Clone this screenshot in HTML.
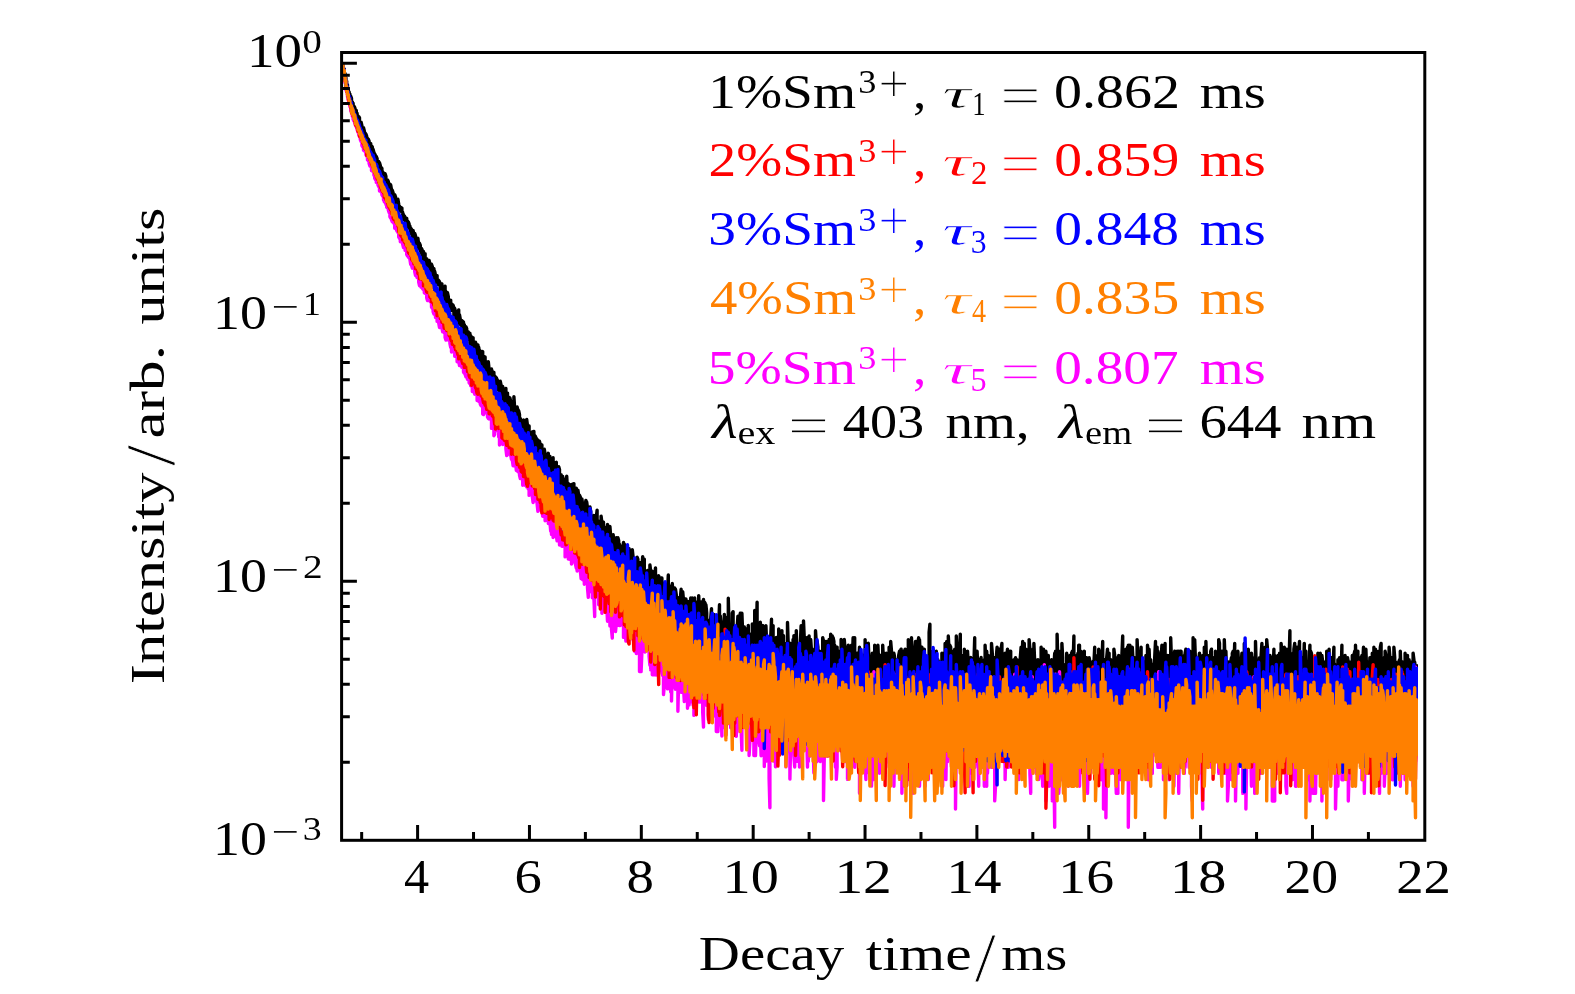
<!DOCTYPE html>
<html><head><meta charset="utf-8"><title>Decay curves</title>
<style>html,body{margin:0;padding:0;background:#fff}svg{display:block}text{font-family:"Liberation Serif",serif}</style>
</head><body>
<svg width="1575" height="994" viewBox="0 0 1575 994">
<rect width="1575" height="994" fill="#fff"/>
<g id="curves">
<polyline points="343.1,63.7 343.1,67.5 344.3,69.0 344.3,73.4 345.1,73.7 345.1,76.9 345.9,77.7 345.9,81.6 346.7,81.2 346.7,85.2 347.5,85.0 347.5,88.7 348.3,88.4 348.3,92.2 349.1,91.9 349.1,94.5 349.9,93.9 349.9,97.3 350.7,98.2 350.7,96.1 351.5,98.3 351.5,102.3 352.3,101.7 352.3,103.6 353.1,103.2 353.1,107.2 353.9,106.1 353.9,109.3 354.7,110.5 354.7,107.3 355.5,110.5 355.5,112.0 356.3,110.5 356.3,113.7 357.1,113.3 357.1,116.4 357.9,115.9 357.9,119.5 358.7,121.1 358.7,116.6 359.5,117.7 359.5,123.2 360.3,122.7 360.3,126.0 361.1,126.0 361.1,122.1 361.9,125.6 361.9,127.5 362.7,128.5 362.7,131.8 363.5,132.5 363.5,127.7 364.3,130.8 364.3,132.8 365.1,133.0 365.1,136.0 365.9,136.7 365.9,134.0 366.7,136.3 366.7,139.0 367.5,138.3 367.5,142.3 368.3,141.4 368.3,139.2 369.1,141.1 369.1,143.3 369.9,143.3 369.9,145.8 370.7,143.5 370.7,148.2 371.5,149.0 371.5,146.0 372.3,146.9 372.3,152.6 373.1,154.0 373.1,149.3 373.9,152.4 373.9,156.2 374.7,156.6 374.7,153.8 375.5,155.7 375.5,158.8 376.3,160.4 376.3,156.5 377.1,158.7 377.1,163.2 377.9,164.7 377.9,161.5 378.7,161.5 378.7,165.7 379.5,167.6 379.5,162.7 380.3,165.4 380.3,169.2 381.1,170.5 381.1,167.4 381.9,168.3 381.9,172.9 382.7,171.9 382.7,178.8 383.5,176.5 383.5,173.0 384.3,174.3 384.3,178.8 385.1,177.2 385.1,173.8 385.9,176.2 385.9,180.8 386.7,180.4 386.7,183.0 387.5,185.2 387.5,180.0 388.3,181.3 388.3,186.8 389.1,186.2 389.1,185.0 389.9,184.0 389.9,189.2 390.7,190.7 390.7,185.0 391.5,189.8 391.5,193.4 392.3,193.0 392.3,190.3 393.1,192.8 393.1,196.1 393.9,194.8 393.9,198.3 394.7,200.9 394.7,194.7 395.5,196.8 395.5,203.1 396.3,205.1 396.3,200.0 397.1,200.5 397.1,205.6 397.9,206.9 397.9,199.3 398.7,204.0 398.7,209.8 399.5,209.9 399.5,206.2 400.3,207.6 400.3,210.7 401.1,211.3 401.1,207.7 401.9,208.0 401.9,212.3 402.7,212.3 402.7,216.9 403.5,214.6 403.5,219.4 404.3,219.7 404.3,215.9 405.1,217.4 405.1,220.4 405.9,222.2 405.9,218.1 406.7,218.3 406.7,222.7 407.5,221.0 407.5,224.7 408.3,227.2 408.3,221.9 409.1,223.9 409.1,227.8 409.9,226.1 409.9,229.6 410.7,228.1 410.7,233.8 411.5,232.6 411.5,229.1 412.3,230.9 412.3,237.7 413.1,236.5 413.1,230.5 413.9,234.4 413.9,239.5 414.7,241.6 414.7,233.4 415.5,235.8 415.5,242.6 416.3,245.5 416.3,238.2 417.1,239.2 417.1,248.2 417.9,246.0 417.9,238.1 418.7,244.9 418.7,248.6 419.5,248.9 419.5,243.3 420.3,245.3 420.3,250.5 421.1,252.8 421.1,248.1 421.9,249.2 421.9,255.7 422.7,254.0 422.7,250.9 423.5,251.5 423.5,259.2 424.3,260.8 424.3,255.0 425.1,253.7 425.1,262.7 425.9,262.2 425.9,258.5 426.7,258.8 426.7,265.3 427.5,265.5 427.5,260.1 428.3,260.8 428.3,264.5 429.1,266.7 429.1,260.4 429.9,264.1 429.9,269.3 430.7,265.8 430.7,272.9 431.5,273.1 431.5,264.3 432.3,266.6 432.3,273.7 433.1,276.1 433.1,269.8 433.9,268.6 433.9,277.7 434.7,277.4 434.7,271.3 435.5,275.3 435.5,281.1 436.3,282.6 436.3,275.4 437.1,275.6 437.1,282.5 437.9,284.4 437.9,279.9 438.7,280.6 438.7,284.2 439.5,284.4 439.5,281.6 440.3,287.4 440.3,293.7 441.1,291.6 441.1,284.2 441.9,284.0 441.9,293.5 442.7,293.4 442.7,290.1 443.5,290.4 443.5,296.2 444.3,298.1 444.3,292.0 445.1,286.2 445.1,298.4 445.9,301.4 445.9,291.5 446.7,295.9 446.7,301.4 447.5,299.8 447.5,292.8 448.3,296.7 448.3,301.6 449.1,299.6 449.1,305.9 449.9,307.2 449.9,301.8 450.7,300.2 450.7,310.7 451.5,309.4 451.5,305.0 452.3,304.6 452.3,309.2 453.1,311.1 453.1,305.2 453.9,307.6 453.9,316.3 454.7,315.3 454.7,308.5 455.5,311.6 455.5,317.3 456.3,318.6 456.3,315.1 457.1,312.7 457.1,320.0 457.9,321.5 457.9,312.9 458.7,310.0 458.7,322.6 459.5,323.6 459.5,314.9 460.3,319.4 460.3,324.8 461.1,322.9 461.1,321.0 461.9,320.8 461.9,328.9 462.7,330.4 462.7,321.3 463.5,322.2 463.5,332.6 464.3,331.5 464.3,324.7 465.1,328.5 465.1,333.6 465.9,337.5 465.9,326.7 466.7,328.6 466.7,336.1 467.5,338.4 467.5,333.1 468.3,331.9 468.3,338.7 469.1,339.4 469.1,334.9 469.9,333.2 469.9,343.0 470.7,347.3 470.7,335.6 471.5,337.5 471.5,344.5 472.3,345.0 472.3,338.6 473.1,337.7 473.1,347.8 473.9,349.7 473.9,342.8 474.7,345.7 474.7,351.1 475.5,352.0 475.5,342.2 476.3,344.9 476.3,352.6 477.1,355.7 477.1,345.5 477.9,345.0 477.9,355.7 478.7,362.3 478.7,347.3 479.5,352.7 479.5,361.1 480.3,362.1 480.3,355.2 481.1,351.3 481.1,362.1 481.9,369.4 481.9,352.9 482.7,351.6 482.7,370.1 483.5,364.7 483.5,356.2 484.3,357.4 484.3,366.1 485.1,357.0 485.1,377.2 485.9,368.7 485.9,361.8 486.7,363.2 486.7,368.5 487.5,366.4 487.5,376.9 488.3,373.2 488.3,361.6 489.1,369.5 489.1,375.5 489.9,379.3 489.9,370.7 490.7,370.5 490.7,376.6 491.5,375.3 491.5,369.0 492.3,372.6 492.3,383.4 493.1,388.2 493.1,375.8 493.9,372.5 493.9,383.2 494.7,387.1 494.7,376.0 495.5,377.0 495.5,390.9 496.3,386.6 496.3,377.8 497.1,379.6 497.1,386.7 497.9,389.8 497.9,380.8 498.7,382.5 498.7,389.5 499.5,386.6 499.5,393.3 500.3,399.0 500.3,381.3 501.1,385.4 501.1,398.6 501.9,397.2 501.9,386.5 502.7,386.4 502.7,400.2 503.5,400.4 503.5,391.3 504.3,391.3 504.3,404.6 505.1,404.0 505.1,394.2 505.9,388.5 505.9,406.9 506.7,405.3 506.7,396.6 507.5,393.1 507.5,407.5 508.3,411.4 508.3,401.0 509.1,397.5 509.1,413.7 509.9,410.1 509.9,397.9 510.7,401.7 510.7,408.2 511.5,405.6 511.5,411.6 512.3,415.2 512.3,405.9 513.1,405.7 513.1,414.9 513.9,414.3 513.9,396.7 514.7,408.9 514.7,416.7 515.5,418.7 515.5,411.3 516.3,413.4 516.3,418.2 517.1,421.6 517.1,406.9 517.9,410.1 517.9,426.8 518.7,426.8 518.7,410.8 519.5,414.7 519.5,426.4 520.3,425.8 520.3,418.5 521.1,422.6 521.1,435.0 521.9,426.4 521.9,420.4 522.7,423.4 522.7,431.5 523.5,436.8 523.5,420.0 524.3,421.1 524.3,435.3 525.1,437.2 525.1,424.4 525.9,424.2 525.9,435.3 526.7,435.1 526.7,419.5 527.5,425.8 527.5,438.0 528.3,438.9 528.3,430.7 529.1,426.0 529.1,441.4 529.9,440.5 529.9,433.9 530.7,433.8 530.7,447.2 531.5,450.3 531.5,436.6 532.3,432.0 532.3,445.2 533.1,445.4 533.1,435.2 533.9,431.4 533.9,445.6 534.7,450.9 534.7,435.5 535.5,436.5 535.5,456.5 536.3,456.6 536.3,438.3 537.1,440.7 537.1,458.7 537.9,459.1 537.9,439.9 538.7,442.0 538.7,454.8 539.5,453.6 539.5,441.3 540.3,444.9 540.3,465.2 541.1,461.8 541.1,449.3 541.9,444.9 541.9,459.3 542.7,458.5 542.7,449.2 543.5,453.8 543.5,459.9 544.3,459.8 544.3,449.2 545.1,454.3 545.1,466.2 545.9,463.2 545.9,456.0 546.7,459.9 546.7,470.0 547.5,475.2 547.5,457.0 548.3,453.3 548.3,463.6 549.1,467.2 549.1,459.2 549.9,456.4 549.9,471.0 550.7,472.6 550.7,463.9 551.5,463.7 551.5,475.9 552.3,480.8 552.3,466.6 553.1,457.8 553.1,484.3 553.9,476.7 553.9,463.4 554.7,470.0 554.7,478.8 555.5,482.2 555.5,462.9 556.3,462.3 556.3,475.2 557.1,478.5 557.1,467.0 557.9,467.1 557.9,483.1 558.7,485.7 558.7,466.6 559.5,469.5 559.5,488.9 560.3,489.9 560.3,476.1 561.1,474.7 561.1,495.9 561.9,484.5 561.9,476.4 562.7,476.5 562.7,489.8 563.5,490.9 563.5,478.6 564.3,481.1 564.3,503.9 565.1,496.7 565.1,483.7 565.9,489.0 565.9,505.7 566.7,502.7 566.7,476.2 567.5,490.6 567.5,500.0 568.3,499.6 568.3,483.4 569.1,490.8 569.1,503.2 569.9,507.9 569.9,486.1 570.7,484.9 570.7,502.5 571.5,505.6 571.5,485.1 572.3,484.3 572.3,501.7 573.1,508.5 573.1,489.5 573.9,483.6 573.9,513.4 574.7,521.5 574.7,493.9 575.5,493.1 575.5,505.2 576.3,518.9 576.3,488.2 577.1,499.0 577.1,518.4 577.9,521.0 577.9,490.1 578.7,495.7 578.7,518.8 579.5,514.3 579.5,495.3 580.3,496.9 580.3,510.1 581.1,504.9 581.1,521.5 581.9,510.8 581.9,499.0 582.7,505.1 582.7,520.5 583.5,524.3 583.5,503.7 584.3,504.2 584.3,524.4 585.1,519.7 585.1,505.9 585.9,500.4 585.9,523.4 586.7,523.5 586.7,502.0 587.5,508.2 587.5,529.9 588.3,525.6 588.3,507.8 589.1,511.7 589.1,541.7 589.9,529.5 589.9,506.9 590.7,511.3 590.7,535.6 591.5,529.8 591.5,518.7 592.3,517.7 592.3,536.5 593.1,529.4 593.1,517.7 593.9,515.5 593.9,534.0 594.7,536.2 594.7,515.6 595.5,518.0 595.5,547.8 596.3,546.4 596.3,517.4 597.1,510.2 597.1,539.2 597.9,549.7 597.9,520.6 598.7,521.8 598.7,543.1 599.5,532.7 599.5,526.2 600.3,527.5 600.3,541.0 601.1,554.1 601.1,516.1 601.9,522.7 601.9,543.4 602.7,553.5 602.7,527.8 603.5,522.3 603.5,544.3 604.3,540.8 604.3,531.2 605.1,527.4 605.1,548.2 605.9,546.1 605.9,532.7 606.7,537.5 606.7,544.7 607.5,564.3 607.5,524.4 608.3,532.2 608.3,551.8 609.1,536.3 609.1,569.0 609.9,551.2 609.9,526.5 610.7,536.4 610.7,566.4 611.5,553.7 611.5,540.7 612.3,539.4 612.3,561.3 613.1,562.3 613.1,534.6 613.9,540.2 613.9,559.8 614.7,552.4 614.7,538.1 615.5,545.5 615.5,568.9 616.3,560.0 616.3,537.6 617.1,541.9 617.1,567.2 617.9,561.9 617.9,537.7 618.7,540.6 618.7,563.8 619.5,568.4 619.5,544.3 620.3,547.4 620.3,562.1 621.1,564.8 621.1,550.6 621.9,551.4 621.9,595.8 622.7,574.4 622.7,549.1 623.5,542.4 623.5,573.5 624.3,569.7 624.3,543.9 625.1,553.2 625.1,584.9 625.9,579.7 625.9,559.2 626.7,550.1 626.7,580.9 627.5,588.4 627.5,557.6 628.3,556.8 628.3,572.0 629.1,579.1 629.1,548.8 629.9,554.4 629.9,575.1 630.7,579.1 630.7,556.1 631.5,552.9 631.5,577.2 632.3,578.3 632.3,549.7 633.1,557.1 633.1,583.6 633.9,583.6 633.9,560.5 634.7,568.7 634.7,584.8 635.5,590.4 635.5,563.3 636.3,563.4 636.3,576.6 637.1,581.8 637.1,557.3 637.9,559.1 637.9,581.8 638.7,580.8 638.7,564.4 639.5,566.2 639.5,596.6 640.3,579.9 640.3,562.7 641.1,569.1 641.1,595.5 641.9,590.9 641.9,567.3 642.7,556.7 642.7,591.0 643.5,596.9 643.5,566.5 644.3,559.3 644.3,597.0 645.1,592.3 645.1,576.2 645.9,575.2 645.9,608.6 646.7,600.9 646.7,578.2 647.5,570.4 647.5,591.4 648.3,599.7 648.3,577.3 649.1,582.6 649.1,604.9 649.9,607.6 649.9,564.9 650.7,571.5 650.7,593.9 651.5,598.7 651.5,570.6 652.3,587.1 652.3,605.2 653.1,601.4 653.1,571.6 653.9,579.7 653.9,604.0 654.7,614.9 654.7,575.6 655.5,567.9 655.5,599.0 656.3,613.6 656.3,582.9 657.1,579.8 657.1,612.3 657.9,615.1 657.9,578.8 658.7,575.8 658.7,612.4 659.5,612.4 659.5,585.3 660.3,583.1 660.3,612.5 661.1,604.4 661.1,577.9 661.9,577.9 661.9,615.4 662.7,609.8 662.7,593.3 663.5,594.6 663.5,611.3 664.3,607.2 664.3,583.2 665.1,591.1 665.1,612.8 665.9,621.6 665.9,584.4 666.7,592.3 666.7,608.7 667.5,610.1 667.5,592.4 668.3,575.0 668.3,610.1 669.1,623.3 669.1,585.6 669.9,586.7 669.9,611.6 670.7,623.4 670.7,592.5 671.5,585.7 671.5,618.9 672.3,638.4 672.3,583.5 673.1,597.4 673.1,613.2 673.9,626.7 673.9,588.0 674.7,588.0 674.7,622.1 675.5,617.6 675.5,589.2 676.3,595.1 676.3,620.6 677.1,623.7 677.1,600.0 677.9,597.5 677.9,619.2 678.7,623.8 678.7,605.2 679.5,601.4 679.5,633.6 680.3,633.7 680.3,598.8 681.1,589.3 681.1,617.9 681.9,597.7 681.9,654.3 682.7,628.8 682.7,591.7 683.5,600.2 683.5,621.0 684.3,627.3 684.3,606.7 685.1,599.0 685.1,622.6 685.9,624.2 685.9,599.0 686.7,609.5 686.7,629.0 687.5,630.7 687.5,602.9 688.3,601.6 688.3,632.4 689.1,625.8 689.1,601.6 689.9,611.0 689.9,618.2 690.7,632.5 690.7,597.9 691.5,606.9 691.5,656.9 692.3,624.4 692.3,597.9 693.1,619.8 693.1,634.3 693.9,630.9 693.9,612.5 694.7,598.0 694.7,632.6 695.5,632.7 695.5,601.8 696.3,608.4 696.3,643.4 697.1,639.7 697.1,609.8 697.9,619.9 697.9,636.2 698.7,632.8 698.7,595.6 699.5,614.1 699.5,641.6 700.3,638.1 700.3,608.5 701.1,601.9 701.1,645.4 701.9,666.3 701.9,621.6 702.7,629.6 702.7,609.9 703.5,599.4 703.5,631.2 704.3,640.0 704.3,601.9 705.1,603.2 705.1,649.5 705.9,634.7 705.9,604.6 706.7,612.8 706.7,636.5 707.5,638.3 707.5,621.7 708.3,620.2 708.3,657.7 709.1,647.6 709.1,626.5 709.9,621.8 709.9,655.7 710.7,647.7 710.7,618.7 711.5,608.7 711.5,649.7 712.3,651.7 712.3,623.4 713.1,621.8 713.1,640.2 713.9,655.9 713.9,614.4 714.7,628.2 714.7,674.0 715.5,664.6 715.5,628.2 716.3,618.8 716.3,653.9 717.1,656.0 717.1,615.9 717.9,617.4 717.9,658.1 718.7,656.0 718.7,625.1 719.5,604.7 719.5,649.9 720.3,636.8 720.3,615.9 721.1,623.5 721.1,642.3 721.9,623.5 721.9,669.5 722.7,658.2 722.7,622.0 723.5,622.0 723.5,652.0 724.3,656.2 724.3,614.5 725.1,620.5 725.1,656.2 725.9,644.3 725.9,617.5 726.7,635.2 726.7,662.7 727.5,656.3 727.5,626.8 728.3,640.6 728.3,598.3 729.1,631.8 729.1,656.3 729.9,665.1 729.9,625.2 730.7,640.6 730.7,652.2 731.5,631.8 731.5,674.6 732.3,648.3 732.3,613.1 733.1,611.7 733.1,656.4 733.9,672.2 733.9,628.5 734.7,630.2 734.7,672.3 735.5,663.0 735.5,635.3 736.3,631.9 736.3,660.8 737.1,679.9 737.1,628.6 737.9,616.1 737.9,654.4 738.7,637.1 738.7,690.9 739.5,663.1 739.5,619.1 740.3,613.2 740.3,648.4 741.1,658.7 741.1,635.4 741.9,648.4 741.9,613.2 742.7,633.7 742.7,650.4 743.5,637.2 743.5,696.9 744.3,682.7 744.3,627.0 745.1,632.0 745.1,650.5 745.9,661.0 745.9,635.5 746.7,628.7 746.7,661.0 747.5,677.6 747.5,640.9 748.3,625.4 748.3,663.2 749.1,658.8 749.1,646.6 749.9,639.1 749.9,672.6 750.7,667.9 750.7,635.5 751.5,633.8 751.5,661.1 752.3,663.3 752.3,623.9 753.1,635.5 753.1,670.3 753.9,688.4 753.9,644.7 754.7,652.6 754.7,610.5 755.5,630.4 755.5,672.7 756.3,670.3 756.3,637.4 757.1,602.3 757.1,672.8 757.9,661.2 757.9,637.4 758.7,635.6 758.7,659.0 759.5,670.4 759.5,635.6 760.3,622.3 760.3,683.1 761.1,680.5 761.1,632.2 761.9,632.2 761.9,663.5 762.7,675.4 762.7,625.5 763.5,639.2 763.5,685.9 764.3,680.5 764.3,637.4 765.1,639.2 765.1,670.5 765.9,672.9 765.9,625.6 766.7,644.8 766.7,665.8 767.5,659.1 767.5,637.4 768.3,637.5 768.3,661.3 769.1,665.8 769.1,639.3 769.9,643.0 769.9,691.7 770.7,691.7 770.7,637.5 771.5,619.3 771.5,688.8 772.3,673.0 772.3,635.7 773.1,625.6 773.1,670.6 773.9,673.0 773.9,639.3 774.7,648.8 774.7,694.7 775.5,691.7 775.5,646.8 776.3,637.5 776.3,686.1 777.1,686.1 777.1,652.9 777.9,644.9 777.9,678.1 778.7,680.7 778.7,628.9 779.5,639.3 779.5,661.4 780.3,646.9 780.3,678.2 781.1,661.4 781.1,650.9 781.9,630.6 781.9,689.0 782.7,670.7 782.7,648.9 783.5,635.8 783.5,666.0 784.3,643.1 784.3,697.9 785.1,680.8 785.1,646.9 785.9,648.9 785.9,689.0 786.7,675.7 786.7,648.9 787.5,661.5 787.5,622.5 788.3,646.9 788.3,707.6 789.1,673.2 789.1,657.1 789.9,643.1 789.9,686.3 790.7,698.0 790.7,657.2 791.5,666.1 791.5,646.9 792.3,653.0 792.3,668.4 793.1,639.4 793.1,704.3 793.9,704.3 793.9,635.8 794.7,635.8 794.7,692.0 795.5,675.8 795.5,650.9 796.3,663.8 796.3,630.6 797.1,659.4 797.1,675.8 797.9,647.0 797.9,714.6 798.7,704.4 798.7,657.2 799.5,647.0 799.5,686.4 800.3,686.4 800.3,645.1 801.1,625.7 801.1,681.0 801.9,683.7 801.9,659.4 802.7,647.0 802.7,695.1 803.5,675.8 803.5,620.9 804.3,639.4 804.3,686.4 805.1,657.2 805.1,643.2 805.9,655.1 805.9,689.3 806.7,704.5 806.7,637.6 807.5,641.3 807.5,675.9 808.3,683.7 808.3,649.0 809.1,635.9 809.1,670.9 809.9,649.0 809.9,695.1 810.7,681.1 810.7,639.5 811.5,651.0 811.5,686.5 812.3,681.1 812.3,653.1 813.1,657.3 813.1,681.1 813.9,695.2 813.9,651.0 814.7,649.0 814.7,695.2 815.5,686.5 815.5,630.7 816.3,643.2 816.3,686.5 817.1,686.5 817.1,641.3 817.9,647.1 817.9,675.9 818.7,692.3 818.7,655.2 819.5,651.1 819.5,681.1 820.3,683.8 820.3,655.2 821.1,661.7 821.1,678.5 821.9,655.2 821.9,714.9 822.7,689.4 822.7,637.7 823.5,641.3 823.5,683.8 824.3,698.3 824.3,655.2 825.1,641.4 825.1,673.5 825.9,661.7 825.9,701.5 826.7,666.3 826.7,641.4 827.5,657.3 827.5,686.6 828.3,673.5 828.3,661.7 829.1,639.5 829.1,704.7 829.9,698.4 829.9,659.5 830.7,634.1 830.7,692.3 831.5,711.5 831.5,643.2 832.3,635.9 832.3,678.6 833.1,692.4 833.1,637.7 833.9,641.4 833.9,708.1 834.7,676.0 834.7,645.2 835.5,659.5 835.5,683.9 836.3,681.2 836.3,651.1 837.1,647.1 837.1,689.5 837.9,692.4 837.9,664.0 838.7,657.4 838.7,689.5 839.5,711.6 839.5,651.1 840.3,653.2 840.3,711.6 841.1,671.1 841.1,639.5 841.9,666.3 841.9,715.1 842.7,686.7 842.7,664.0 843.5,647.1 843.5,686.7 844.3,689.5 844.3,639.5 845.1,651.1 845.1,678.6 845.9,689.5 845.9,657.4 846.7,653.2 846.7,689.5 847.5,692.4 847.5,655.3 848.3,645.2 848.3,676.1 849.1,659.6 849.1,708.2 849.9,692.5 849.9,659.6 850.7,657.4 850.7,678.7 851.5,645.2 851.5,715.2 852.3,678.7 852.3,661.8 853.1,637.7 853.1,704.9 853.9,686.7 853.9,649.1 854.7,637.7 854.7,692.5 855.5,698.5 855.5,666.4 856.3,659.6 856.3,704.9 857.1,689.6 857.1,653.2 857.9,657.4 857.9,684.0 858.7,689.6 858.7,664.1 859.5,647.2 859.5,681.3 860.3,689.6 860.3,661.8 861.1,657.4 861.1,686.8 861.9,708.3 861.9,657.4 862.7,655.3 862.7,684.0 863.5,692.5 863.5,661.8 864.3,661.8 864.3,708.3 865.1,692.5 865.1,639.6 865.9,676.1 865.9,692.5 866.7,681.3 866.7,659.6 867.5,668.8 867.5,689.6 868.3,684.0 868.3,643.3 869.1,664.1 869.1,708.3 869.9,698.6 869.9,657.5 870.7,673.6 870.7,705.0 871.5,686.8 871.5,666.4 872.3,653.2 872.3,692.5 873.1,695.5 873.1,661.8 873.9,666.4 873.9,711.8 874.7,701.7 874.7,645.2 875.5,653.2 875.5,701.8 876.3,715.3 876.3,668.8 877.1,661.9 877.1,695.5 877.9,692.6 877.9,645.2 878.7,664.1 878.7,708.3 879.5,705.0 879.5,659.6 880.3,655.3 880.3,684.1 881.1,686.8 881.1,678.7 881.9,673.7 881.9,726.7 882.7,692.6 882.7,645.2 883.5,661.9 883.5,695.6 884.3,719.0 884.3,653.2 885.1,668.8 885.1,698.6 885.9,684.1 885.9,657.5 886.7,653.3 886.7,686.9 887.5,701.8 887.5,655.3 888.3,673.7 888.3,686.9 889.1,686.9 889.1,647.2 889.9,653.3 889.9,698.6 890.7,705.0 890.7,641.4 891.5,651.2 891.5,689.7 892.3,701.8 892.3,659.7 893.1,661.9 893.1,692.6 893.9,692.6 893.9,653.3 894.7,657.5 894.7,705.1 895.5,689.7 895.5,673.7 896.3,659.7 896.3,705.1 897.1,701.8 897.1,666.5 897.9,661.9 897.9,695.6 898.7,698.7 898.7,655.4 899.5,651.2 899.5,684.1 900.3,701.8 900.3,651.2 901.1,649.2 901.1,695.6 901.9,701.8 901.9,666.5 902.7,651.2 902.7,686.9 903.5,676.2 903.5,701.8 904.3,708.4 904.3,673.7 905.1,692.6 905.1,649.2 905.9,651.2 905.9,695.6 906.7,678.8 906.7,661.9 907.5,649.2 907.5,698.7 908.3,698.7 908.3,639.6 909.1,657.5 909.1,726.8 909.9,708.4 909.9,664.2 910.7,647.2 910.7,692.6 911.5,708.4 911.5,637.8 912.3,671.2 912.3,698.7 913.1,686.9 913.1,657.5 913.9,653.3 913.9,708.4 914.7,695.6 914.7,651.2 915.5,641.5 915.5,692.7 916.3,705.1 916.3,657.5 917.1,651.2 917.1,715.5 917.9,673.7 917.9,641.5 918.7,637.8 918.7,684.2 919.5,681.5 919.5,639.6 920.3,657.5 920.3,689.8 921.1,695.7 921.1,653.3 921.9,647.2 921.9,686.9 922.7,708.5 922.7,653.3 923.5,657.5 923.5,698.7 924.3,695.7 924.3,649.2 925.1,664.2 925.1,689.8 925.9,692.7 925.9,661.9 926.7,664.2 926.7,698.7 927.5,705.1 927.5,657.5 928.3,666.5 928.3,698.7 929.1,689.8 929.1,632.5 929.9,624.2 929.9,698.7 930.7,692.7 930.7,651.2 931.5,661.9 931.5,708.5 932.3,708.5 932.3,655.4 933.1,671.3 933.1,692.7 933.9,715.5 933.9,661.9 934.7,657.5 934.7,726.9 935.5,684.2 935.5,661.9 936.3,651.2 936.3,695.7 937.1,695.7 937.1,673.7 937.9,659.7 937.9,708.5 938.7,698.8 938.7,664.2 939.5,676.3 939.5,708.5 940.3,701.9 940.3,661.9 941.1,661.9 941.1,698.8 941.9,701.9 941.9,653.3 942.7,655.4 942.7,686.9 943.5,705.2 943.5,653.3 944.3,655.4 944.3,678.8 945.1,692.7 945.1,643.4 945.9,653.3 945.9,701.9 946.7,698.8 946.7,641.5 947.5,657.5 947.5,705.2 948.3,695.7 948.3,636.0 949.1,651.2 949.1,698.8 949.9,726.9 949.9,645.3 950.7,647.2 950.7,695.7 951.5,705.2 951.5,684.2 952.3,681.5 952.3,708.5 953.1,712.0 953.1,651.2 953.9,666.5 953.9,715.5 954.7,687.0 954.7,649.2 955.5,671.3 955.5,705.2 956.3,723.0 956.3,636.0 957.1,661.9 957.1,695.7 957.9,698.8 957.9,668.9 958.7,655.4 958.7,719.2 959.5,708.5 959.5,651.2 960.3,634.2 960.3,705.2 961.1,701.9 961.1,657.5 961.9,661.9 961.9,698.8 962.7,698.8 962.7,655.4 963.5,671.3 963.5,723.0 964.3,695.7 964.3,649.2 965.1,657.5 965.1,695.7 965.9,689.8 965.9,666.5 966.7,676.3 966.7,712.0 967.5,695.7 967.5,651.2 968.3,664.2 968.3,692.7 969.1,701.9 969.1,666.5 969.9,661.9 969.9,698.8 970.7,723.0 970.7,657.5 971.5,666.5 971.5,731.0 972.3,698.8 972.3,664.2 973.1,678.9 973.1,692.7 973.9,695.7 973.9,664.2 974.7,637.8 974.7,698.8 975.5,719.2 975.5,653.3 976.3,659.7 976.3,698.8 977.1,727.0 977.1,651.2 977.9,671.3 977.9,695.7 978.7,708.5 978.7,664.2 979.5,659.7 979.5,692.7 980.3,705.2 980.3,666.5 981.1,657.5 981.1,698.8 981.9,705.2 981.9,666.5 982.7,664.2 982.7,695.7 983.5,689.8 983.5,676.3 984.3,659.7 984.3,695.7 985.1,692.7 985.1,645.3 985.9,668.9 985.9,698.8 986.7,715.6 986.7,651.3 987.5,664.2 987.5,708.6 988.3,698.8 988.3,655.4 989.1,668.9 989.1,708.6 989.9,692.7 989.9,668.9 990.7,673.8 990.7,702.0 991.5,687.0 991.5,643.4 992.3,653.3 992.3,692.7 993.1,708.6 993.1,664.2 993.9,666.5 993.9,702.0 994.7,705.2 994.7,657.6 995.5,678.9 995.5,705.2 996.3,689.8 996.3,657.6 997.1,647.2 997.1,705.2 997.9,708.6 997.9,657.6 998.7,676.3 998.7,708.6 999.5,698.8 999.5,649.2 1000.3,657.6 1000.3,702.0 1001.1,681.5 1001.1,649.2 1001.9,643.4 1001.9,698.8 1002.7,719.3 1002.7,657.6 1003.5,655.4 1003.5,689.8 1004.3,695.7 1004.3,678.9 1005.1,695.7 1005.1,653.3 1005.9,666.5 1005.9,702.0 1006.7,715.6 1006.7,659.7 1007.5,649.2 1007.5,702.0 1008.3,719.3 1008.3,671.3 1009.1,651.3 1009.1,702.0 1009.9,689.8 1009.9,664.2 1010.7,651.3 1010.7,705.2 1011.5,705.2 1011.5,673.8 1012.3,664.2 1012.3,702.0 1013.1,708.6 1013.1,666.5 1013.9,659.7 1013.9,687.0 1014.7,708.6 1014.7,664.2 1015.5,657.6 1015.5,692.8 1016.3,659.7 1016.3,727.0 1017.1,705.2 1017.1,659.7 1017.9,676.3 1017.9,708.6 1018.7,708.6 1018.7,662.0 1019.5,662.0 1019.5,708.6 1020.3,712.0 1020.3,657.6 1021.1,647.2 1021.1,715.6 1021.9,735.3 1021.9,662.0 1022.7,641.5 1022.7,754.0 1023.5,727.0 1023.5,662.0 1024.3,643.4 1024.3,705.2 1025.1,735.3 1025.1,673.8 1025.9,692.8 1025.9,649.2 1026.7,655.4 1026.7,715.6 1027.5,692.8 1027.5,651.3 1028.3,659.7 1028.3,689.8 1029.1,698.8 1029.1,639.6 1029.9,649.2 1029.9,723.1 1030.7,692.8 1030.7,666.5 1031.5,662.0 1031.5,705.2 1032.3,689.8 1032.3,653.3 1033.1,649.2 1033.1,708.6 1033.9,692.8 1033.9,643.4 1034.7,662.0 1034.7,692.8 1035.5,723.1 1035.5,659.7 1036.3,671.3 1036.3,695.8 1037.1,702.0 1037.1,666.5 1037.9,659.7 1037.9,684.2 1038.7,673.8 1038.7,715.6 1039.5,708.6 1039.5,662.0 1040.3,662.0 1040.3,715.6 1041.1,698.8 1041.1,647.3 1041.9,653.3 1041.9,695.8 1042.7,692.8 1042.7,662.0 1043.5,649.2 1043.5,705.2 1044.3,698.8 1044.3,666.5 1045.1,651.3 1045.1,689.9 1045.9,695.8 1045.9,651.3 1046.7,662.0 1046.7,715.6 1047.5,712.0 1047.5,678.9 1048.3,655.4 1048.3,723.1 1049.1,692.8 1049.1,664.2 1049.9,662.0 1049.9,698.8 1050.7,715.6 1050.7,666.5 1051.5,659.7 1051.5,719.3 1052.3,695.8 1052.3,664.2 1053.1,664.2 1053.1,723.1 1053.9,708.6 1053.9,666.5 1054.7,653.3 1054.7,695.8 1055.5,692.8 1055.5,651.3 1056.3,664.2 1056.3,712.0 1057.1,715.6 1057.1,634.2 1057.9,662.0 1057.9,698.8 1058.7,684.2 1058.7,662.0 1059.5,659.7 1059.5,687.0 1060.3,705.2 1060.3,651.3 1061.1,673.8 1061.1,698.8 1061.9,687.0 1061.9,643.4 1062.7,657.6 1062.7,715.6 1063.5,702.0 1063.5,671.3 1064.3,668.9 1064.3,702.0 1065.1,723.1 1065.1,676.3 1065.9,664.2 1065.9,715.6 1066.7,719.3 1066.7,653.3 1067.5,671.3 1067.5,705.3 1068.3,698.8 1068.3,666.6 1069.1,662.0 1069.1,695.8 1069.9,678.9 1069.9,655.4 1070.7,666.6 1070.7,689.9 1071.5,702.0 1071.5,653.3 1072.3,651.3 1072.3,715.6 1073.1,702.0 1073.1,664.2 1073.9,636.0 1073.9,712.1 1074.7,687.0 1074.7,655.4 1075.5,657.6 1075.5,678.9 1076.3,666.6 1076.3,712.1 1077.1,698.8 1077.1,659.7 1077.9,653.3 1077.9,702.0 1078.7,702.0 1078.7,645.3 1079.5,645.3 1079.5,715.6 1080.3,684.2 1080.3,655.4 1081.1,651.3 1081.1,702.0 1081.9,719.3 1081.9,673.8 1082.7,671.3 1082.7,698.8 1083.5,698.8 1083.5,653.3 1084.3,651.3 1084.3,681.5 1085.1,657.6 1085.1,719.3 1085.9,727.0 1085.9,657.6 1086.7,657.6 1086.7,692.8 1087.5,719.3 1087.5,664.2 1088.3,668.9 1088.3,695.8 1089.1,708.6 1089.1,657.6 1089.9,662.0 1089.9,723.1 1090.7,744.3 1090.7,684.2 1091.5,678.9 1091.5,731.1 1092.3,715.6 1092.3,662.0 1093.1,664.2 1093.1,715.6 1093.9,705.3 1093.9,664.2 1094.7,647.3 1094.7,705.3 1095.5,712.1 1095.5,655.4 1096.3,662.0 1096.3,723.1 1097.1,723.1 1097.1,666.6 1097.9,662.0 1097.9,698.8 1098.7,715.6 1098.7,649.2 1099.5,662.0 1099.5,692.8 1100.3,727.0 1100.3,651.3 1101.1,664.2 1101.1,695.8 1101.9,695.8 1101.9,662.0 1102.7,641.5 1102.7,708.6 1103.5,708.6 1103.5,662.0 1104.3,659.7 1104.3,705.3 1105.1,708.6 1105.1,678.9 1105.9,666.6 1105.9,705.3 1106.7,735.3 1106.7,657.6 1107.5,649.2 1107.5,705.3 1108.3,712.1 1108.3,664.2 1109.1,653.3 1109.1,702.0 1109.9,712.1 1109.9,664.2 1110.7,659.7 1110.7,681.5 1111.5,681.5 1111.5,695.8 1112.3,723.1 1112.3,666.6 1113.1,668.9 1113.1,715.6 1113.9,723.1 1113.9,649.2 1114.7,655.4 1114.7,702.0 1115.5,702.0 1115.5,657.6 1116.3,657.6 1116.3,723.1 1117.1,719.3 1117.1,666.6 1117.9,673.8 1117.9,708.6 1118.7,702.0 1118.7,655.4 1119.5,673.8 1119.5,708.6 1120.3,712.1 1120.3,668.9 1121.1,678.9 1121.1,695.8 1121.9,678.9 1121.9,655.4 1122.7,636.0 1122.7,695.8 1123.5,723.1 1123.5,662.0 1124.3,664.2 1124.3,712.1 1125.1,695.8 1125.1,673.8 1125.9,649.2 1125.9,705.3 1126.7,698.8 1126.7,664.2 1127.5,647.3 1127.5,708.6 1128.3,705.3 1128.3,645.3 1129.1,668.9 1129.1,698.8 1129.9,702.0 1129.9,645.3 1130.7,664.2 1130.7,681.5 1131.5,659.7 1131.5,708.6 1132.3,705.3 1132.3,647.3 1133.1,662.0 1133.1,702.0 1133.9,695.8 1133.9,664.2 1134.7,657.6 1134.7,727.0 1135.5,719.3 1135.5,676.3 1136.3,668.9 1136.3,708.6 1137.1,723.1 1137.1,639.6 1137.9,657.6 1137.9,705.3 1138.7,695.8 1138.7,662.0 1139.5,662.0 1139.5,727.0 1140.3,698.9 1140.3,671.3 1141.1,647.3 1141.1,702.0 1141.9,684.3 1141.9,659.7 1142.7,678.9 1142.7,712.1 1143.5,698.9 1143.5,662.0 1144.3,673.8 1144.3,692.8 1145.1,662.0 1145.1,731.1 1145.9,698.9 1145.9,655.4 1146.7,662.0 1146.7,708.6 1147.5,708.6 1147.5,645.3 1148.3,653.3 1148.3,695.8 1149.1,671.3 1149.1,649.2 1149.9,671.3 1149.9,702.0 1150.7,719.3 1150.7,659.7 1151.5,668.9 1151.5,702.0 1152.3,712.1 1152.3,664.2 1153.1,666.6 1153.1,692.8 1153.9,676.3 1153.9,712.1 1154.7,715.6 1154.7,657.6 1155.5,641.5 1155.5,708.6 1156.3,689.9 1156.3,655.4 1157.1,647.3 1157.1,689.9 1157.9,692.8 1157.9,651.3 1158.7,657.6 1158.7,695.8 1159.5,712.1 1159.5,678.9 1160.3,662.0 1160.3,702.0 1161.1,695.8 1161.1,659.7 1161.9,645.3 1161.9,727.0 1162.7,712.1 1162.7,659.7 1163.5,678.9 1163.5,695.8 1164.3,708.6 1164.3,659.8 1165.1,643.4 1165.1,712.1 1165.9,692.8 1165.9,666.6 1166.7,668.9 1166.7,719.3 1167.5,727.0 1167.5,655.4 1168.3,676.3 1168.3,705.3 1169.1,705.3 1169.1,655.4 1169.9,662.0 1169.9,708.6 1170.7,692.8 1170.7,637.8 1171.5,662.0 1171.5,705.3 1172.3,687.0 1172.3,659.8 1173.1,662.0 1173.1,702.0 1173.9,705.3 1173.9,657.6 1174.7,651.3 1174.7,708.6 1175.5,715.6 1175.5,653.3 1176.3,662.0 1176.3,731.1 1177.1,708.6 1177.1,651.3 1177.9,666.6 1177.9,698.9 1178.7,702.0 1178.7,651.3 1179.5,668.9 1179.5,687.0 1180.3,715.6 1180.3,651.3 1181.1,651.3 1181.1,731.1 1181.9,695.8 1181.9,662.0 1182.7,676.3 1182.7,712.1 1183.5,695.8 1183.5,671.3 1184.3,655.4 1184.3,715.6 1185.1,705.3 1185.1,653.3 1185.9,649.2 1185.9,712.1 1186.7,692.8 1186.7,651.3 1187.5,655.4 1187.5,678.9 1188.3,671.3 1188.3,731.1 1189.1,684.3 1189.1,651.3 1189.9,651.3 1189.9,692.8 1190.7,705.3 1190.7,668.9 1191.5,684.3 1191.5,719.3 1192.3,723.1 1192.3,666.6 1193.1,678.9 1193.1,637.8 1193.9,664.2 1193.9,684.3 1194.7,684.3 1194.7,639.6 1195.5,662.0 1195.5,687.0 1196.3,671.3 1196.3,708.6 1197.1,705.3 1197.1,666.6 1197.9,662.0 1197.9,695.8 1198.7,695.8 1198.7,659.8 1199.5,653.3 1199.5,687.0 1200.3,692.8 1200.3,659.8 1201.1,673.8 1201.1,719.3 1201.9,705.3 1201.9,671.3 1202.7,655.4 1202.7,695.8 1203.5,695.8 1203.5,668.9 1204.3,689.9 1204.3,647.3 1205.1,676.3 1205.1,712.1 1205.9,692.8 1205.9,641.5 1206.7,671.3 1206.7,705.3 1207.5,705.3 1207.5,668.9 1208.3,666.6 1208.3,708.6 1209.1,687.0 1209.1,655.4 1209.9,668.9 1209.9,715.6 1210.7,698.9 1210.7,651.3 1211.5,649.2 1211.5,715.6 1212.3,715.6 1212.3,664.2 1213.1,657.6 1213.1,695.8 1213.9,695.8 1213.9,664.2 1214.7,664.2 1214.7,695.8 1215.5,687.0 1215.5,651.3 1216.3,666.6 1216.3,715.6 1217.1,689.9 1217.1,657.6 1217.9,664.2 1217.9,708.6 1218.7,705.3 1218.7,639.6 1219.5,643.4 1219.5,689.9 1220.3,681.6 1220.3,719.3 1221.1,702.0 1221.1,664.2 1221.9,651.3 1221.9,689.9 1222.7,698.9 1222.7,671.3 1223.5,659.8 1223.5,715.6 1224.3,708.6 1224.3,639.6 1225.1,662.0 1225.1,702.0 1225.9,708.6 1225.9,651.3 1226.7,678.9 1226.7,708.6 1227.5,715.6 1227.5,671.3 1228.3,662.0 1228.3,698.9 1229.1,708.6 1229.1,676.3 1229.9,666.6 1229.9,708.6 1230.7,712.1 1230.7,662.0 1231.5,657.6 1231.5,715.6 1232.3,705.3 1232.3,653.3 1233.1,651.3 1233.1,698.9 1233.9,698.9 1233.9,666.6 1234.7,643.4 1234.7,708.6 1235.5,698.9 1235.5,657.6 1236.3,664.2 1236.3,719.3 1237.1,705.3 1237.1,678.9 1237.9,695.8 1237.9,651.3 1238.7,666.6 1238.7,705.3 1239.5,702.0 1239.5,673.8 1240.3,664.2 1240.3,708.6 1241.1,695.8 1241.1,664.2 1241.9,653.3 1241.9,698.9 1242.7,705.3 1242.7,657.6 1243.5,676.3 1243.5,712.1 1244.3,684.3 1244.3,643.4 1245.1,668.9 1245.1,702.0 1245.9,676.3 1245.9,664.2 1246.7,659.8 1246.7,689.9 1247.5,681.6 1247.5,731.1 1248.3,705.3 1248.3,649.2 1249.1,671.3 1249.1,695.8 1249.9,702.0 1249.9,671.3 1250.7,668.9 1250.7,687.0 1251.5,695.8 1251.5,653.3 1252.3,664.2 1252.3,671.3 1253.1,662.0 1253.1,708.6 1253.9,687.0 1253.9,664.2 1254.7,657.6 1254.7,723.1 1255.5,705.3 1255.5,641.5 1256.3,668.9 1256.3,692.8 1257.1,712.1 1257.1,668.9 1257.9,662.0 1257.9,715.6 1258.7,689.9 1258.7,671.3 1259.5,657.6 1259.5,731.1 1260.3,687.0 1260.3,676.3 1261.1,687.0 1261.1,655.4 1261.9,643.4 1261.9,689.9 1262.7,666.6 1262.7,727.1 1263.5,702.0 1263.5,666.6 1264.3,655.4 1264.3,692.8 1265.1,708.6 1265.1,647.3 1265.9,647.3 1265.9,698.9 1266.7,708.6 1266.7,639.6 1267.5,649.2 1267.5,702.0 1268.3,727.1 1268.3,668.9 1269.1,659.8 1269.1,702.0 1269.9,719.3 1269.9,655.4 1270.7,657.6 1270.7,695.8 1271.5,727.1 1271.5,662.0 1272.3,666.6 1272.3,715.6 1273.1,708.6 1273.1,673.8 1273.9,649.2 1273.9,705.3 1274.7,687.0 1274.7,655.4 1275.5,671.3 1275.5,692.8 1276.3,708.6 1276.3,664.2 1277.1,662.0 1277.1,708.6 1277.9,708.6 1277.9,655.4 1278.7,671.3 1278.7,708.6 1279.5,723.1 1279.5,653.3 1280.3,655.4 1280.3,689.9 1281.1,715.6 1281.1,643.4 1281.9,653.3 1281.9,702.0 1282.7,698.9 1282.7,666.6 1283.5,666.6 1283.5,705.3 1284.3,705.3 1284.3,647.3 1285.1,659.8 1285.1,723.1 1285.9,723.1 1285.9,657.6 1286.7,649.2 1286.7,689.9 1287.5,708.6 1287.5,664.2 1288.3,653.3 1288.3,708.6 1289.1,708.6 1289.1,659.8 1289.9,630.8 1289.9,695.8 1290.7,705.3 1290.7,681.6 1291.5,662.0 1291.5,702.0 1292.3,705.3 1292.3,657.6 1293.1,653.3 1293.1,723.1 1293.9,698.9 1293.9,649.2 1294.7,643.4 1294.7,727.1 1295.5,705.3 1295.5,664.2 1296.3,649.2 1296.3,712.1 1297.1,712.1 1297.1,647.3 1297.9,673.8 1297.9,708.6 1298.7,698.9 1298.7,655.4 1299.5,641.5 1299.5,698.9 1300.3,689.9 1300.3,662.0 1301.1,659.8 1301.1,712.1 1301.9,715.6 1301.9,657.6 1302.7,664.2 1302.7,723.1 1303.5,687.0 1303.5,668.9 1304.3,643.4 1304.3,698.9 1305.1,695.8 1305.1,659.8 1305.9,651.3 1305.9,681.6 1306.7,676.3 1306.7,715.6 1307.5,684.3 1307.5,666.6 1308.3,668.9 1308.3,687.0 1309.1,705.3 1309.1,666.6 1309.9,645.3 1309.9,702.0 1310.7,712.1 1310.7,651.3 1311.5,653.3 1311.5,705.3 1312.3,695.8 1312.3,668.9 1313.1,664.2 1313.1,702.0 1313.9,708.6 1313.9,681.6 1314.7,678.9 1314.7,712.1 1315.5,695.8 1315.5,664.2 1316.3,659.8 1316.3,712.1 1317.1,731.1 1317.1,678.9 1317.9,653.3 1317.9,705.3 1318.7,712.1 1318.7,657.6 1319.5,662.0 1319.5,723.1 1320.3,689.9 1320.3,653.3 1321.1,666.6 1321.1,702.0 1321.9,695.8 1321.9,655.4 1322.7,662.0 1322.7,708.6 1323.5,702.0 1323.5,666.6 1324.3,664.2 1324.3,727.1 1325.1,695.8 1325.1,662.0 1325.9,666.6 1325.9,715.6 1326.7,702.0 1326.7,651.3 1327.5,659.8 1327.5,712.1 1328.3,698.9 1328.3,673.8 1329.1,649.2 1329.1,708.6 1329.9,731.1 1329.9,664.2 1330.7,671.3 1330.7,698.9 1331.5,684.3 1331.5,657.6 1332.3,659.8 1332.3,687.0 1333.1,695.8 1333.1,664.2 1333.9,647.3 1333.9,708.6 1334.7,708.6 1334.7,664.2 1335.5,668.9 1335.5,708.6 1336.3,684.3 1336.3,678.9 1337.1,684.3 1337.1,705.3 1337.9,692.8 1337.9,659.8 1338.7,673.8 1338.7,702.0 1339.5,705.3 1339.5,657.6 1340.3,657.6 1340.3,705.3 1341.1,692.8 1341.1,673.8 1341.9,645.3 1341.9,715.6 1342.7,698.9 1342.7,668.9 1343.5,657.6 1343.5,681.6 1344.3,689.9 1344.3,668.9 1345.1,655.4 1345.1,702.0 1345.9,692.8 1345.9,657.6 1346.7,659.8 1346.7,698.9 1347.5,731.1 1347.5,657.6 1348.3,662.0 1348.3,759.3 1349.1,695.8 1349.1,668.9 1349.9,678.9 1349.9,727.1 1350.7,715.6 1350.7,662.0 1351.5,664.2 1351.5,727.1 1352.3,692.8 1352.3,655.4 1353.1,671.3 1353.1,708.6 1353.9,712.1 1353.9,655.4 1354.7,651.3 1354.7,698.9 1355.5,695.8 1355.5,645.3 1356.3,676.3 1356.3,705.3 1357.1,695.8 1357.1,666.6 1357.9,651.3 1357.9,705.3 1358.7,695.8 1358.7,673.8 1359.5,689.9 1359.5,657.6 1360.3,666.6 1360.3,698.9 1361.1,702.0 1361.1,662.0 1361.9,655.4 1361.9,705.3 1362.7,739.8 1362.7,664.2 1363.5,647.3 1363.5,702.0 1364.3,715.6 1364.3,671.3 1365.1,666.6 1365.1,687.0 1365.9,689.9 1365.9,649.2 1366.7,673.8 1366.7,689.9 1367.5,676.3 1367.5,712.1 1368.3,695.8 1368.3,662.0 1369.1,668.9 1369.1,676.3 1369.9,657.6 1369.9,702.0 1370.7,739.8 1370.7,659.8 1371.5,676.3 1371.5,712.1 1372.3,702.0 1372.3,653.3 1373.1,653.3 1373.1,712.1 1373.9,712.1 1373.9,647.3 1374.7,657.6 1374.7,708.6 1375.5,666.6 1375.5,649.2 1376.3,664.2 1376.3,689.9 1377.1,689.9 1377.1,657.6 1377.9,662.0 1377.9,698.9 1378.7,695.8 1378.7,651.3 1379.5,671.3 1379.5,698.9 1380.3,708.6 1380.3,647.3 1381.1,643.4 1381.1,715.6 1381.9,702.0 1381.9,668.9 1382.7,662.0 1382.7,698.9 1383.5,695.8 1383.5,659.8 1384.3,657.6 1384.3,698.9 1385.1,695.8 1385.1,651.3 1385.9,655.4 1385.9,723.1 1386.7,712.1 1386.7,659.8 1387.5,664.2 1387.5,692.8 1388.3,705.3 1388.3,676.3 1389.1,692.8 1389.1,647.3 1389.9,657.6 1389.9,705.3 1390.7,695.8 1390.7,659.8 1391.5,657.6 1391.5,715.6 1392.3,715.6 1392.3,664.2 1393.1,676.3 1393.1,727.1 1393.9,695.8 1393.9,647.3 1394.7,657.6 1394.7,702.0 1395.5,735.4 1395.5,662.0 1396.3,664.2 1396.3,727.1 1397.1,698.9 1397.1,671.3 1397.9,671.3 1397.9,727.1 1398.7,687.0 1398.7,662.0 1399.5,659.8 1399.5,689.9 1400.3,715.6 1400.3,651.3 1401.1,671.3 1401.1,705.3 1401.9,692.8 1401.9,664.2 1402.7,662.0 1402.7,681.6 1403.5,689.9 1403.5,662.0 1404.3,664.2 1404.3,695.8 1405.1,727.1 1405.1,653.3 1405.9,671.3 1405.9,705.3 1406.7,705.3 1406.7,671.3 1407.5,655.4 1407.5,698.9 1408.3,692.8 1408.3,673.8 1409.1,659.8 1409.1,689.9 1409.9,708.6 1409.9,664.2 1410.7,662.0 1410.7,705.3 1411.5,731.1 1411.5,666.6 1412.3,664.2 1412.3,687.0 1413.1,692.8 1413.1,653.3 1413.9,659.8 1413.9,712.1 1414.7,702.0 1414.7,662.0 1415.5,673.8 1415.5,705.3 1416.3,705.3 1416.3,664.2" fill="none" stroke="#000000" stroke-width="3.4" stroke-linejoin="round"/>
<polyline points="343.1,63.2 343.1,68.6 344.3,71.0 344.3,77.1 345.1,78.2 345.1,82.9 345.9,83.2 345.9,90.2 346.7,88.7 346.7,92.0 347.5,92.7 347.5,97.1 348.3,95.1 348.3,100.4 349.1,99.9 349.1,102.6 349.9,104.2 349.9,106.8 350.7,105.4 350.7,110.8 351.5,110.8 351.5,113.2 352.3,110.6 352.3,116.2 353.1,115.4 353.1,119.3 353.9,120.9 353.9,116.8 354.7,118.8 354.7,123.4 355.5,121.8 355.5,125.5 356.3,124.0 356.3,127.3 357.1,127.1 357.1,130.1 357.9,128.9 357.9,132.2 358.7,130.2 358.7,135.1 359.5,133.9 359.5,137.0 360.3,135.7 360.3,139.6 361.1,141.6 361.1,135.6 361.9,139.3 361.9,145.6 362.7,146.9 362.7,140.4 363.5,145.6 363.5,150.3 364.3,149.8 364.3,146.3 365.1,147.5 365.1,151.7 365.9,150.5 365.9,154.6 366.7,156.1 366.7,152.8 367.5,155.2 367.5,159.9 368.3,160.7 368.3,156.8 369.1,159.8 369.1,163.4 369.9,165.9 369.9,157.7 370.7,163.9 370.7,166.0 371.5,165.7 371.5,170.7 372.3,170.9 372.3,167.4 373.1,167.8 373.1,171.8 373.9,172.5 373.9,175.3 374.7,173.6 374.7,178.2 375.5,179.7 375.5,173.7 376.3,177.1 376.3,182.4 377.1,182.6 377.1,178.6 377.9,179.5 377.9,184.8 378.7,186.7 378.7,181.4 379.5,184.7 379.5,191.0 380.3,190.9 380.3,188.1 381.1,189.7 381.1,192.0 381.9,191.0 381.9,194.8 382.7,196.0 382.7,193.5 383.5,195.8 383.5,200.1 384.3,198.5 384.3,201.8 385.1,202.5 385.1,199.5 385.9,201.0 385.9,204.6 386.7,202.9 386.7,207.2 387.5,207.7 387.5,204.9 388.3,206.9 388.3,209.9 389.1,212.6 389.1,206.8 389.9,212.0 389.9,216.7 390.7,218.2 390.7,212.2 391.5,214.6 391.5,219.9 392.3,221.7 392.3,216.6 393.1,216.7 393.1,222.0 393.9,223.2 393.9,219.9 394.7,217.6 394.7,228.3 395.5,226.7 395.5,220.4 396.3,223.4 396.3,229.4 397.1,231.3 397.1,224.8 397.9,228.3 397.9,232.6 398.7,231.6 398.7,236.9 399.5,238.3 399.5,232.9 400.3,236.0 400.3,241.7 401.1,241.0 401.1,234.1 401.9,236.4 401.9,242.1 402.7,239.9 402.7,244.4 403.5,247.5 403.5,238.1 404.3,242.6 404.3,246.0 405.1,244.8 405.1,250.4 405.9,250.6 405.9,246.6 406.7,247.4 406.7,254.5 407.5,256.0 407.5,249.6 408.3,251.9 408.3,256.9 409.1,257.9 409.1,253.7 409.9,255.3 409.9,259.3 410.7,264.4 410.7,254.0 411.5,258.3 411.5,265.1 412.3,268.2 412.3,261.1 413.1,260.0 413.1,266.8 413.9,267.9 413.9,262.3 414.7,265.3 414.7,271.7 415.5,275.4 415.5,267.6 416.3,267.7 416.3,274.5 417.1,277.6 417.1,270.0 417.9,274.3 417.9,276.1 418.7,272.8 418.7,282.1 419.5,285.7 419.5,274.9 420.3,276.2 420.3,282.5 421.1,278.7 421.1,287.2 421.9,286.2 421.9,281.1 422.7,286.4 422.7,289.1 423.5,289.6 423.5,286.0 424.3,285.6 424.3,292.7 425.1,293.2 425.1,290.2 425.9,289.4 425.9,293.6 426.7,293.4 426.7,297.8 427.5,300.5 427.5,291.4 428.3,295.2 428.3,300.1 429.1,299.9 429.1,293.9 429.9,293.2 429.9,301.3 430.7,302.0 430.7,298.8 431.5,304.0 431.5,307.0 432.3,308.2 432.3,302.3 433.1,305.8 433.1,311.7 433.9,313.9 433.9,304.9 434.7,306.4 434.7,313.0 435.5,311.6 435.5,317.5 436.3,314.6 436.3,311.5 437.1,311.7 437.1,321.4 437.9,318.0 437.9,312.5 438.7,312.6 438.7,322.9 439.5,327.5 439.5,317.3 440.3,316.3 440.3,326.8 441.1,326.5 441.1,319.8 441.9,323.2 441.9,327.9 442.7,331.8 442.7,324.1 443.5,323.1 443.5,330.9 444.3,332.9 444.3,322.9 445.1,324.6 445.1,337.6 445.9,340.1 445.9,331.7 446.7,324.5 446.7,339.4 447.5,339.8 447.5,329.9 448.3,335.8 448.3,339.5 449.1,340.6 449.1,332.8 449.9,339.3 449.9,343.5 450.7,347.3 450.7,337.3 451.5,341.0 451.5,352.0 452.3,350.1 452.3,338.8 453.1,344.4 453.1,349.7 453.9,352.0 453.9,344.3 454.7,347.2 454.7,356.3 455.5,355.4 455.5,349.9 456.3,348.9 456.3,355.3 457.1,354.8 457.1,361.7 457.9,359.6 457.9,349.5 458.7,353.8 458.7,361.0 459.5,365.6 459.5,355.6 460.3,352.6 460.3,364.8 461.1,363.5 461.1,354.9 461.9,358.7 461.9,367.4 462.7,366.6 462.7,361.4 463.5,360.2 463.5,372.1 464.3,373.1 464.3,364.2 465.1,363.8 465.1,374.2 465.9,376.8 465.9,368.1 466.7,367.9 466.7,376.1 467.5,379.3 467.5,370.5 468.3,371.6 468.3,377.2 469.1,373.1 469.1,382.7 469.9,383.7 469.9,366.9 470.7,379.9 470.7,385.8 471.5,384.3 471.5,376.4 472.3,380.1 472.3,391.6 473.1,389.3 473.1,378.2 473.9,380.1 473.9,390.1 474.7,394.2 474.7,384.4 475.5,382.9 475.5,391.1 476.3,393.7 476.3,382.4 477.1,383.6 477.1,400.6 477.9,400.4 477.9,385.2 478.7,393.9 478.7,401.2 479.5,402.0 479.5,392.1 480.3,390.4 480.3,404.1 481.1,405.6 481.1,393.6 481.9,393.3 481.9,402.6 482.7,397.6 482.7,414.0 483.5,414.5 483.5,398.1 484.3,399.8 484.3,410.4 485.1,412.8 485.1,404.1 485.9,405.5 485.9,412.4 486.7,413.3 486.7,402.3 487.5,405.2 487.5,417.0 488.3,418.4 488.3,407.0 489.1,406.8 489.1,419.0 489.9,415.2 489.9,410.2 490.7,412.1 490.7,417.8 491.5,409.7 491.5,428.4 492.3,420.0 492.3,413.7 493.1,414.0 493.1,422.8 493.9,419.8 493.9,435.7 494.7,434.3 494.7,418.9 495.5,420.7 495.5,430.2 496.3,428.4 496.3,416.3 497.1,420.3 497.1,429.6 497.9,431.1 497.9,422.2 498.7,427.9 498.7,436.9 499.5,431.2 499.5,445.0 500.3,438.4 500.3,420.1 501.1,429.5 501.1,440.5 501.9,443.7 501.9,435.0 502.7,434.2 502.7,444.6 503.5,442.7 503.5,425.8 504.3,434.9 504.3,441.1 505.1,442.7 505.1,433.2 505.9,432.8 505.9,448.9 506.7,455.6 506.7,437.7 507.5,436.8 507.5,453.2 508.3,451.6 508.3,440.9 509.1,440.0 509.1,451.7 509.9,454.9 509.9,438.1 510.7,449.1 510.7,454.6 511.5,459.4 511.5,445.5 512.3,447.5 512.3,459.9 513.1,465.9 513.1,447.0 513.9,455.7 513.9,464.0 514.7,461.7 514.7,441.1 515.5,454.6 515.5,461.3 516.3,470.3 516.3,448.3 517.1,456.3 517.1,465.4 517.9,460.7 517.9,471.8 518.7,463.9 518.7,456.2 519.5,463.5 519.5,475.1 520.3,478.5 520.3,459.1 521.1,463.0 521.1,471.3 521.9,475.7 521.9,462.4 522.7,461.9 522.7,485.2 523.5,479.9 523.5,457.0 524.3,461.5 524.3,478.9 525.1,485.2 525.1,463.3 525.9,472.2 525.9,480.4 526.7,486.9 526.7,472.7 527.5,469.1 527.5,486.2 528.3,489.0 528.3,473.0 529.1,472.7 529.1,495.4 529.9,493.3 529.9,471.8 530.7,473.8 530.7,494.0 531.5,491.8 531.5,479.9 532.3,481.6 532.3,496.6 533.1,502.6 533.1,481.3 533.9,475.4 533.9,498.9 534.7,492.8 534.7,475.5 535.5,484.6 535.5,501.0 536.3,501.3 536.3,486.8 537.1,487.9 537.1,503.9 537.9,511.3 537.9,487.1 538.7,489.5 538.7,510.4 539.5,499.8 539.5,488.7 540.3,486.2 540.3,508.1 541.1,505.1 541.1,499.6 541.9,498.8 541.9,510.0 542.7,516.2 542.7,491.8 543.5,491.0 543.5,510.3 544.3,513.7 544.3,494.8 545.1,493.1 545.1,520.7 545.9,516.8 545.9,486.9 546.7,505.0 546.7,518.7 547.5,520.6 547.5,497.6 548.3,500.2 548.3,523.6 549.1,516.2 549.1,500.8 549.9,502.8 549.9,521.6 550.7,531.0 550.7,507.6 551.5,506.6 551.5,534.5 552.3,529.4 552.3,509.4 553.1,515.6 553.1,537.5 553.9,532.3 553.9,512.9 554.7,505.0 554.7,536.4 555.5,525.5 555.5,517.1 556.3,508.3 556.3,535.3 557.1,540.9 557.1,515.6 557.9,521.4 557.9,533.5 558.7,535.0 558.7,524.0 559.5,518.1 559.5,545.0 560.3,531.9 560.3,523.6 561.1,520.1 561.1,531.3 561.9,527.6 561.9,546.2 562.7,546.2 562.7,520.9 563.5,525.9 563.5,540.5 564.3,540.6 564.3,526.6 565.1,527.9 565.1,556.9 565.9,554.6 565.9,537.3 566.7,534.0 566.7,544.6 567.5,546.2 567.5,535.5 568.3,524.5 568.3,559.1 569.1,551.1 569.1,530.3 569.9,530.4 569.9,559.4 570.7,556.1 570.7,537.9 571.5,540.1 571.5,564.0 572.3,562.3 572.3,540.9 573.1,536.7 573.1,548.5 573.9,543.3 573.9,559.1 574.7,554.2 574.7,533.4 575.5,546.4 575.5,564.5 576.3,568.2 576.3,532.9 577.1,538.5 577.1,571.1 577.9,568.5 577.9,540.7 578.7,546.7 578.7,567.7 579.5,562.3 579.5,545.3 580.3,551.6 580.3,570.6 581.1,578.6 581.1,546.2 581.9,560.0 581.9,578.7 582.7,579.8 582.7,546.3 583.5,553.4 583.5,572.0 584.3,562.9 584.3,584.2 585.1,583.3 585.1,551.1 585.9,561.3 585.9,575.2 586.7,580.3 586.7,545.8 587.5,568.6 587.5,587.9 588.3,597.3 588.3,553.0 589.1,576.5 589.1,588.1 589.9,579.7 589.9,565.1 590.7,566.1 590.7,591.7 591.5,580.8 591.5,567.1 592.3,570.9 592.3,597.8 593.1,592.0 593.1,573.9 593.9,563.6 593.9,598.0 594.7,616.6 594.7,570.2 595.5,563.7 595.5,588.8 596.3,593.5 596.3,558.5 597.1,570.3 597.1,593.5 597.9,597.2 597.9,573.3 598.7,576.3 598.7,604.8 599.5,588.1 599.5,564.0 600.3,567.7 600.3,605.0 601.1,605.1 601.1,577.5 601.9,574.5 601.9,613.3 602.7,606.5 602.7,577.6 603.5,582.9 603.5,606.6 604.3,601.5 604.3,587.3 605.1,567.0 605.1,609.5 605.9,604.3 605.9,586.3 606.7,593.2 606.7,605.6 607.5,621.2 607.5,577.8 608.3,575.9 608.3,603.2 609.1,612.7 609.1,582.2 609.9,587.6 609.9,626.1 610.7,614.2 610.7,597.1 611.5,583.4 611.5,629.5 612.3,638.0 612.3,571.1 613.1,574.1 613.1,607.5 613.9,594.8 613.9,629.8 614.7,613.1 614.7,583.5 615.5,590.2 615.5,631.6 616.3,623.6 616.3,590.3 617.1,607.8 617.1,620.6 617.9,625.3 617.9,582.5 618.7,592.7 618.7,623.8 619.5,625.4 619.5,591.6 620.3,598.8 620.3,625.5 621.1,620.9 621.1,583.7 621.9,594.0 621.9,617.9 622.7,619.4 622.7,595.3 623.5,595.3 623.5,637.4 624.3,632.3 624.3,604.2 625.1,605.5 625.1,630.7 625.9,641.1 625.9,606.9 626.7,602.9 626.7,627.5 627.5,630.8 627.5,608.3 628.3,613.9 628.3,634.3 629.1,629.3 629.1,607.0 629.9,596.7 629.9,631.0 630.7,637.9 630.7,609.8 631.5,603.1 631.5,634.5 632.3,629.5 632.3,603.1 633.1,615.6 633.1,639.9 633.9,638.1 633.9,611.3 634.7,617.1 634.7,651.4 635.5,641.8 635.5,623.2 636.3,618.6 636.3,653.6 637.1,643.8 637.1,617.2 637.9,623.3 637.9,651.6 638.7,649.7 638.7,620.2 639.5,612.9 639.5,671.5 640.3,671.5 640.3,615.8 641.1,604.7 641.1,671.6 641.9,651.9 641.9,600.8 642.7,617.4 642.7,638.6 643.5,633.3 643.5,618.9 644.3,622.0 644.3,650.0 645.1,652.0 645.1,623.6 645.9,622.0 645.9,650.1 646.7,650.1 646.7,613.1 647.5,625.2 647.5,650.1 648.3,637.0 648.3,626.8 649.1,613.1 649.1,656.4 649.9,665.2 649.9,626.9 650.7,625.3 650.7,669.9 651.5,644.5 651.5,635.3 652.3,637.1 652.3,674.8 653.1,640.8 653.1,619.1 653.9,639.0 653.9,674.9 654.7,674.9 654.7,616.2 655.5,622.2 655.5,654.5 656.3,675.1 656.3,630.3 657.1,640.9 657.1,663.3 657.9,658.9 657.9,627.1 658.7,616.2 658.7,661.1 659.5,650.6 659.5,632.1 660.3,639.2 660.3,670.3 661.1,665.7 661.1,632.1 661.9,630.4 661.9,672.8 662.7,675.4 662.7,650.7 663.5,644.8 663.5,694.5 664.3,685.9 664.3,637.4 665.1,646.8 665.1,673.0 665.9,673.0 665.9,641.1 666.7,641.1 666.7,680.7 667.5,688.9 667.5,641.1 668.3,639.3 668.3,675.6 669.1,675.6 669.1,627.2 669.9,645.0 669.9,675.6 670.7,691.9 670.7,641.2 671.5,635.8 671.5,701.0 672.3,668.4 672.3,645.0 673.1,645.0 673.1,686.3 673.9,678.3 673.9,634.1 674.7,637.6 674.7,686.4 675.5,689.2 675.5,634.1 676.3,645.1 676.3,675.8 677.1,670.9 677.1,653.0 677.9,639.5 677.9,711.3 678.7,678.5 678.7,641.3 679.5,647.1 679.5,686.5 680.3,689.4 680.3,639.5 681.1,666.3 681.1,692.3 681.9,676.0 681.9,659.5 682.7,678.6 682.7,634.1 683.5,649.1 683.5,686.7 684.3,701.6 684.3,664.0 685.1,655.3 685.1,683.9 685.9,678.6 685.9,664.0 686.7,651.1 686.7,684.0 687.5,664.1 687.5,708.2 688.3,692.5 688.3,676.1 689.1,657.4 689.1,705.0 689.9,689.7 689.9,653.2 690.7,657.5 690.7,701.8 691.5,692.6 691.5,668.8 692.3,649.2 692.3,692.6 693.1,705.1 693.1,661.9 693.9,686.9 693.9,715.4 694.7,692.7 694.7,651.2 695.5,668.9 695.5,695.7 696.3,698.8 696.3,661.9 697.1,661.9 697.1,698.8 697.9,702.0 697.9,657.5 698.7,666.5 698.7,695.8 699.5,702.0 699.5,681.5 700.3,702.0 700.3,657.6 701.1,659.8 701.1,698.9 701.9,689.9 701.9,657.6 702.7,673.8 702.7,712.1 703.5,727.1 703.5,666.6 704.3,657.6 704.3,705.4 705.1,702.1 705.1,651.3 705.9,651.3 705.9,684.3 706.7,666.6 706.7,705.4 707.5,705.4 707.5,662.0 708.3,657.6 708.3,719.5 709.1,715.9 709.1,657.6 709.9,664.3 709.9,712.3 710.7,715.9 710.7,662.1 711.5,666.7 711.5,719.6 712.3,705.5 712.3,669.0 713.1,662.1 713.1,715.9 713.9,705.6 713.9,671.5 714.7,669.1 714.7,716.0 715.5,699.1 715.5,671.5 716.3,669.1 716.3,731.6 717.1,719.7 717.1,676.5 717.9,671.5 717.9,731.6 718.7,716.1 718.7,671.5 719.5,662.1 719.5,719.8 720.3,712.5 720.3,664.4 721.1,657.7 721.1,709.0 721.9,736.0 721.9,681.8 722.7,674.0 722.7,705.7 723.5,727.6 723.5,679.2 724.3,679.2 724.3,705.7 725.1,727.7 725.1,671.6 725.9,662.2 725.9,705.7 726.7,705.7 726.7,671.6 727.5,684.6 727.5,719.9 728.3,712.6 728.3,684.6 729.1,676.6 729.1,723.8 729.9,723.8 729.9,684.6 730.7,669.2 730.7,727.8 731.5,727.8 731.5,671.6 732.3,684.6 732.3,705.8 733.1,716.3 733.1,666.8 733.9,669.2 733.9,720.0 734.7,693.2 734.7,657.8 735.5,684.6 735.5,723.9 736.3,736.3 736.3,666.8 737.1,671.6 737.1,732.0 737.9,716.3 737.9,702.6 738.7,720.1 738.7,664.5 739.5,690.3 739.5,723.9 740.3,727.9 740.3,684.7 741.1,681.9 741.1,727.9 741.9,750.3 741.9,693.3 742.7,674.1 742.7,728.0 743.5,696.3 743.5,679.3 744.3,664.5 744.3,724.0 745.1,702.6 745.1,674.1 745.9,682.0 745.9,716.4 746.7,720.2 746.7,690.4 747.5,674.1 747.5,736.4 748.3,728.0 748.3,693.3 749.1,690.4 749.1,755.5 749.9,740.9 749.9,676.7 750.7,671.7 750.7,732.2 751.5,732.2 751.5,671.7 752.3,699.5 752.3,724.1 753.1,720.2 753.1,682.0 753.9,684.7 753.9,755.6 754.7,709.4 754.7,687.5 755.5,664.5 755.5,755.6 756.3,728.1 756.3,693.4 757.1,690.4 757.1,736.6 757.9,728.1 757.9,687.5 758.7,699.5 758.7,736.6 759.5,745.7 759.5,674.2 760.3,702.7 760.3,732.3 761.1,755.7 761.1,682.0 761.9,690.4 761.9,736.6 762.7,720.3 762.7,687.6 763.5,690.4 763.5,728.2 764.3,696.4 764.3,766.6 765.1,709.4 765.1,679.4 765.9,666.9 765.9,728.2 766.7,761.1 766.7,687.6 767.5,699.6 767.5,724.2 768.3,741.1 768.3,699.6 769.1,674.2 769.1,778.8 769.9,807.8 769.9,702.8 770.7,696.4 770.7,720.3 771.5,736.7 771.5,690.5 772.3,690.5 772.3,750.7 773.1,755.8 773.1,696.5 773.9,706.1 773.9,761.2 774.7,720.4 774.7,682.0 775.5,687.6 775.5,766.8 776.3,750.8 776.3,702.8 777.1,693.4 777.1,755.9 777.9,741.2 777.9,682.1 778.7,699.6 778.7,736.7 779.5,750.8 779.5,706.1 780.3,687.6 780.3,745.9 781.1,745.9 781.1,702.8 781.9,716.7 781.9,687.6 782.7,679.4 782.7,732.4 783.5,736.8 783.5,693.5 784.3,682.1 784.3,724.3 785.1,732.4 785.1,666.9 785.9,696.5 785.9,766.9 786.7,745.9 786.7,696.5 787.5,684.8 787.5,741.3 788.3,750.8 788.3,693.5 789.1,693.5 789.1,724.3 789.9,693.5 789.9,779.1 790.7,741.3 790.7,706.1 791.5,724.3 791.5,687.6 792.3,674.2 792.3,732.5 793.1,750.9 793.1,676.8 793.9,687.6 793.9,756.0 794.7,767.0 794.7,687.6 795.5,679.4 795.5,750.9 796.3,761.4 796.3,699.6 797.1,684.8 797.1,761.4 797.9,736.8 797.9,687.6 798.7,702.9 798.7,732.5 799.5,706.2 799.5,767.0 800.3,741.3 800.3,709.6 801.1,687.6 801.1,756.0 801.9,741.4 801.9,690.5 802.7,693.5 802.7,741.4 803.5,746.0 803.5,699.7 804.3,696.5 804.3,746.0 805.1,732.5 805.1,706.2 805.9,732.5 805.9,679.4 806.7,676.8 806.7,736.9 807.5,767.1 807.5,693.5 808.3,699.7 808.3,761.4 809.1,724.4 809.1,666.9 809.9,684.8 809.9,756.1 810.7,728.4 810.7,687.7 811.5,684.8 811.5,746.1 812.3,736.9 812.3,699.7 813.1,693.5 813.1,746.1 813.9,773.0 813.9,702.9 814.7,687.7 814.7,736.9 815.5,761.5 815.5,699.7 816.3,690.5 816.3,720.5 817.1,690.5 817.1,761.5 817.9,741.4 817.9,696.6 818.7,702.9 818.7,756.1 819.5,724.4 819.5,702.9 820.3,716.8 820.3,761.5 821.1,732.6 821.1,690.6 821.9,690.6 821.9,746.1 822.7,720.5 822.7,687.7 823.5,687.7 823.5,800.5 824.3,756.1 824.3,709.6 825.1,687.7 825.1,751.0 825.9,751.0 825.9,702.9 826.7,690.6 826.7,751.0 827.5,756.2 827.5,693.5 828.3,706.2 828.3,751.0 829.1,751.0 829.1,702.9 829.9,706.2 829.9,746.1 830.7,751.0 830.7,690.6 831.5,716.8 831.5,751.0 832.3,724.4 832.3,696.6 833.1,699.7 833.1,741.5 833.9,751.1 833.9,693.5 834.7,713.2 834.7,737.0 835.5,767.2 835.5,702.9 836.3,706.2 836.3,779.4 837.1,767.2 837.1,684.9 837.9,690.6 837.9,737.0 838.7,737.0 838.7,702.9 839.5,699.7 839.5,732.6 840.3,741.5 840.3,696.6 841.1,699.7 841.1,751.1 841.9,728.5 841.9,696.6 842.7,709.6 842.7,728.5 843.5,741.5 843.5,696.6 844.3,713.2 844.3,761.6 845.1,761.6 845.1,716.8 845.9,706.2 845.9,761.6 846.7,751.1 846.7,690.6 847.5,679.4 847.5,779.4 848.3,751.1 848.3,690.6 849.1,690.6 849.1,767.2 849.9,737.0 849.9,696.6 850.7,693.5 850.7,746.2 851.5,761.6 851.5,713.2 852.3,709.7 852.3,751.1 853.1,732.7 853.1,699.7 853.9,699.7 853.9,761.6 854.7,767.2 854.7,713.2 855.5,737.0 855.5,679.4 856.3,684.9 856.3,751.1 857.1,746.2 857.1,696.6 857.9,706.3 857.9,741.5 858.7,761.6 858.7,702.9 859.5,716.8 859.5,793.2 860.3,741.5 860.3,690.6 861.1,713.2 861.1,761.6 861.9,756.3 861.9,690.6 862.7,716.8 862.7,746.2 863.5,732.7 863.5,679.4 864.3,716.8 864.3,732.7 865.1,713.2 865.1,761.6 865.9,779.5 865.9,706.3 866.7,699.7 866.7,741.5 867.5,761.6 867.5,716.8 868.3,706.3 868.3,767.3 869.1,773.2 869.1,709.7 869.9,706.3 869.9,741.5 870.7,746.2 870.7,716.8 871.5,696.6 871.5,786.1 872.3,756.3 872.3,713.2 873.1,706.3 873.1,779.5 873.9,779.5 873.9,671.8 874.7,709.7 874.7,756.3 875.5,741.5 875.5,702.9 876.3,702.9 876.3,741.5 877.1,756.3 877.1,709.7 877.9,690.6 877.9,756.3 878.7,746.2 878.7,699.7 879.5,699.7 879.5,773.2 880.3,761.7 880.3,696.6 881.1,687.7 881.1,751.2 881.9,746.2 881.9,709.7 882.7,703.0 882.7,756.3 883.5,741.5 883.5,706.3 884.3,690.6 884.3,767.3 885.1,751.2 885.1,696.6 885.9,690.6 885.9,767.3 886.7,737.0 886.7,693.6 887.5,699.7 887.5,751.2 888.3,761.7 888.3,720.6 889.1,703.0 889.1,751.2 889.9,741.6 889.9,696.6 890.7,682.1 890.7,746.3 891.5,751.2 891.5,713.2 892.3,699.7 892.3,773.3 893.1,751.2 893.1,696.6 893.9,703.0 893.9,786.2 894.7,751.2 894.7,699.7 895.5,687.7 895.5,724.5 896.3,756.3 896.3,687.7 897.1,706.3 897.1,741.6 897.9,720.6 897.9,703.0 898.7,690.6 898.7,737.0 899.5,746.3 899.5,706.3 900.3,699.7 900.3,756.3 901.1,773.3 901.1,728.5 901.9,703.0 901.9,793.3 902.7,751.2 902.7,696.6 903.5,716.9 903.5,767.3 904.3,741.6 904.3,693.6 905.1,703.0 905.1,786.2 905.9,751.2 905.9,699.7 906.7,703.0 906.7,732.7 907.5,699.7 907.5,773.3 908.3,779.6 908.3,716.9 909.1,699.7 909.1,741.6 909.9,751.2 909.9,682.1 910.7,679.5 910.7,756.3 911.5,779.6 911.5,732.7 912.3,751.2 912.3,693.6 913.1,709.7 913.1,793.3 913.9,741.6 913.9,706.3 914.7,690.6 914.7,756.3 915.5,773.3 915.5,687.7 916.3,713.2 916.3,761.7 917.1,761.7 917.1,703.0 917.9,709.7 917.9,761.7 918.7,751.2 918.7,713.2 919.5,724.5 919.5,786.2 920.3,741.6 920.3,706.3 921.1,687.7 921.1,761.7 921.9,751.2 921.9,687.7 922.7,720.6 922.7,746.3 923.5,767.4 923.5,720.6 924.3,699.7 924.3,756.3 925.1,786.2 925.1,696.6 925.9,728.5 925.9,751.2 926.7,737.1 926.7,699.7 927.5,696.6 927.5,741.6 928.3,779.6 928.3,696.6 929.1,699.7 929.1,751.2 929.9,737.1 929.9,709.7 930.7,709.7 930.7,761.7 931.5,728.5 931.5,690.6 932.3,687.7 932.3,728.5 933.1,737.1 933.1,716.9 933.9,709.7 933.9,756.3 934.7,746.3 934.7,716.9 935.5,703.0 935.5,756.3 936.3,737.1 936.3,706.3 937.1,728.6 937.1,779.6 937.9,751.2 937.9,690.6 938.7,669.3 938.7,773.3 939.5,751.2 939.5,720.6 940.3,720.6 940.3,756.3 941.1,737.1 941.1,703.0 941.9,696.6 941.9,751.2 942.7,786.3 942.7,703.0 943.5,703.0 943.5,756.3 944.3,767.4 944.3,690.6 945.1,706.3 945.1,741.6 945.9,716.9 945.9,779.6 946.7,737.1 946.7,699.7 947.5,682.1 947.5,761.7 948.3,741.6 948.3,706.3 949.1,713.2 949.1,756.3 949.9,751.2 949.9,699.7 950.7,703.0 950.7,756.3 951.5,751.2 951.5,709.7 952.3,720.6 952.3,767.4 953.1,773.3 953.1,684.9 953.9,690.6 953.9,773.3 954.7,751.2 954.7,699.7 955.5,706.3 955.5,809.0 956.3,746.3 956.3,687.7 957.1,703.0 957.1,737.1 957.9,741.6 957.9,703.0 958.7,706.3 958.7,761.7 959.5,746.3 959.5,703.0 960.3,709.7 960.3,741.6 961.1,761.7 961.1,687.7 961.9,706.3 961.9,756.4 962.7,767.4 962.7,696.6 963.5,716.9 963.5,756.4 964.3,773.3 964.3,693.6 965.1,709.7 965.1,761.7 965.9,756.4 965.9,709.7 966.7,709.7 966.7,786.3 967.5,773.3 967.5,684.9 968.3,716.9 968.3,779.6 969.1,786.3 969.1,709.7 969.9,696.6 969.9,737.1 970.7,737.1 970.7,709.7 971.5,724.5 971.5,773.3 972.3,773.3 972.3,720.6 973.1,699.8 973.1,767.4 973.9,756.4 973.9,713.2 974.7,703.0 974.7,767.4 975.5,746.3 975.5,720.6 976.3,716.9 976.3,737.1 977.1,761.7 977.1,706.3 977.9,703.0 977.9,751.2 978.7,786.3 978.7,699.8 979.5,687.7 979.5,767.4 980.3,741.6 980.3,687.7 981.1,706.3 981.1,756.4 981.9,767.4 981.9,699.8 982.7,713.2 982.7,746.3 983.5,751.2 983.5,720.6 984.3,687.7 984.3,786.3 985.1,741.6 985.1,696.6 985.9,720.6 985.9,751.2 986.7,786.3 986.7,682.1 987.5,693.6 987.5,773.3 988.3,751.2 988.3,696.6 989.1,690.6 989.1,746.3 989.9,756.4 989.9,709.7 990.7,690.6 990.7,761.7 991.5,767.4 991.5,720.6 992.3,706.3 992.3,741.6 993.1,737.1 993.1,687.7 993.9,709.7 993.9,737.1 994.7,713.2 994.7,800.9 995.5,786.3 995.5,699.8 996.3,703.0 996.3,746.3 997.1,751.2 997.1,716.9 997.9,709.7 997.9,751.2 998.7,761.7 998.7,706.3 999.5,693.6 999.5,751.2 1000.3,746.3 1000.3,696.6 1001.1,696.6 1001.1,741.6 1001.9,732.7 1001.9,696.6 1002.7,706.3 1002.7,737.1 1003.5,761.7 1003.5,696.6 1004.3,687.7 1004.3,732.7 1005.1,706.3 1005.1,779.6 1005.9,751.2 1005.9,713.2 1006.7,703.0 1006.7,756.4 1007.5,746.3 1007.5,696.6 1008.3,709.7 1008.3,767.4 1009.1,720.6 1009.1,699.8 1009.9,696.6 1009.9,756.4 1010.7,751.2 1010.7,724.5 1011.5,706.3 1011.5,761.8 1012.3,756.4 1012.3,720.6 1013.1,737.1 1013.1,699.8 1013.9,720.6 1013.9,728.6 1014.7,761.8 1014.7,674.3 1015.5,684.9 1015.5,761.8 1016.3,773.4 1016.3,728.6 1017.1,737.1 1017.1,699.8 1017.9,690.6 1017.9,746.3 1018.7,716.9 1018.7,779.6 1019.5,728.6 1019.5,687.7 1020.3,709.7 1020.3,751.2 1021.1,773.4 1021.1,720.6 1021.9,709.7 1021.9,761.8 1022.7,746.3 1022.7,713.2 1023.5,696.6 1023.5,751.2 1024.3,761.8 1024.3,724.5 1025.1,693.6 1025.1,761.8 1025.9,746.3 1025.9,706.3 1026.7,720.6 1026.7,756.4 1027.5,746.3 1027.5,703.0 1028.3,716.9 1028.3,741.6 1029.1,741.6 1029.1,706.3 1029.9,709.7 1029.9,773.4 1030.7,793.4 1030.7,724.5 1031.5,696.6 1031.5,756.4 1032.3,716.9 1032.3,676.8 1033.1,713.2 1033.1,767.4 1033.9,767.4 1033.9,709.7 1034.7,690.6 1034.7,767.4 1035.5,724.5 1035.5,682.1 1036.3,706.3 1036.3,773.4 1037.1,751.2 1037.1,713.2 1037.9,716.9 1037.9,728.6 1038.7,682.1 1038.7,779.6 1039.5,773.4 1039.5,693.6 1040.3,728.6 1040.3,767.4 1041.1,741.6 1041.1,706.3 1041.9,709.7 1041.9,756.4 1042.7,786.3 1042.7,716.9 1043.5,690.6 1043.5,767.4 1044.3,761.8 1044.3,664.6 1045.1,706.3 1045.1,746.3 1045.9,716.9 1045.9,800.9 1046.7,767.4 1046.7,696.6 1047.5,699.8 1047.5,756.4 1048.3,773.4 1048.3,716.9 1049.1,703.0 1049.1,786.3 1049.9,761.8 1049.9,709.7 1050.7,709.7 1050.7,767.4 1051.5,746.3 1051.5,703.0 1052.3,709.7 1052.3,800.9 1053.1,773.4 1053.1,720.6 1053.9,693.6 1053.9,773.4 1054.7,827.2 1054.7,706.3 1055.5,674.3 1055.5,761.8 1056.3,756.4 1056.3,696.6 1057.1,696.6 1057.1,773.4 1057.9,751.2 1057.9,716.9 1058.7,728.6 1058.7,793.4 1059.5,779.7 1059.5,671.8 1060.3,713.2 1060.3,773.4 1061.1,779.7 1061.1,716.9 1061.9,713.2 1061.9,761.8 1062.7,746.3 1062.7,699.8 1063.5,703.0 1063.5,746.3 1064.3,756.4 1064.3,690.6 1065.1,724.5 1065.1,741.6 1065.9,761.8 1065.9,696.6 1066.7,724.5 1066.7,761.8 1067.5,746.3 1067.5,706.3 1068.3,703.0 1068.3,786.3 1069.1,746.3 1069.1,690.6 1069.9,706.3 1069.9,746.3 1070.7,773.4 1070.7,687.7 1071.5,687.7 1071.5,751.2 1072.3,761.8 1072.3,696.6 1073.1,696.6 1073.1,773.4 1073.9,746.3 1073.9,693.6 1074.7,709.7 1074.7,761.8 1075.5,761.8 1075.5,684.9 1076.3,716.9 1076.3,756.4 1077.1,773.4 1077.1,706.3 1077.9,703.0 1077.9,767.4 1078.7,761.8 1078.7,720.6 1079.5,706.3 1079.5,786.3 1080.3,751.2 1080.3,706.3 1081.1,703.0 1081.1,751.2 1081.9,746.3 1081.9,713.2 1082.7,713.2 1082.7,741.6 1083.5,773.4 1083.5,703.0 1084.3,713.2 1084.3,751.2 1085.1,773.4 1085.1,716.9 1085.9,699.8 1085.9,741.6 1086.7,751.2 1086.7,703.0 1087.5,706.3 1087.5,793.4 1088.3,761.8 1088.3,706.3 1089.1,706.3 1089.1,761.8 1089.9,737.1 1089.9,716.9 1090.7,703.0 1090.7,741.6 1091.5,767.4 1091.5,690.6 1092.3,699.8 1092.3,756.4 1093.1,767.4 1093.1,724.5 1093.9,703.0 1093.9,746.3 1094.7,761.8 1094.7,679.5 1095.5,699.8 1095.5,751.2 1096.3,728.6 1096.3,687.7 1097.1,690.6 1097.1,751.2 1097.9,751.2 1097.9,684.9 1098.7,696.6 1098.7,761.8 1099.5,737.1 1099.5,716.9 1100.3,696.6 1100.3,761.8 1101.1,779.7 1101.1,682.1 1101.9,699.8 1101.9,746.3 1102.7,746.3 1102.7,699.8 1103.5,693.6 1103.5,809.0 1104.3,761.8 1104.3,696.6 1105.1,706.3 1105.1,756.4 1105.9,696.6 1105.9,817.8 1106.7,746.3 1106.7,687.7 1107.5,696.6 1107.5,741.6 1108.3,746.3 1108.3,709.7 1109.1,693.6 1109.1,741.6 1109.9,761.8 1109.9,690.6 1110.7,706.3 1110.7,773.4 1111.5,756.4 1111.5,716.9 1112.3,716.9 1112.3,746.3 1113.1,767.4 1113.1,706.3 1113.9,706.3 1113.9,773.4 1114.7,756.4 1114.7,690.6 1115.5,699.8 1115.5,767.4 1116.3,793.4 1116.3,728.6 1117.1,696.6 1117.1,773.4 1117.9,793.4 1117.9,676.8 1118.7,706.3 1118.7,751.2 1119.5,756.4 1119.5,716.9 1120.3,724.5 1120.3,773.4 1121.1,779.7 1121.1,693.6 1121.9,713.2 1121.9,761.8 1122.7,741.6 1122.7,713.2 1123.5,703.0 1123.5,767.4 1124.3,779.7 1124.3,706.3 1125.1,690.6 1125.1,767.4 1125.9,756.4 1125.9,696.6 1126.7,684.9 1126.7,767.4 1127.5,741.6 1127.5,706.3 1128.3,699.8 1128.3,827.2 1129.1,761.8 1129.1,706.3 1129.9,720.6 1129.9,756.4 1130.7,751.2 1130.7,716.9 1131.5,693.6 1131.5,767.4 1132.3,761.8 1132.3,724.5 1133.1,687.7 1133.1,786.3 1133.9,773.4 1133.9,737.1 1134.7,737.1 1134.7,684.9 1135.5,699.8 1135.5,732.8 1136.3,713.2 1136.3,761.8 1137.1,751.2 1137.1,699.8 1137.9,699.8 1137.9,737.1 1138.7,756.4 1138.7,671.8 1139.5,690.6 1139.5,756.4 1140.3,761.8 1140.3,699.8 1141.1,706.3 1141.1,741.6 1141.9,732.8 1141.9,706.3 1142.7,699.8 1142.7,767.4 1143.5,756.4 1143.5,690.6 1144.3,693.6 1144.3,761.8 1145.1,756.4 1145.1,684.9 1145.9,741.6 1145.9,756.4 1146.7,767.4 1146.7,713.2 1147.5,703.0 1147.5,728.6 1148.3,706.3 1148.3,779.7 1149.1,761.8 1149.1,693.6 1149.9,679.5 1149.9,779.7 1150.7,737.1 1150.7,690.6 1151.5,720.7 1151.5,767.4 1152.3,773.4 1152.3,706.3 1153.1,693.6 1153.1,732.8 1153.9,720.7 1153.9,746.3 1154.7,746.3 1154.7,709.7 1155.5,699.8 1155.5,732.8 1156.3,756.4 1156.3,706.3 1157.1,690.6 1157.1,751.2 1157.9,767.4 1157.9,724.5 1158.7,761.8 1158.7,671.8 1159.5,706.3 1159.5,741.6 1160.3,767.4 1160.3,696.6 1161.1,706.3 1161.1,751.2 1161.9,751.2 1161.9,699.8 1162.7,693.6 1162.7,741.6 1163.5,709.7 1163.5,779.7 1164.3,751.2 1164.3,709.7 1165.1,699.8 1165.1,751.2 1165.9,756.4 1165.9,709.7 1166.7,690.6 1166.7,761.8 1167.5,751.2 1167.5,716.9 1168.3,728.6 1168.3,696.6 1169.1,713.2 1169.1,779.7 1169.9,751.2 1169.9,709.7 1170.7,687.7 1170.7,732.8 1171.5,751.2 1171.5,706.3 1172.3,703.0 1172.3,737.1 1173.1,767.4 1173.1,690.6 1173.9,682.1 1173.9,786.3 1174.7,746.3 1174.7,682.1 1175.5,709.7 1175.5,751.2 1176.3,773.4 1176.3,713.2 1177.1,716.9 1177.1,767.4 1177.9,751.2 1177.9,706.3 1178.7,706.3 1178.7,793.4 1179.5,741.6 1179.5,709.7 1180.3,696.6 1180.3,751.2 1181.1,751.2 1181.1,684.9 1181.9,716.9 1181.9,751.2 1182.7,751.2 1182.7,693.6 1183.5,706.3 1183.5,751.2 1184.3,773.4 1184.3,724.5 1185.1,703.0 1185.1,767.4 1185.9,741.6 1185.9,699.8 1186.7,709.7 1186.7,720.7 1187.5,737.1 1187.5,674.3 1188.3,693.6 1188.3,732.8 1189.1,767.4 1189.1,682.1 1189.9,696.6 1189.9,751.2 1190.7,767.4 1190.7,703.0 1191.5,713.2 1191.5,786.3 1192.3,800.9 1192.3,716.9 1193.1,716.9 1193.1,767.4 1193.9,751.2 1193.9,724.5 1194.7,706.3 1194.7,756.4 1195.5,751.2 1195.5,684.9 1196.3,709.7 1196.3,746.3 1197.1,767.4 1197.1,716.9 1197.9,716.9 1197.9,724.5 1198.7,693.6 1198.7,756.4 1199.5,737.1 1199.5,699.8 1200.3,699.8 1200.3,751.2 1201.1,773.4 1201.1,693.6 1201.9,682.1 1201.9,773.4 1202.7,809.0 1202.7,728.6 1203.5,741.6 1203.5,690.6 1204.3,720.7 1204.3,741.6 1205.1,751.2 1205.1,687.7 1205.9,682.1 1205.9,756.4 1206.7,756.4 1206.7,684.9 1207.5,724.5 1207.5,767.4 1208.3,761.8 1208.3,728.6 1209.1,737.1 1209.1,669.3 1209.9,693.6 1209.9,728.6 1210.7,761.8 1210.7,693.6 1211.5,703.0 1211.5,767.4 1212.3,751.2 1212.3,703.0 1213.1,713.2 1213.1,756.4 1213.9,724.5 1213.9,696.6 1214.7,716.9 1214.7,741.6 1215.5,761.8 1215.5,709.7 1216.3,690.6 1216.3,756.4 1217.1,741.6 1217.1,709.7 1217.9,709.7 1217.9,728.6 1218.7,716.9 1218.7,773.4 1219.5,756.4 1219.5,703.0 1220.3,693.6 1220.3,746.3 1221.1,737.1 1221.1,679.5 1221.9,716.9 1221.9,741.6 1222.7,773.4 1222.7,696.6 1223.5,720.7 1223.5,767.4 1224.3,756.4 1224.3,699.8 1225.1,724.5 1225.1,773.4 1225.9,767.4 1225.9,693.6 1226.7,709.7 1226.7,751.2 1227.5,716.9 1227.5,801.0 1228.3,786.3 1228.3,713.2 1229.1,713.2 1229.1,751.2 1229.9,741.6 1229.9,696.6 1230.7,684.9 1230.7,756.4 1231.5,779.7 1231.5,706.3 1232.3,706.3 1232.3,761.8 1233.1,756.4 1233.1,690.6 1233.9,706.3 1233.9,786.3 1234.7,756.4 1234.7,703.0 1235.5,682.1 1235.5,801.0 1236.3,761.8 1236.3,713.2 1237.1,696.6 1237.1,773.4 1237.9,773.4 1237.9,716.9 1238.7,713.2 1238.7,756.4 1239.5,741.6 1239.5,706.3 1240.3,687.7 1240.3,761.8 1241.1,746.3 1241.1,690.6 1241.9,716.9 1241.9,741.6 1242.7,724.5 1242.7,793.4 1243.5,756.4 1243.5,703.0 1244.3,713.2 1244.3,751.2 1245.1,737.1 1245.1,709.7 1245.9,713.2 1245.9,809.0 1246.7,756.4 1246.7,703.0 1247.5,699.8 1247.5,756.4 1248.3,756.4 1248.3,713.2 1249.1,706.3 1249.1,751.2 1249.9,756.4 1249.9,703.0 1250.7,706.3 1250.7,751.2 1251.5,786.3 1251.5,690.6 1252.3,690.6 1252.3,761.8 1253.1,767.4 1253.1,713.2 1253.9,741.6 1253.9,676.8 1254.7,713.2 1254.7,793.4 1255.5,732.8 1255.5,716.9 1256.3,699.8 1256.3,751.2 1257.1,767.4 1257.1,706.3 1257.9,703.0 1257.9,728.6 1258.7,751.2 1258.7,703.0 1259.5,693.6 1259.5,751.2 1260.3,751.2 1260.3,716.9 1261.1,713.2 1261.1,773.4 1261.9,761.8 1261.9,696.6 1262.7,706.3 1262.7,756.4 1263.5,761.8 1263.5,709.7 1264.3,703.0 1264.3,741.6 1265.1,737.1 1265.1,690.6 1265.9,696.6 1265.9,751.2 1266.7,756.4 1266.7,679.5 1267.5,690.6 1267.5,767.4 1268.3,751.2 1268.3,696.6 1269.1,709.7 1269.1,761.8 1269.9,751.2 1269.9,706.3 1270.7,724.5 1270.7,767.4 1271.5,756.4 1271.5,709.7 1272.3,716.9 1272.3,801.0 1273.1,741.6 1273.1,716.9 1273.9,724.5 1273.9,761.8 1274.7,801.0 1274.7,684.9 1275.5,684.9 1275.5,756.4 1276.3,767.4 1276.3,693.6 1277.1,690.6 1277.1,767.4 1277.9,773.4 1277.9,728.6 1278.7,693.6 1278.7,767.4 1279.5,741.6 1279.5,720.7 1280.3,696.6 1280.3,767.4 1281.1,767.4 1281.1,696.6 1281.9,699.8 1281.9,756.4 1282.7,767.4 1282.7,724.5 1283.5,746.3 1283.5,693.6 1284.3,713.2 1284.3,761.8 1285.1,767.4 1285.1,684.9 1285.9,684.9 1285.9,786.3 1286.7,793.4 1286.7,720.7 1287.5,720.7 1287.5,767.4 1288.3,737.1 1288.3,687.7 1289.1,713.2 1289.1,761.8 1289.9,767.4 1289.9,716.9 1290.7,716.9 1290.7,761.8 1291.5,746.3 1291.5,703.0 1292.3,713.2 1292.3,779.7 1293.1,741.6 1293.1,703.0 1293.9,720.7 1293.9,767.4 1294.7,724.5 1294.7,706.3 1295.5,709.7 1295.5,786.3 1296.3,786.3 1296.3,690.6 1297.1,709.7 1297.1,751.2 1297.9,773.4 1297.9,716.9 1298.7,703.0 1298.7,756.4 1299.5,779.7 1299.5,703.0 1300.3,703.0 1300.3,756.4 1301.1,732.8 1301.1,706.3 1301.9,720.7 1301.9,756.4 1302.7,732.8 1302.7,679.5 1303.5,696.6 1303.5,751.2 1304.3,756.4 1304.3,693.6 1305.1,720.7 1305.1,761.8 1305.9,761.8 1305.9,728.6 1306.7,737.1 1306.7,703.0 1307.5,716.9 1307.5,737.1 1308.3,720.7 1308.3,779.7 1309.1,767.4 1309.1,713.2 1309.9,720.7 1309.9,801.0 1310.7,751.2 1310.7,703.0 1311.5,709.7 1311.5,773.4 1312.3,761.8 1312.3,684.9 1313.1,690.6 1313.1,793.4 1313.9,756.4 1313.9,713.2 1314.7,713.2 1314.7,751.2 1315.5,713.2 1315.5,793.4 1316.3,756.4 1316.3,674.3 1317.1,682.1 1317.1,751.2 1317.9,751.2 1317.9,720.7 1318.7,699.8 1318.7,756.4 1319.5,773.4 1319.5,687.7 1320.3,706.3 1320.3,746.3 1321.1,767.4 1321.1,706.3 1321.9,690.6 1321.9,801.0 1322.7,746.3 1322.7,693.6 1323.5,693.6 1323.5,761.8 1324.3,761.8 1324.3,687.7 1325.1,709.7 1325.1,751.2 1325.9,779.7 1325.9,713.2 1326.7,713.2 1326.7,756.4 1327.5,737.1 1327.5,713.2 1328.3,709.7 1328.3,746.3 1329.1,737.1 1329.1,706.3 1329.9,720.7 1329.9,779.7 1330.7,779.7 1330.7,696.6 1331.5,699.8 1331.5,741.6 1332.3,741.6 1332.3,713.2 1333.1,679.5 1333.1,761.8 1333.9,761.8 1333.9,709.7 1334.7,713.2 1334.7,741.6 1335.5,687.7 1335.5,809.0 1336.3,779.7 1336.3,693.6 1337.1,696.6 1337.1,737.1 1337.9,713.2 1337.9,786.3 1338.7,746.3 1338.7,699.8 1339.5,693.6 1339.5,751.2 1340.3,756.4 1340.3,696.6 1341.1,693.6 1341.1,737.1 1341.9,706.3 1341.9,779.7 1342.7,746.3 1342.7,696.6 1343.5,724.5 1343.5,779.7 1344.3,761.8 1344.3,706.3 1345.1,713.2 1345.1,741.6 1345.9,751.2 1345.9,679.5 1346.7,713.2 1346.7,767.4 1347.5,767.4 1347.5,699.8 1348.3,709.7 1348.3,801.0 1349.1,773.4 1349.1,706.3 1349.9,732.8 1349.9,761.8 1350.7,746.3 1350.7,696.6 1351.5,696.6 1351.5,741.6 1352.3,709.7 1352.3,779.7 1353.1,767.4 1353.1,679.5 1353.9,703.0 1353.9,746.3 1354.7,746.3 1354.7,728.6 1355.5,737.1 1355.5,713.2 1356.3,713.2 1356.3,746.3 1357.1,756.4 1357.1,687.7 1357.9,706.3 1357.9,756.4 1358.7,746.3 1358.7,699.8 1359.5,703.0 1359.5,761.8 1360.3,761.8 1360.3,682.1 1361.1,706.3 1361.1,728.6 1361.9,709.7 1361.9,779.7 1362.7,773.4 1362.7,728.6 1363.5,751.2 1363.5,696.6 1364.3,699.8 1364.3,793.4 1365.1,756.4 1365.1,716.9 1365.9,699.8 1365.9,746.3 1366.7,756.4 1366.7,713.2 1367.5,720.7 1367.5,751.2 1368.3,741.6 1368.3,699.8 1369.1,696.6 1369.1,773.4 1369.9,741.6 1369.9,713.2 1370.7,696.6 1370.7,756.4 1371.5,761.8 1371.5,693.6 1372.3,682.1 1372.3,737.1 1373.1,751.2 1373.1,703.0 1373.9,703.0 1373.9,751.2 1374.7,756.4 1374.7,690.6 1375.5,720.7 1375.5,767.4 1376.3,746.3 1376.3,706.3 1377.1,716.9 1377.1,761.8 1377.9,746.3 1377.9,713.2 1378.7,724.5 1378.7,741.6 1379.5,699.8 1379.5,793.4 1380.3,741.6 1380.3,687.7 1381.1,696.6 1381.1,773.4 1381.9,741.6 1381.9,699.8 1382.7,696.6 1382.7,756.4 1383.5,737.1 1383.5,699.8 1384.3,682.1 1384.3,786.3 1385.1,767.4 1385.1,709.7 1385.9,716.9 1385.9,751.2 1386.7,773.4 1386.7,716.9 1387.5,703.0 1387.5,737.1 1388.3,761.8 1388.3,679.5 1389.1,703.0 1389.1,767.4 1389.9,756.4 1389.9,703.0 1390.7,713.2 1390.7,737.1 1391.5,728.6 1391.5,706.3 1392.3,713.2 1392.3,779.7 1393.1,779.7 1393.1,696.6 1393.9,703.0 1393.9,751.2 1394.7,773.4 1394.7,713.2 1395.5,709.7 1395.5,773.4 1396.3,761.8 1396.3,706.3 1397.1,699.8 1397.1,761.8 1397.9,756.4 1397.9,713.2 1398.7,724.5 1398.7,773.4 1399.5,756.4 1399.5,696.6 1400.3,720.7 1400.3,786.3 1401.1,756.4 1401.1,703.0 1401.9,732.8 1401.9,751.2 1402.7,773.4 1402.7,696.6 1403.5,690.6 1403.5,737.1 1404.3,767.4 1404.3,699.8 1405.1,703.0 1405.1,779.7 1405.9,751.2 1405.9,720.7 1406.7,732.8 1406.7,699.8 1407.5,703.0 1407.5,751.2 1408.3,746.3 1408.3,716.9 1409.1,706.3 1409.1,751.2 1409.9,761.8 1409.9,703.0 1410.7,709.7 1410.7,741.6 1411.5,756.4 1411.5,699.8 1412.3,696.6 1412.3,751.2 1413.1,786.3 1413.1,684.9 1413.9,713.2 1413.9,751.2 1414.7,767.4 1414.7,699.8 1415.5,666.9 1415.5,761.8 1416.3,746.3 1416.3,709.7" fill="none" stroke="#ff00ff" stroke-width="3.4" stroke-linejoin="round"/>
<polyline points="343.1,62.4 343.1,70.4 344.3,70.8 344.3,77.1 345.1,77.8 345.1,81.2 345.9,81.6 345.9,87.1 346.7,87.9 346.7,91.6 347.5,91.7 347.5,94.7 348.3,95.6 348.3,99.5 349.1,99.0 349.1,102.9 349.9,102.0 349.9,104.9 350.7,104.7 350.7,107.8 351.5,107.5 351.5,112.4 352.3,114.0 352.3,109.4 353.1,112.8 353.1,116.0 353.9,116.9 353.9,114.7 354.7,117.6 354.7,121.3 355.5,118.7 355.5,125.2 356.3,125.4 356.3,121.7 357.1,123.4 357.1,128.1 357.9,127.5 357.9,131.3 358.7,131.9 358.7,128.7 359.5,131.0 359.5,136.3 360.3,136.7 360.3,129.8 361.1,133.4 361.1,138.5 361.9,137.5 361.9,139.9 362.7,137.7 362.7,143.1 363.5,144.2 363.5,140.7 364.3,143.4 364.3,148.2 365.1,148.1 365.1,144.1 365.9,148.6 365.9,149.9 366.7,149.4 366.7,155.4 367.5,154.0 367.5,151.2 368.3,152.2 368.3,156.2 369.1,154.7 369.1,158.1 369.9,159.7 369.9,155.8 370.7,159.0 370.7,161.9 371.5,160.2 371.5,164.4 372.3,164.0 372.3,166.1 373.1,165.1 373.1,167.5 373.9,166.4 373.9,170.4 374.7,168.8 374.7,172.5 375.5,174.4 375.5,170.4 376.3,172.9 376.3,176.9 377.1,176.7 377.1,178.7 377.9,179.6 377.9,176.8 378.7,180.2 378.7,182.0 379.5,183.3 379.5,179.1 380.3,181.5 380.3,186.6 381.1,188.4 381.1,184.7 381.9,186.6 381.9,190.3 382.7,191.7 382.7,188.8 383.5,188.9 383.5,193.1 384.3,191.6 384.3,197.2 385.1,196.0 385.1,192.9 385.9,194.4 385.9,199.5 386.7,201.0 386.7,197.2 387.5,197.4 387.5,203.3 388.3,201.8 388.3,205.7 389.1,207.1 389.1,202.5 389.9,204.8 389.9,208.5 390.7,209.7 390.7,206.5 391.5,204.6 391.5,213.5 392.3,213.2 392.3,211.6 393.1,210.9 393.1,217.9 393.9,219.4 393.9,213.3 394.7,216.2 394.7,220.0 395.5,219.2 395.5,221.6 396.3,223.0 396.3,220.0 397.1,219.5 397.1,223.4 397.9,223.4 397.9,226.0 398.7,227.2 398.7,231.8 399.5,229.9 399.5,225.9 400.3,228.9 400.3,234.6 401.1,236.0 401.1,229.1 401.9,233.6 401.9,236.7 402.7,234.8 402.7,239.9 403.5,237.9 403.5,234.8 404.3,237.0 404.3,242.1 405.1,242.4 405.1,237.5 405.9,241.7 405.9,244.6 406.7,246.1 406.7,242.3 407.5,245.7 407.5,248.2 408.3,245.8 408.3,252.1 409.1,253.5 409.1,248.1 409.9,247.3 409.9,253.7 410.7,255.5 410.7,250.4 411.5,252.7 411.5,258.9 412.3,260.3 412.3,251.9 413.1,255.6 413.1,261.3 413.9,258.7 413.9,263.9 414.7,263.5 414.7,257.8 415.5,260.0 415.5,268.7 416.3,269.0 416.3,262.5 417.1,266.0 417.1,269.0 417.9,267.0 417.9,273.4 418.7,274.2 418.7,266.7 419.5,270.9 419.5,278.7 420.3,276.9 420.3,270.8 421.1,274.0 421.1,277.1 421.9,279.3 421.9,272.9 422.7,275.0 422.7,279.9 423.5,275.0 423.5,285.9 424.3,284.8 424.3,278.5 425.1,279.2 425.1,284.2 425.9,282.1 425.9,288.7 426.7,291.8 426.7,283.2 427.5,286.3 427.5,292.6 428.3,292.5 428.3,287.5 429.1,287.0 429.1,292.9 429.9,292.5 429.9,296.9 430.7,297.7 430.7,292.3 431.5,296.3 431.5,301.8 432.3,302.2 432.3,293.9 433.1,292.1 433.1,301.3 433.9,305.2 433.9,294.5 434.7,300.1 434.7,306.9 435.5,303.0 435.5,310.8 436.3,310.0 436.3,303.2 437.1,304.5 437.1,315.7 437.9,314.0 437.9,307.4 438.7,307.7 438.7,314.3 439.5,315.2 439.5,309.3 440.3,311.3 440.3,318.6 441.1,317.9 441.1,311.2 441.9,313.4 441.9,322.3 442.7,322.1 442.7,314.7 443.5,314.6 443.5,322.1 444.3,328.2 444.3,315.9 445.1,319.7 445.1,327.8 445.9,326.2 445.9,319.7 446.7,326.0 446.7,330.4 447.5,331.0 447.5,327.0 448.3,328.3 448.3,330.8 449.1,328.9 449.1,335.4 449.9,336.2 449.9,325.4 450.7,337.0 450.7,338.7 451.5,341.0 451.5,331.7 452.3,334.1 452.3,344.2 453.1,341.8 453.1,333.8 453.9,338.0 453.9,343.0 454.7,347.3 454.7,337.3 455.5,337.3 455.5,349.7 456.3,349.2 456.3,342.7 457.1,345.5 457.1,351.8 457.9,354.6 457.9,340.7 458.7,347.8 458.7,358.9 459.5,357.5 459.5,346.5 460.3,346.4 460.3,354.8 461.1,356.9 461.1,348.2 461.9,347.9 461.9,360.7 462.7,363.6 462.7,353.2 463.5,350.9 463.5,362.8 464.3,358.9 464.3,367.4 465.1,367.3 465.1,357.7 465.9,358.8 465.9,366.5 466.7,367.7 466.7,362.6 467.5,360.8 467.5,371.5 468.3,368.8 468.3,361.4 469.1,363.0 469.1,375.6 469.9,377.7 469.9,364.7 470.7,363.3 470.7,377.1 471.5,372.0 471.5,385.2 472.3,378.2 472.3,372.1 473.1,373.5 473.1,382.6 473.9,379.7 473.9,371.3 474.7,378.8 474.7,383.1 475.5,387.7 475.5,373.8 476.3,375.4 476.3,389.1 477.1,393.4 477.1,374.6 477.9,385.6 477.9,394.3 478.7,391.2 478.7,379.7 479.5,381.0 479.5,393.3 480.3,393.0 480.3,386.2 481.1,390.3 481.1,396.1 481.9,393.7 481.9,383.8 482.7,391.4 482.7,398.6 483.5,402.7 483.5,390.7 484.3,390.7 484.3,400.9 485.1,405.3 485.1,395.6 485.9,392.1 485.9,402.8 486.7,409.4 486.7,394.2 487.5,398.0 487.5,403.6 488.3,405.6 488.3,399.3 489.1,400.2 489.1,413.8 489.9,412.4 489.9,397.7 490.7,398.6 490.7,409.8 491.5,412.8 491.5,405.3 492.3,405.0 492.3,415.8 493.1,416.6 493.1,409.3 493.9,407.3 493.9,417.2 494.7,424.1 494.7,407.5 495.5,412.3 495.5,429.1 496.3,420.4 496.3,413.3 497.1,414.3 497.1,425.2 497.9,426.2 497.9,414.0 498.7,412.0 498.7,428.5 499.5,426.3 499.5,416.6 500.3,420.5 500.3,423.4 501.1,420.4 501.1,427.4 501.9,423.2 501.9,437.8 502.7,438.5 502.7,424.0 503.5,422.3 503.5,432.7 504.3,427.8 504.3,440.2 505.1,435.6 505.1,427.9 505.9,430.7 505.9,440.3 506.7,445.4 506.7,431.1 507.5,428.4 507.5,444.2 508.3,443.2 508.3,430.9 509.1,427.7 509.1,447.8 509.9,442.2 509.9,434.6 510.7,429.1 510.7,442.5 511.5,437.9 511.5,454.2 512.3,452.2 512.3,438.9 513.1,435.4 513.1,452.9 513.9,454.1 513.9,439.0 514.7,438.4 514.7,449.9 515.5,450.7 515.5,441.7 516.3,440.4 516.3,459.8 517.1,464.5 517.1,440.1 517.9,449.6 517.9,463.6 518.7,463.7 518.7,450.1 519.5,446.5 519.5,467.2 520.3,464.8 520.3,452.6 521.1,444.4 521.1,471.1 521.9,472.1 521.9,456.4 522.7,448.9 522.7,464.3 523.5,455.0 523.5,476.6 524.3,467.8 524.3,460.1 525.1,454.7 525.1,470.9 525.9,466.3 525.9,476.4 526.7,484.4 526.7,464.0 527.5,462.1 527.5,486.2 528.3,479.3 528.3,462.2 529.1,469.4 529.1,479.9 529.9,482.5 529.9,466.4 530.7,461.2 530.7,476.6 531.5,481.6 531.5,468.7 532.3,463.9 532.3,485.9 533.1,486.0 533.1,468.3 533.9,473.6 533.9,485.3 534.7,488.5 534.7,477.7 535.5,481.5 535.5,494.6 536.3,491.9 536.3,473.3 537.1,475.7 537.1,483.9 537.9,480.2 537.9,499.3 538.7,498.0 538.7,473.2 539.5,467.0 539.5,497.6 540.3,502.7 540.3,481.8 541.1,477.8 541.1,507.0 541.9,512.9 541.9,485.9 542.7,483.0 542.7,509.4 543.5,502.4 543.5,482.7 544.3,487.0 544.3,512.3 545.1,504.6 545.1,487.7 545.9,490.9 545.9,509.4 546.7,513.3 546.7,480.2 547.5,485.8 547.5,513.6 548.3,499.2 548.3,488.9 549.1,488.1 549.1,519.5 549.9,504.9 549.9,487.9 550.7,503.5 550.7,517.5 551.5,509.9 551.5,496.8 552.3,500.3 552.3,514.4 553.1,520.2 553.1,505.4 553.9,502.9 553.9,521.0 554.7,519.9 554.7,497.6 555.5,503.7 555.5,521.2 556.3,516.1 556.3,497.8 557.1,504.4 557.1,525.7 557.9,525.9 557.9,513.0 558.7,499.0 558.7,527.2 559.5,524.9 559.5,512.6 560.3,508.9 560.3,527.5 561.1,534.8 561.1,513.9 561.9,507.0 561.9,528.4 562.7,539.9 562.7,514.2 563.5,516.0 563.5,540.1 564.3,534.0 564.3,511.6 565.1,523.9 565.1,534.1 565.9,544.8 565.9,509.5 566.7,511.8 566.7,544.2 567.5,533.8 567.5,511.9 568.3,521.2 568.3,542.3 569.1,540.9 569.1,526.8 569.9,514.9 569.9,541.8 570.7,538.3 570.7,516.8 571.5,532.3 571.5,549.4 572.3,541.4 572.3,526.5 573.1,526.6 573.1,541.5 573.9,541.5 573.9,528.0 574.7,542.3 574.7,553.1 575.5,548.5 575.5,526.3 576.3,530.8 576.3,550.1 577.1,554.3 577.1,530.9 577.9,532.3 577.9,554.3 578.7,557.7 578.7,539.2 579.5,533.1 579.5,567.5 580.3,551.4 580.3,538.7 581.1,537.4 581.1,564.0 581.9,560.7 581.9,534.0 582.7,545.5 582.7,564.2 583.5,563.5 583.5,544.1 584.3,539.0 584.3,563.6 585.1,563.7 585.1,530.2 585.9,537.0 585.9,563.8 586.7,572.2 586.7,548.2 587.5,535.1 587.5,563.9 588.3,555.5 588.3,547.5 589.1,548.3 589.1,577.4 589.9,572.6 589.9,550.0 590.7,550.9 590.7,568.9 591.5,579.8 591.5,548.5 592.3,547.8 592.3,578.8 593.1,581.0 593.1,561.1 593.9,568.3 593.9,553.5 594.7,561.1 594.7,582.2 595.5,597.0 595.5,548.9 596.3,557.0 596.3,584.5 597.1,585.7 597.1,549.7 597.9,553.0 597.9,572.5 598.7,566.0 598.7,590.4 599.5,589.3 599.5,568.8 600.3,563.4 600.3,609.0 601.1,578.7 601.1,552.4 601.9,570.9 601.9,584.1 602.7,595.4 602.7,564.4 603.5,571.0 603.5,590.8 604.3,596.8 604.3,558.4 605.1,550.9 605.1,612.4 605.9,592.2 605.9,558.5 606.7,569.3 606.7,597.0 607.5,590.1 607.5,572.2 608.3,574.3 608.3,593.6 609.1,603.5 609.1,571.4 609.9,575.3 609.9,585.8 610.7,566.8 610.7,611.7 611.5,600.0 611.5,580.6 612.3,579.6 612.3,603.9 613.1,598.9 613.1,574.6 613.9,568.8 613.9,609.3 614.7,605.4 614.7,581.8 615.5,591.9 615.5,612.2 616.3,601.6 616.3,580.9 617.1,578.8 617.1,604.3 617.9,600.5 617.9,577.8 618.7,569.0 618.7,599.3 619.5,586.4 619.5,616.9 620.3,605.9 620.3,587.6 621.1,586.5 621.1,612.7 621.9,611.3 621.9,582.2 622.7,583.3 622.7,615.7 623.5,608.8 623.5,591.2 624.3,599.7 624.3,624.8 625.1,623.4 625.1,582.4 625.9,584.6 625.9,626.5 626.7,616.0 626.7,594.9 627.5,592.6 627.5,613.2 628.3,589.1 628.3,642.1 629.1,644.0 629.1,592.6 629.9,593.9 629.9,609.2 630.7,631.9 630.7,585.8 631.5,601.3 631.5,614.8 632.3,628.7 632.3,588.1 633.1,606.6 633.1,632.0 633.9,650.2 633.9,602.7 634.7,597.7 634.7,627.2 635.5,618.0 635.5,595.3 636.3,604.1 636.3,630.6 637.1,625.8 637.1,606.8 637.9,599.0 637.9,635.8 638.7,618.2 638.7,611.0 639.5,602.9 639.5,639.4 640.3,627.6 640.3,609.6 641.1,599.2 641.1,637.8 641.9,634.3 641.9,622.9 642.7,632.6 642.7,601.8 643.5,598.0 643.5,623.0 644.3,634.4 644.3,598.0 645.1,617.0 645.1,641.6 645.9,634.5 645.9,612.7 646.7,611.3 646.7,649.3 647.5,638.1 647.5,599.3 648.3,612.7 648.3,647.4 649.1,649.5 649.1,599.4 649.9,610.0 649.9,631.3 650.7,610.0 650.7,662.1 651.5,638.3 651.5,612.8 652.3,611.5 652.3,645.7 653.1,640.2 653.1,600.7 653.9,607.3 653.9,638.4 654.7,617.3 654.7,664.6 655.5,644.0 655.5,620.3 656.3,620.4 656.3,651.8 657.1,651.9 657.1,610.2 657.9,623.5 657.9,654.0 658.7,684.6 658.7,622.0 659.5,620.4 659.5,656.1 660.3,644.2 660.3,614.5 661.1,617.5 661.1,648.1 661.9,658.4 661.9,619.0 662.7,626.8 662.7,644.3 663.5,658.4 663.5,617.5 664.3,622.1 664.3,646.3 665.1,658.5 665.1,620.6 665.9,628.5 665.9,652.3 666.7,665.2 666.7,626.9 667.5,623.7 667.5,660.8 668.3,670.0 668.3,616.1 669.1,614.7 669.1,677.4 669.9,670.0 669.9,635.4 670.7,617.6 670.7,658.7 671.5,677.5 671.5,637.2 672.3,627.0 672.3,667.8 673.1,661.0 673.1,632.0 673.9,633.8 673.9,658.8 674.7,665.5 674.7,639.1 675.5,627.1 675.5,654.6 676.3,677.7 676.3,627.1 677.1,632.1 677.1,658.9 677.9,642.9 677.9,677.8 678.7,668.0 678.7,623.9 679.5,635.6 679.5,661.2 680.3,680.5 680.3,637.4 681.1,633.9 681.1,661.2 681.9,665.8 681.9,633.9 682.7,622.4 682.7,668.1 683.5,678.0 683.5,628.8 684.3,633.9 684.3,661.3 685.1,668.2 685.1,641.1 685.9,650.8 685.9,628.9 686.7,648.8 686.7,680.7 687.5,683.4 687.5,648.8 688.3,648.9 688.3,675.6 689.1,670.7 689.1,650.9 689.9,624.0 689.9,683.5 690.7,678.2 690.7,637.6 691.5,646.9 691.5,686.3 692.3,680.9 692.3,635.8 693.1,655.1 693.1,692.0 693.9,707.7 693.9,647.0 694.7,635.8 694.7,675.8 695.5,686.4 695.5,635.8 696.3,647.0 696.3,714.7 697.1,670.9 697.1,645.1 697.9,635.9 697.9,689.3 698.7,695.2 698.7,651.0 699.5,657.3 699.5,675.9 700.3,683.8 700.3,641.3 701.1,635.9 701.1,686.5 701.9,689.4 701.9,641.3 702.7,643.2 702.7,686.6 703.5,671.0 703.5,639.5 704.3,655.2 704.3,695.3 705.1,689.5 705.1,635.9 705.9,659.5 705.9,695.4 706.7,698.4 706.7,632.4 707.5,664.0 707.5,692.4 708.3,671.1 708.3,715.1 709.1,722.6 709.1,651.1 709.9,653.2 709.9,686.7 710.7,701.7 710.7,653.2 711.5,649.1 711.5,681.3 712.3,695.5 712.3,651.2 713.1,657.5 713.1,708.3 713.9,692.6 713.9,643.3 714.7,649.2 714.7,689.7 715.5,695.6 715.5,645.2 716.3,653.3 716.3,681.4 717.1,695.6 717.1,659.7 717.9,651.2 717.9,689.7 718.7,711.9 718.7,645.3 719.5,647.2 719.5,715.5 720.3,698.7 720.3,661.9 721.1,657.5 721.1,673.7 721.9,678.9 721.9,641.5 722.7,664.2 722.7,689.8 723.5,723.1 723.5,649.2 724.3,659.7 724.3,698.8 725.1,698.8 725.1,629.1 725.9,671.3 725.9,735.3 726.7,705.3 726.7,657.6 727.5,664.3 727.5,702.0 728.3,715.7 728.3,673.8 729.1,655.4 729.1,692.8 729.9,715.7 729.9,666.6 730.7,669.0 730.7,708.7 731.5,708.7 731.5,659.8 732.3,673.9 732.3,699.0 733.1,671.4 733.1,731.3 733.9,735.6 733.9,655.5 734.7,651.3 734.7,723.3 735.5,687.1 735.5,657.6 736.3,662.0 736.3,690.0 737.1,705.4 737.1,671.4 737.9,679.0 737.9,715.9 738.7,705.5 738.7,653.4 739.5,664.3 739.5,708.8 740.3,690.0 740.3,664.3 741.1,673.9 741.1,723.4 741.9,696.0 741.9,676.5 742.7,673.9 742.7,727.4 743.5,719.6 743.5,653.4 744.3,657.7 744.3,712.4 745.1,712.4 745.1,653.4 745.9,647.3 745.9,693.0 746.7,679.1 746.7,727.5 747.5,712.4 747.5,681.8 748.3,693.0 748.3,723.5 749.1,705.6 749.1,666.7 749.9,679.1 749.9,693.1 750.7,719.8 750.7,659.9 751.5,674.0 751.5,719.8 752.3,740.4 752.3,679.1 753.1,690.2 753.1,664.4 753.9,687.3 753.9,709.0 754.7,723.6 754.7,693.1 755.5,669.1 755.5,736.0 756.3,712.5 756.3,662.1 757.1,671.5 757.1,719.8 757.9,712.5 757.9,671.6 758.7,679.2 758.7,731.8 759.5,705.7 759.5,674.0 760.3,687.3 760.3,719.9 761.1,719.9 761.1,684.6 761.9,662.2 761.9,719.9 762.7,709.1 762.7,681.8 763.5,679.2 763.5,727.7 764.3,705.7 764.3,674.1 765.1,684.6 765.1,705.8 765.9,719.9 765.9,674.1 766.7,674.1 766.7,712.6 767.5,712.6 767.5,681.9 768.3,681.9 768.3,709.2 769.1,723.8 769.1,671.6 769.9,681.9 769.9,709.2 770.7,731.9 770.7,666.8 771.5,674.1 771.5,716.3 772.3,727.8 772.3,657.7 773.1,687.4 773.1,723.8 773.9,723.8 773.9,696.2 774.7,671.6 774.7,723.9 775.5,723.9 775.5,671.6 776.3,671.6 776.3,740.7 777.1,709.2 777.1,681.9 777.9,679.2 777.9,766.1 778.7,740.7 778.7,690.3 779.5,693.2 779.5,755.3 780.3,750.2 780.3,679.3 781.1,664.5 781.1,720.1 781.9,716.3 781.9,690.3 782.7,679.3 782.7,732.0 783.5,736.3 783.5,687.5 784.3,674.1 784.3,705.9 785.1,720.1 785.1,669.2 785.9,669.2 785.9,720.1 786.7,712.8 786.7,679.3 787.5,676.7 787.5,736.4 788.3,732.1 788.3,676.7 789.1,687.5 789.1,732.1 789.9,740.8 789.9,684.7 790.7,679.3 790.7,732.1 791.5,720.1 791.5,690.4 792.3,690.4 792.3,712.8 793.1,705.9 793.1,679.3 793.9,690.4 793.9,720.1 794.7,705.9 794.7,669.2 795.5,682.0 795.5,755.5 796.3,724.0 796.3,687.5 797.1,676.7 797.1,736.4 797.9,728.0 797.9,690.4 798.7,705.9 798.7,671.7 799.5,669.2 799.5,720.2 800.3,736.5 800.3,679.3 801.1,662.2 801.1,740.9 801.9,712.8 801.9,679.3 802.7,684.7 802.7,728.0 803.5,750.5 803.5,684.7 804.3,669.2 804.3,745.6 805.1,736.5 805.1,676.7 805.9,682.0 805.9,736.5 806.7,693.3 806.7,666.9 807.5,671.7 807.5,741.0 808.3,732.2 808.3,674.2 809.1,699.5 809.1,720.2 809.9,732.2 809.9,684.7 810.7,693.4 810.7,720.2 811.5,720.2 811.5,684.7 812.3,674.2 812.3,709.4 813.1,728.1 813.1,682.0 813.9,690.4 813.9,712.9 814.7,706.0 814.7,745.7 815.5,702.7 815.5,684.7 816.3,684.7 816.3,724.1 817.1,741.0 817.1,699.5 817.9,682.0 817.9,724.1 818.7,732.3 818.7,687.5 819.5,679.3 819.5,741.0 820.3,736.6 820.3,687.5 821.1,679.3 821.1,720.3 821.9,736.6 821.9,682.0 822.7,693.4 822.7,741.1 823.5,712.9 823.5,684.7 824.3,702.7 824.3,755.7 825.1,736.6 825.1,699.5 825.9,684.8 825.9,755.7 826.7,741.1 826.7,687.6 827.5,679.3 827.5,712.9 828.3,716.5 828.3,693.4 829.1,693.4 829.1,755.7 829.9,741.1 829.9,679.4 830.7,684.8 830.7,755.7 831.5,736.6 831.5,706.0 832.3,693.4 832.3,732.3 833.1,761.1 833.1,693.4 833.9,684.8 833.9,728.2 834.7,720.3 834.7,676.7 835.5,682.0 835.5,741.1 836.3,724.2 836.3,690.4 837.1,690.4 837.1,724.2 837.9,724.2 837.9,696.4 838.7,687.6 838.7,728.2 839.5,724.2 839.5,666.9 840.3,682.0 840.3,724.2 841.1,750.7 841.1,693.4 841.9,696.4 841.9,741.1 842.7,766.7 842.7,676.8 843.5,676.8 843.5,741.1 844.3,745.8 844.3,671.7 845.1,693.4 845.1,728.2 845.9,732.4 845.9,696.4 846.7,699.6 846.7,741.2 847.5,732.4 847.5,690.5 848.3,687.6 848.3,761.1 849.1,713.0 849.1,676.8 849.9,699.6 849.9,745.8 850.7,716.6 850.7,684.8 851.5,684.8 851.5,761.1 852.3,724.2 852.3,699.6 853.1,684.8 853.1,736.7 853.9,750.7 853.9,693.4 854.7,702.8 854.7,750.7 855.5,761.2 855.5,671.7 856.3,684.8 856.3,728.2 857.1,724.2 857.1,687.6 857.9,674.2 857.9,755.8 858.7,772.7 858.7,674.2 859.5,693.4 859.5,745.9 860.3,741.2 860.3,709.5 861.1,720.4 861.1,693.4 861.9,684.8 861.9,716.6 862.7,745.9 862.7,676.8 863.5,693.4 863.5,732.4 864.3,761.2 864.3,676.8 865.1,687.6 865.1,755.9 865.9,755.9 865.9,693.4 866.7,699.6 866.7,736.7 867.5,728.2 867.5,676.8 868.3,671.7 868.3,741.2 869.1,750.8 869.1,690.5 869.9,690.5 869.9,728.3 870.7,732.4 870.7,690.5 871.5,699.6 871.5,755.9 872.3,724.2 872.3,687.6 873.1,684.8 873.1,713.0 873.9,687.6 873.9,745.9 874.7,732.4 874.7,693.4 875.5,679.4 875.5,736.7 876.3,741.2 876.3,690.5 877.1,676.8 877.1,724.3 877.9,728.3 877.9,690.5 878.7,706.1 878.7,745.9 879.5,720.4 879.5,696.5 880.3,690.5 880.3,732.4 881.1,736.7 881.1,687.6 881.9,682.1 881.9,736.7 882.7,724.3 882.7,690.5 883.5,690.5 883.5,755.9 884.3,745.9 884.3,679.4 885.1,664.6 885.1,785.6 885.9,732.4 885.9,676.8 886.7,679.4 886.7,741.2 887.5,713.0 887.5,693.5 888.3,696.5 888.3,736.8 889.1,745.9 889.1,690.5 889.9,709.5 889.9,750.8 890.7,736.8 890.7,690.5 891.5,687.6 891.5,724.3 892.3,755.9 892.3,684.8 893.1,693.5 893.1,750.8 893.9,724.3 893.9,679.4 894.7,674.2 894.7,732.4 895.5,766.9 895.5,684.8 896.3,690.5 896.3,745.9 897.1,755.9 897.1,696.5 897.9,706.1 897.9,732.5 898.7,745.9 898.7,693.5 899.5,679.4 899.5,732.5 900.3,750.8 900.3,699.6 901.1,693.5 901.1,745.9 901.9,720.4 901.9,696.5 902.7,671.7 902.7,732.5 903.5,724.3 903.5,676.8 904.3,679.4 904.3,709.5 905.1,696.5 905.1,746.0 905.9,746.0 905.9,676.8 906.7,693.5 906.7,785.6 907.5,746.0 907.5,690.5 908.3,706.1 908.3,766.9 909.1,746.0 909.1,693.5 909.9,696.5 909.9,724.3 910.7,736.8 910.7,690.5 911.5,696.5 911.5,746.0 912.3,750.8 912.3,679.4 913.1,699.6 913.1,732.5 913.9,713.1 913.9,756.0 914.7,741.3 914.7,696.5 915.5,716.7 915.5,746.0 916.3,732.5 916.3,674.2 917.1,687.6 917.1,741.3 917.9,736.8 917.9,699.6 918.7,706.1 918.7,728.3 919.5,741.3 919.5,696.5 920.3,690.5 920.3,746.0 921.1,779.1 921.1,693.5 921.9,676.8 921.9,736.8 922.7,741.3 922.7,684.8 923.5,699.6 923.5,741.3 924.3,732.5 924.3,693.5 925.1,690.5 925.1,736.8 925.9,724.3 925.9,706.1 926.7,702.8 926.7,736.8 927.5,736.8 927.5,706.1 928.3,732.5 928.3,674.2 929.1,687.6 929.1,750.9 929.9,741.3 929.9,713.1 930.7,682.1 930.7,750.9 931.5,750.9 931.5,684.8 932.3,696.5 932.3,772.9 933.1,761.3 933.1,699.6 933.9,679.4 933.9,720.4 934.7,720.4 934.7,693.5 935.5,702.8 935.5,736.8 936.3,741.3 936.3,696.5 937.1,674.2 937.1,746.0 937.9,766.9 937.9,690.5 938.7,699.6 938.7,766.9 939.5,746.0 939.5,696.5 940.3,706.1 940.3,746.0 941.1,750.9 941.1,687.6 941.9,687.6 941.9,732.5 942.7,713.1 942.7,756.0 943.5,756.0 943.5,687.6 944.3,684.8 944.3,736.8 945.1,750.9 945.1,699.6 945.9,687.6 945.9,750.9 946.7,732.5 946.7,702.8 947.5,684.8 947.5,741.3 948.3,741.3 948.3,687.6 949.1,709.6 949.1,750.9 949.9,732.5 949.9,690.5 950.7,687.6 950.7,746.0 951.5,767.0 951.5,706.2 952.3,713.1 952.3,761.3 953.1,741.3 953.1,716.7 953.9,696.5 953.9,785.7 954.7,741.3 954.7,699.6 955.5,696.5 955.5,724.3 956.3,741.3 956.3,693.5 957.1,699.6 957.1,720.4 957.9,709.6 957.9,746.0 958.7,736.8 958.7,687.6 959.5,684.8 959.5,750.9 960.3,724.3 960.3,684.8 961.1,682.1 961.1,736.8 961.9,720.4 961.9,696.5 962.7,706.2 962.7,756.0 963.5,761.4 963.5,693.5 964.3,696.5 964.3,756.0 965.1,792.8 965.1,684.8 965.9,690.5 965.9,736.8 966.7,779.1 966.7,679.4 967.5,690.5 967.5,720.5 968.3,736.8 968.3,682.1 969.1,676.8 969.1,724.3 969.9,746.0 969.9,679.4 970.7,682.1 970.7,713.1 971.5,741.3 971.5,682.1 972.3,693.5 972.3,736.8 973.1,792.8 973.1,679.4 973.9,709.6 973.9,746.0 974.7,746.0 974.7,699.6 975.5,696.5 975.5,761.4 976.3,732.5 976.3,696.5 977.1,676.8 977.1,756.0 977.9,732.5 977.9,674.2 978.7,696.5 978.7,741.3 979.5,741.3 979.5,693.5 980.3,696.5 980.3,736.8 981.1,741.3 981.1,669.3 981.9,693.5 981.9,736.8 982.7,741.3 982.7,693.5 983.5,693.5 983.5,741.3 984.3,720.5 984.3,684.8 985.1,702.9 985.1,756.0 985.9,756.0 985.9,696.5 986.7,716.7 986.7,736.8 987.5,736.8 987.5,690.5 988.3,706.2 988.3,728.3 989.1,720.5 989.1,699.6 989.9,713.1 989.9,750.9 990.7,746.0 990.7,709.6 991.5,736.8 991.5,682.1 992.3,706.2 992.3,736.8 993.1,750.9 993.1,682.1 993.9,713.1 993.9,736.8 994.7,728.4 994.7,699.6 995.5,687.6 995.5,756.0 996.3,741.3 996.3,713.1 997.1,696.5 997.1,732.5 997.9,728.4 997.9,702.9 998.7,699.6 998.7,728.4 999.5,750.9 999.5,676.8 1000.3,699.6 1000.3,732.5 1001.1,750.9 1001.1,706.2 1001.9,702.9 1001.9,761.4 1002.7,724.3 1002.7,687.6 1003.5,699.6 1003.5,750.9 1004.3,761.4 1004.3,693.5 1005.1,682.1 1005.1,741.3 1005.9,746.0 1005.9,684.8 1006.7,702.9 1006.7,767.0 1007.5,756.0 1007.5,690.5 1008.3,679.4 1008.3,720.5 1009.1,736.8 1009.1,690.5 1009.9,699.6 1009.9,736.8 1010.7,741.3 1010.7,687.6 1011.5,690.5 1011.5,767.0 1012.3,756.0 1012.3,696.5 1013.1,699.6 1013.1,720.5 1013.9,702.9 1013.9,750.9 1014.7,750.9 1014.7,696.5 1015.5,693.5 1015.5,750.9 1016.3,772.9 1016.3,676.8 1017.1,666.9 1017.1,767.0 1017.9,750.9 1017.9,699.6 1018.7,709.6 1018.7,728.4 1019.5,713.1 1019.5,772.9 1020.3,746.0 1020.3,687.6 1021.1,690.5 1021.1,761.4 1021.9,756.0 1021.9,713.1 1022.7,693.5 1022.7,736.8 1023.5,756.0 1023.5,693.5 1024.3,713.1 1024.3,746.0 1025.1,750.9 1025.1,684.8 1025.9,693.5 1025.9,724.3 1026.7,716.7 1026.7,761.4 1027.5,750.9 1027.5,693.5 1028.3,696.5 1028.3,736.8 1029.1,736.8 1029.1,699.6 1029.9,693.5 1029.9,756.0 1030.7,716.7 1030.7,676.8 1031.5,684.8 1031.5,736.8 1032.3,736.8 1032.3,682.1 1033.1,693.5 1033.1,750.9 1033.9,736.8 1033.9,690.5 1034.7,690.5 1034.7,713.1 1035.5,732.5 1035.5,687.6 1036.3,687.6 1036.3,720.5 1037.1,756.0 1037.1,684.8 1037.9,693.5 1037.9,756.0 1038.7,713.1 1038.7,684.8 1039.5,699.6 1039.5,756.0 1040.3,761.4 1040.3,696.5 1041.1,699.6 1041.1,750.9 1041.9,767.0 1041.9,696.5 1042.7,676.8 1042.7,750.9 1043.5,772.9 1043.5,709.6 1044.3,713.1 1044.3,746.0 1045.1,741.3 1045.1,696.5 1045.9,693.5 1045.9,808.3 1046.7,779.2 1046.7,702.9 1047.5,699.6 1047.5,732.5 1048.3,732.5 1048.3,690.5 1049.1,687.6 1049.1,741.3 1049.9,732.5 1049.9,669.3 1050.7,690.5 1050.7,732.5 1051.5,746.0 1051.5,687.6 1052.3,687.6 1052.3,732.5 1053.1,732.5 1053.1,702.9 1053.9,684.8 1053.9,746.0 1054.7,741.3 1054.7,687.6 1055.5,696.5 1055.5,732.5 1056.3,706.2 1056.3,767.0 1057.1,741.3 1057.1,713.1 1057.9,724.3 1057.9,690.5 1058.7,706.2 1058.7,728.4 1059.5,696.5 1059.5,761.4 1060.3,761.4 1060.3,706.2 1061.1,716.7 1061.1,684.8 1061.9,690.5 1061.9,709.6 1062.7,699.7 1062.7,736.9 1063.5,750.9 1063.5,690.5 1064.3,706.2 1064.3,746.0 1065.1,741.3 1065.1,696.5 1065.9,699.7 1065.9,779.2 1066.7,741.3 1066.7,682.1 1067.5,713.1 1067.5,746.0 1068.3,772.9 1068.3,713.1 1069.1,679.4 1069.1,756.0 1069.9,736.9 1069.9,676.8 1070.7,671.7 1070.7,761.4 1071.5,736.9 1071.5,690.5 1072.3,687.6 1072.3,761.4 1073.1,767.0 1073.1,702.9 1073.9,741.4 1073.9,657.8 1074.7,699.7 1074.7,732.5 1075.5,750.9 1075.5,684.8 1076.3,716.7 1076.3,741.4 1077.1,741.4 1077.1,690.5 1077.9,671.7 1077.9,767.0 1078.7,736.9 1078.7,687.6 1079.5,693.5 1079.5,746.0 1080.3,756.0 1080.3,690.5 1081.1,693.5 1081.1,761.4 1081.9,756.0 1081.9,696.5 1082.7,706.2 1082.7,772.9 1083.5,732.5 1083.5,684.8 1084.3,693.5 1084.3,741.4 1085.1,756.0 1085.1,687.6 1085.9,709.6 1085.9,728.4 1086.7,756.0 1086.7,699.7 1087.5,696.5 1087.5,750.9 1088.3,741.4 1088.3,682.1 1089.1,676.8 1089.1,720.5 1089.9,709.6 1089.9,779.2 1090.7,720.5 1090.7,702.9 1091.5,693.5 1091.5,728.4 1092.3,750.9 1092.3,687.6 1093.1,666.9 1093.1,741.4 1093.9,746.0 1093.9,702.9 1094.7,699.7 1094.7,779.2 1095.5,732.5 1095.5,684.8 1096.3,699.7 1096.3,732.5 1097.1,728.4 1097.1,690.5 1097.9,671.7 1097.9,761.4 1098.7,785.8 1098.7,702.9 1099.5,690.5 1099.5,732.5 1100.3,756.0 1100.3,687.6 1101.1,693.5 1101.1,732.5 1101.9,724.3 1101.9,699.7 1102.7,684.8 1102.7,741.4 1103.5,756.0 1103.5,699.7 1104.3,690.5 1104.3,724.3 1105.1,741.4 1105.1,706.2 1105.9,696.5 1105.9,750.9 1106.7,785.8 1106.7,702.9 1107.5,684.8 1107.5,736.9 1108.3,741.4 1108.3,684.8 1109.1,696.5 1109.1,761.4 1109.9,746.0 1109.9,687.6 1110.7,684.8 1110.7,732.5 1111.5,741.4 1111.5,706.2 1112.3,693.5 1112.3,736.9 1113.1,728.4 1113.1,699.7 1113.9,682.1 1113.9,741.4 1114.7,724.3 1114.7,702.9 1115.5,709.6 1115.5,756.0 1116.3,750.9 1116.3,709.6 1117.1,690.5 1117.1,756.0 1117.9,772.9 1117.9,682.1 1118.7,687.6 1118.7,728.4 1119.5,696.5 1119.5,761.4 1120.3,736.9 1120.3,702.9 1121.1,713.1 1121.1,736.9 1121.9,720.5 1121.9,690.5 1122.7,684.8 1122.7,741.4 1123.5,736.9 1123.5,713.1 1124.3,687.6 1124.3,750.9 1125.1,750.9 1125.1,687.6 1125.9,684.8 1125.9,732.5 1126.7,767.0 1126.7,690.5 1127.5,679.4 1127.5,756.0 1128.3,772.9 1128.3,687.6 1129.1,669.3 1129.1,761.4 1129.9,761.4 1129.9,709.6 1130.7,720.5 1130.7,687.6 1131.5,699.7 1131.5,772.9 1132.3,756.0 1132.3,716.7 1133.1,741.4 1133.1,679.4 1133.9,687.6 1133.9,779.2 1134.7,746.0 1134.7,690.5 1135.5,696.5 1135.5,746.0 1136.3,756.0 1136.3,696.5 1137.1,693.5 1137.1,756.0 1137.9,741.4 1137.9,702.9 1138.7,696.5 1138.7,772.9 1139.5,728.4 1139.5,693.5 1140.3,690.5 1140.3,728.4 1141.1,720.5 1141.1,679.4 1141.9,684.8 1141.9,746.0 1142.7,741.4 1142.7,684.8 1143.5,699.7 1143.5,741.4 1144.3,720.5 1144.3,682.1 1145.1,709.6 1145.1,746.0 1145.9,761.4 1145.9,699.7 1146.7,706.2 1146.7,741.4 1147.5,767.0 1147.5,671.7 1148.3,699.7 1148.3,767.0 1149.1,724.4 1149.1,706.2 1149.9,696.5 1149.9,746.0 1150.7,756.0 1150.7,709.6 1151.5,736.9 1151.5,682.1 1152.3,716.7 1152.3,746.0 1153.1,746.0 1153.1,702.9 1153.9,699.7 1153.9,713.1 1154.7,713.1 1154.7,732.5 1155.5,724.4 1155.5,690.5 1156.3,684.8 1156.3,756.0 1157.1,750.9 1157.1,699.7 1157.9,687.6 1157.9,746.0 1158.7,761.4 1158.7,699.7 1159.5,706.2 1159.5,741.4 1160.3,741.4 1160.3,690.5 1161.1,696.5 1161.1,761.4 1161.9,728.4 1161.9,693.5 1162.7,696.5 1162.7,732.5 1163.5,736.9 1163.5,684.8 1164.3,709.6 1164.3,724.4 1165.1,699.7 1165.1,756.0 1165.9,746.0 1165.9,699.7 1166.7,702.9 1166.7,772.9 1167.5,746.0 1167.5,679.4 1168.3,713.1 1168.3,741.4 1169.1,761.4 1169.1,679.4 1169.9,713.1 1169.9,779.2 1170.7,746.0 1170.7,690.5 1171.5,696.5 1171.5,756.0 1172.3,756.0 1172.3,720.5 1173.1,690.5 1173.1,750.9 1173.9,741.4 1173.9,699.7 1174.7,696.5 1174.7,746.0 1175.5,756.0 1175.5,702.9 1176.3,693.5 1176.3,732.5 1177.1,741.4 1177.1,720.5 1177.9,702.9 1177.9,750.9 1178.7,736.9 1178.7,702.9 1179.5,709.6 1179.5,761.4 1180.3,761.4 1180.3,696.5 1181.1,687.6 1181.1,767.0 1181.9,761.4 1181.9,693.5 1182.7,693.5 1182.7,736.9 1183.5,709.6 1183.5,767.0 1184.3,741.4 1184.3,693.5 1185.1,682.1 1185.1,761.4 1185.9,746.0 1185.9,693.5 1186.7,699.7 1186.7,741.4 1187.5,750.9 1187.5,696.5 1188.3,676.8 1188.3,750.9 1189.1,750.9 1189.1,679.4 1189.9,676.8 1189.9,746.0 1190.7,736.9 1190.7,690.5 1191.5,687.6 1191.5,772.9 1192.3,750.9 1192.3,690.5 1193.1,696.5 1193.1,746.0 1193.9,736.9 1193.9,696.5 1194.7,706.2 1194.7,682.1 1195.5,679.4 1195.5,728.4 1196.3,761.4 1196.3,682.1 1197.1,687.6 1197.1,746.0 1197.9,779.2 1197.9,696.5 1198.7,674.2 1198.7,736.9 1199.5,746.0 1199.5,687.6 1200.3,682.1 1200.3,761.4 1201.1,750.9 1201.1,690.5 1201.9,687.6 1201.9,720.5 1202.7,699.7 1202.7,800.3 1203.5,713.1 1203.5,687.6 1204.3,687.6 1204.3,746.0 1205.1,761.4 1205.1,693.5 1205.9,709.6 1205.9,756.0 1206.7,741.4 1206.7,709.6 1207.5,690.5 1207.5,736.9 1208.3,746.0 1208.3,684.8 1209.1,676.8 1209.1,709.6 1209.9,690.5 1209.9,761.4 1210.7,736.9 1210.7,702.9 1211.5,706.2 1211.5,750.9 1212.3,756.0 1212.3,696.5 1213.1,696.5 1213.1,779.2 1213.9,736.9 1213.9,713.1 1214.7,732.5 1214.7,682.1 1215.5,713.1 1215.5,732.5 1216.3,741.4 1216.3,687.6 1217.1,699.7 1217.1,720.5 1217.9,741.4 1217.9,690.5 1218.7,690.5 1218.7,720.5 1219.5,736.9 1219.5,699.7 1220.3,687.6 1220.3,750.9 1221.1,732.5 1221.1,690.5 1221.9,702.9 1221.9,728.4 1222.7,750.9 1222.7,684.8 1223.5,709.6 1223.5,772.9 1224.3,736.9 1224.3,706.2 1225.1,696.5 1225.1,724.4 1225.9,741.4 1225.9,693.5 1226.7,706.2 1226.7,756.0 1227.5,713.1 1227.5,693.5 1228.3,706.2 1228.3,756.0 1229.1,732.5 1229.1,706.2 1229.9,696.5 1229.9,746.0 1230.7,761.4 1230.7,684.8 1231.5,693.5 1231.5,732.5 1232.3,736.9 1232.3,706.2 1233.1,709.6 1233.1,772.9 1233.9,736.9 1233.9,693.5 1234.7,693.5 1234.7,746.0 1235.5,750.9 1235.5,690.5 1236.3,706.2 1236.3,746.0 1237.1,741.4 1237.1,682.1 1237.9,696.5 1237.9,750.9 1238.7,750.9 1238.7,684.8 1239.5,676.8 1239.5,728.4 1240.3,741.4 1240.3,699.7 1241.1,693.5 1241.1,756.0 1241.9,736.9 1241.9,693.5 1242.7,706.2 1242.7,724.4 1243.5,736.9 1243.5,709.6 1244.3,702.9 1244.3,736.9 1245.1,750.9 1245.1,684.8 1245.9,696.5 1245.9,750.9 1246.7,756.0 1246.7,671.7 1247.5,679.4 1247.5,732.5 1248.3,741.4 1248.3,679.4 1249.1,687.6 1249.1,761.4 1249.9,736.9 1249.9,693.5 1250.7,690.5 1250.7,724.4 1251.5,702.9 1251.5,767.0 1252.3,728.4 1252.3,679.4 1253.1,706.2 1253.1,741.4 1253.9,736.9 1253.9,682.1 1254.7,693.5 1254.7,761.4 1255.5,736.9 1255.5,696.5 1256.3,706.2 1256.3,761.4 1257.1,750.9 1257.1,702.9 1257.9,696.5 1257.9,767.0 1258.7,779.2 1258.7,706.2 1259.5,690.5 1259.5,736.9 1260.3,736.9 1260.3,679.4 1261.1,699.7 1261.1,724.4 1261.9,736.9 1261.9,679.4 1262.7,687.6 1262.7,716.7 1263.5,736.9 1263.5,684.8 1264.3,699.7 1264.3,741.4 1265.1,756.0 1265.1,699.7 1265.9,684.8 1265.9,746.0 1266.7,756.0 1266.7,679.4 1267.5,687.6 1267.5,767.0 1268.3,736.9 1268.3,693.5 1269.1,690.5 1269.1,728.4 1269.9,750.9 1269.9,676.8 1270.7,679.4 1270.7,724.4 1271.5,746.0 1271.5,690.5 1272.3,699.7 1272.3,736.9 1273.1,736.9 1273.1,699.7 1273.9,693.5 1273.9,746.0 1274.7,746.0 1274.7,716.7 1275.5,702.9 1275.5,779.2 1276.3,741.4 1276.3,709.6 1277.1,684.8 1277.1,736.9 1277.9,756.0 1277.9,702.9 1278.7,706.2 1278.7,746.0 1279.5,728.4 1279.5,690.5 1280.3,693.5 1280.3,792.8 1281.1,736.9 1281.1,702.9 1281.9,684.8 1281.9,728.4 1282.7,709.6 1282.7,772.9 1283.5,772.9 1283.5,713.1 1284.3,713.1 1284.3,772.9 1285.1,756.0 1285.1,682.1 1285.9,674.2 1285.9,732.5 1286.7,756.0 1286.7,690.5 1287.5,690.5 1287.5,756.0 1288.3,728.4 1288.3,696.5 1289.1,682.1 1289.1,761.4 1289.9,736.9 1289.9,699.7 1290.7,682.1 1290.7,785.8 1291.5,750.9 1291.5,713.1 1292.3,736.9 1292.3,687.6 1293.1,684.8 1293.1,750.9 1293.9,746.0 1293.9,690.5 1294.7,696.5 1294.7,713.1 1295.5,702.9 1295.5,746.0 1296.3,767.0 1296.3,699.7 1297.1,690.5 1297.1,736.9 1297.9,736.9 1297.9,676.8 1298.7,696.5 1298.7,746.0 1299.5,746.0 1299.5,676.8 1300.3,693.5 1300.3,741.4 1301.1,732.5 1301.1,699.7 1301.9,674.2 1301.9,728.4 1302.7,724.4 1302.7,682.1 1303.5,706.2 1303.5,732.5 1304.3,732.5 1304.3,687.6 1305.1,684.8 1305.1,741.4 1305.9,732.5 1305.9,690.5 1306.7,702.9 1306.7,741.4 1307.5,736.9 1307.5,679.4 1308.3,696.5 1308.3,746.0 1309.1,756.0 1309.1,693.5 1309.9,690.5 1309.9,728.4 1310.7,741.4 1310.7,696.5 1311.5,699.7 1311.5,756.0 1312.3,716.7 1312.3,687.6 1313.1,702.9 1313.1,736.9 1313.9,741.4 1313.9,713.1 1314.7,736.9 1314.7,655.7 1315.5,696.5 1315.5,741.4 1316.3,741.4 1316.3,699.7 1317.1,696.5 1317.1,716.7 1317.9,693.5 1317.9,761.4 1318.7,746.0 1318.7,684.8 1319.5,690.5 1319.5,756.0 1320.3,761.4 1320.3,679.4 1321.1,709.6 1321.1,785.8 1321.9,741.4 1321.9,693.5 1322.7,676.8 1322.7,732.5 1323.5,732.5 1323.5,690.5 1324.3,682.1 1324.3,720.5 1325.1,750.9 1325.1,687.6 1325.9,669.3 1325.9,724.4 1326.7,750.9 1326.7,684.8 1327.5,690.5 1327.5,746.0 1328.3,736.9 1328.3,696.5 1329.1,702.9 1329.1,746.0 1329.9,767.0 1329.9,696.5 1330.7,682.1 1330.7,724.4 1331.5,736.9 1331.5,693.5 1332.3,696.5 1332.3,741.4 1333.1,750.9 1333.1,687.6 1333.9,706.2 1333.9,746.0 1334.7,767.0 1334.7,706.2 1335.5,699.7 1335.5,767.0 1336.3,736.9 1336.3,702.9 1337.1,696.5 1337.1,756.0 1337.9,746.0 1337.9,699.7 1338.7,687.6 1338.7,772.9 1339.5,761.4 1339.5,706.2 1340.3,696.5 1340.3,756.0 1341.1,756.0 1341.1,682.1 1341.9,690.5 1341.9,746.0 1342.7,767.0 1342.7,666.9 1343.5,696.5 1343.5,756.0 1344.3,761.4 1344.3,706.2 1345.1,690.5 1345.1,756.0 1345.9,750.9 1345.9,693.5 1346.7,699.7 1346.7,756.0 1347.5,724.4 1347.5,669.3 1348.3,690.5 1348.3,741.4 1349.1,767.0 1349.1,693.5 1349.9,671.7 1349.9,772.9 1350.7,761.4 1350.7,720.5 1351.5,706.2 1351.5,741.4 1352.3,746.0 1352.3,690.5 1353.1,716.7 1353.1,785.8 1353.9,724.4 1353.9,699.7 1354.7,706.2 1354.7,767.0 1355.5,728.4 1355.5,687.6 1356.3,690.5 1356.3,750.9 1357.1,732.5 1357.1,699.7 1357.9,713.1 1357.9,736.9 1358.7,741.4 1358.7,662.3 1359.5,696.5 1359.5,736.9 1360.3,728.4 1360.3,671.7 1361.1,682.1 1361.1,720.5 1361.9,741.4 1361.9,690.5 1362.7,690.5 1362.7,761.4 1363.5,756.0 1363.5,684.8 1364.3,699.7 1364.3,741.4 1365.1,732.5 1365.1,699.7 1365.9,684.8 1365.9,746.0 1366.7,741.4 1366.7,676.8 1367.5,690.5 1367.5,736.9 1368.3,772.9 1368.3,687.6 1369.1,702.9 1369.1,720.5 1369.9,716.7 1369.9,750.9 1370.7,767.0 1370.7,713.1 1371.5,702.9 1371.5,792.8 1372.3,746.0 1372.3,676.8 1373.1,664.6 1373.1,736.9 1373.9,736.9 1373.9,716.7 1374.7,696.5 1374.7,741.4 1375.5,736.9 1375.5,702.9 1376.3,699.7 1376.3,756.0 1377.1,750.9 1377.1,699.7 1377.9,679.4 1377.9,767.0 1378.7,785.8 1378.7,709.6 1379.5,696.5 1379.5,728.4 1380.3,746.0 1380.3,690.5 1381.1,682.1 1381.1,713.1 1381.9,736.9 1381.9,679.4 1382.7,696.5 1382.7,736.9 1383.5,741.4 1383.5,693.5 1384.3,684.8 1384.3,767.0 1385.1,716.7 1385.1,682.1 1385.9,696.5 1385.9,720.5 1386.7,728.4 1386.7,682.1 1387.5,699.7 1387.5,746.0 1388.3,724.4 1388.3,706.2 1389.1,687.6 1389.1,756.0 1389.9,728.4 1389.9,702.9 1390.7,709.6 1390.7,728.4 1391.5,732.5 1391.5,679.4 1392.3,702.9 1392.3,741.4 1393.1,741.4 1393.1,679.4 1393.9,696.5 1393.9,746.0 1394.7,767.0 1394.7,676.8 1395.5,674.2 1395.5,728.4 1396.3,750.9 1396.3,687.6 1397.1,687.6 1397.1,772.9 1397.9,746.0 1397.9,693.5 1398.7,716.7 1398.7,736.9 1399.5,741.4 1399.5,690.5 1400.3,724.4 1400.3,756.0 1401.1,720.5 1401.1,690.5 1401.9,671.7 1401.9,750.9 1402.7,756.0 1402.7,674.2 1403.5,709.6 1403.5,772.9 1404.3,767.0 1404.3,693.5 1405.1,682.1 1405.1,746.0 1405.9,736.9 1405.9,684.8 1406.7,687.6 1406.7,772.9 1407.5,750.9 1407.5,676.8 1408.3,679.4 1408.3,716.7 1409.1,693.5 1409.1,746.0 1409.9,767.0 1409.9,706.2 1410.7,702.9 1410.7,756.0 1411.5,741.4 1411.5,696.5 1412.3,696.5 1412.3,750.9 1413.1,772.9 1413.1,699.7 1413.9,702.9 1413.9,779.2 1414.7,750.9 1414.7,679.4 1415.5,684.8 1415.5,779.2 1416.3,728.4 1416.3,724.4" fill="none" stroke="#ff0000" stroke-width="3.4" stroke-linejoin="round"/>
<polyline points="343.1,64.1 343.1,71.0 344.3,69.6 344.3,76.4 345.1,76.3 345.1,79.5 345.9,80.4 345.9,85.8 346.7,84.5 346.7,89.5 347.5,87.6 347.5,92.0 348.3,92.3 348.3,96.2 349.1,95.9 349.1,98.5 349.9,97.7 349.9,102.3 350.7,101.2 350.7,105.1 351.5,103.0 351.5,107.6 352.3,107.5 352.3,111.0 353.1,109.9 353.1,112.0 353.9,111.5 353.9,114.5 354.7,113.9 354.7,117.9 355.5,118.1 355.5,115.6 356.3,119.6 356.3,121.6 357.1,122.3 357.1,119.6 357.9,121.2 357.9,127.1 358.7,127.9 358.7,123.3 359.5,126.0 359.5,129.6 360.3,127.8 360.3,131.8 361.1,132.6 361.1,129.6 361.9,132.0 361.9,134.5 362.7,133.5 362.7,137.5 363.5,135.7 363.5,139.5 364.3,140.7 364.3,138.3 365.1,140.2 365.1,142.8 365.9,140.2 365.9,146.6 366.7,145.4 366.7,144.1 367.5,144.9 367.5,147.4 368.3,146.3 368.3,150.3 369.1,149.0 369.1,152.1 369.9,151.1 369.9,153.8 370.7,152.2 370.7,156.3 371.5,158.0 371.5,153.6 372.3,155.9 372.3,160.4 373.1,161.1 373.1,155.1 373.9,158.5 373.9,161.7 374.7,159.9 374.7,164.3 375.5,164.4 375.5,167.1 376.3,169.2 376.3,164.3 377.1,165.9 377.1,171.8 377.9,172.4 377.9,169.2 378.7,170.5 378.7,174.6 379.5,174.6 379.5,171.2 380.3,173.8 380.3,179.2 381.1,179.8 381.1,175.7 381.9,177.5 381.9,181.8 382.7,177.6 382.7,186.4 383.5,185.9 383.5,182.2 384.3,182.2 384.3,184.7 385.1,184.2 385.1,187.9 385.9,185.2 385.9,192.3 386.7,191.1 386.7,186.8 387.5,189.9 387.5,194.1 388.3,195.2 388.3,189.7 389.1,192.9 389.1,197.5 389.9,196.2 389.9,199.6 390.7,201.3 390.7,195.8 391.5,197.4 391.5,202.6 392.3,204.8 392.3,199.3 393.1,201.5 393.1,206.9 393.9,207.3 393.9,204.6 394.7,207.4 394.7,211.2 395.5,210.2 395.5,207.2 396.3,205.3 396.3,214.8 397.1,212.8 397.1,210.7 397.9,212.7 397.9,217.5 398.7,217.8 398.7,213.4 399.5,216.6 399.5,220.6 400.3,219.5 400.3,215.9 401.1,219.6 401.1,223.4 401.9,221.9 401.9,225.8 402.7,222.8 402.7,228.9 403.5,228.3 403.5,224.3 404.3,225.8 404.3,230.8 405.1,233.5 405.1,223.1 405.9,230.1 405.9,235.9 406.7,236.3 406.7,229.8 407.5,232.4 407.5,237.8 408.3,238.2 408.3,233.0 409.1,237.0 409.1,241.5 409.9,242.3 409.9,237.5 410.7,238.5 410.7,241.7 411.5,241.2 411.5,246.0 412.3,246.9 412.3,239.3 413.1,242.2 413.1,246.8 413.9,244.7 413.9,250.5 414.7,250.4 414.7,245.9 415.5,246.3 415.5,253.7 416.3,253.9 416.3,249.3 417.1,250.8 417.1,256.4 417.9,259.0 417.9,253.2 418.7,254.2 418.7,259.2 419.5,260.1 419.5,257.4 420.3,257.0 420.3,264.4 421.1,264.1 421.1,261.2 421.9,261.4 421.9,265.8 422.7,264.3 422.7,268.8 423.5,269.1 423.5,262.4 424.3,267.1 424.3,275.0 425.1,272.0 425.1,266.7 425.9,268.2 425.9,272.5 426.7,275.0 426.7,268.1 427.5,270.4 427.5,275.4 428.3,278.8 428.3,270.9 429.1,274.5 429.1,280.8 429.9,282.9 429.9,272.9 430.7,276.8 430.7,285.3 431.5,284.9 431.5,277.5 432.3,281.6 432.3,286.7 433.1,287.4 433.1,280.5 433.9,283.5 433.9,287.6 434.7,285.6 434.7,291.3 435.5,291.4 435.5,285.0 436.3,288.6 436.3,296.2 437.1,296.5 437.1,288.0 437.9,293.9 437.9,297.4 438.7,297.6 438.7,293.8 439.5,295.8 439.5,299.9 440.3,302.2 440.3,293.2 441.1,292.1 441.1,302.4 441.9,302.8 441.9,297.4 442.7,301.7 442.7,307.5 443.5,306.8 443.5,301.6 444.3,303.8 444.3,308.7 445.1,310.1 445.1,305.5 445.9,305.3 445.9,313.4 446.7,317.8 446.7,304.5 447.5,307.6 447.5,313.9 448.3,318.0 448.3,308.7 449.1,310.9 449.1,313.7 449.9,313.8 449.9,323.8 450.7,321.8 450.7,317.2 451.5,316.8 451.5,321.7 452.3,321.9 452.3,319.7 453.1,317.3 453.1,323.1 453.9,325.1 453.9,320.8 454.7,320.9 454.7,330.1 455.5,330.1 455.5,321.3 456.3,322.6 456.3,333.1 457.1,334.5 457.1,327.1 457.9,326.1 457.9,336.8 458.7,335.4 458.7,329.9 459.5,329.1 459.5,339.5 460.3,341.1 460.3,328.4 461.1,329.1 461.1,342.2 461.9,342.0 461.9,334.6 462.7,336.7 462.7,345.4 463.5,345.4 463.5,335.3 464.3,337.9 464.3,339.8 465.1,336.9 465.1,349.2 465.9,350.4 465.9,337.0 466.7,339.3 466.7,347.5 467.5,345.5 467.5,350.9 468.3,353.2 468.3,347.6 469.1,346.4 469.1,351.7 469.9,346.6 469.9,358.9 470.7,357.4 470.7,347.9 471.5,347.7 471.5,360.4 472.3,362.6 472.3,353.5 473.1,353.5 473.1,359.0 473.9,363.2 473.9,349.1 474.7,355.8 474.7,363.7 475.5,365.5 475.5,356.3 476.3,356.5 476.3,367.9 477.1,365.7 477.1,359.9 477.9,362.2 477.9,369.5 478.7,373.1 478.7,362.4 479.5,365.4 479.5,372.0 480.3,374.1 480.3,366.1 481.1,366.6 481.1,377.1 481.9,376.5 481.9,369.0 482.7,369.0 482.7,379.8 483.5,378.7 483.5,369.9 484.3,372.4 484.3,378.4 485.1,381.1 485.1,372.5 485.9,375.1 485.9,383.1 486.7,384.8 486.7,376.8 487.5,377.1 487.5,389.2 488.3,384.7 488.3,378.3 489.1,383.3 489.1,389.8 489.9,387.1 489.9,377.0 490.7,378.8 490.7,394.2 491.5,395.0 491.5,379.4 492.3,385.4 492.3,396.3 493.1,393.0 493.1,378.3 493.9,384.9 493.9,396.0 494.7,400.6 494.7,389.1 495.5,386.4 495.5,399.3 496.3,400.9 496.3,392.8 497.1,394.2 497.1,412.1 497.9,401.2 497.9,393.3 498.7,393.4 498.7,404.9 499.5,409.3 499.5,393.5 500.3,397.1 500.3,409.0 501.1,405.4 501.1,401.1 501.9,402.1 501.9,411.0 502.7,410.8 502.7,403.5 503.5,404.4 503.5,412.9 504.3,419.8 504.3,404.4 505.1,403.8 505.1,414.3 505.9,419.0 505.9,405.9 506.7,405.7 506.7,418.3 507.5,419.2 507.5,407.1 508.3,408.0 508.3,418.9 509.1,419.3 509.1,412.6 509.9,413.3 509.9,427.9 510.7,425.8 510.7,417.4 511.5,412.9 511.5,427.2 512.3,431.2 512.3,420.4 513.1,415.6 513.1,430.8 513.9,432.2 513.9,422.9 514.7,430.0 514.7,413.4 515.5,420.4 515.5,430.1 516.3,442.8 516.3,417.0 517.1,423.0 517.1,436.7 517.9,435.9 517.9,428.8 518.7,427.5 518.7,439.0 519.5,436.0 519.5,423.5 520.3,427.3 520.3,440.9 521.1,440.9 521.1,431.0 521.9,429.3 521.9,446.6 522.7,441.9 522.7,431.0 523.5,436.2 523.5,445.8 524.3,444.8 524.3,433.3 525.1,436.4 525.1,451.0 525.9,445.7 525.9,436.9 526.7,441.0 526.7,450.3 527.5,445.7 527.5,437.2 528.3,432.7 528.3,456.1 529.1,457.2 529.1,443.6 529.9,437.2 529.9,450.0 530.7,444.3 530.7,460.8 531.5,458.0 531.5,441.2 532.3,444.8 532.3,459.9 533.1,463.4 533.1,450.7 533.9,450.5 533.9,458.6 534.7,462.3 534.7,449.1 535.5,447.7 535.5,462.8 536.3,466.9 536.3,453.0 537.1,454.1 537.1,469.9 537.9,466.8 537.9,456.5 538.7,457.3 538.7,469.1 539.5,468.1 539.5,457.8 540.3,450.8 540.3,473.2 541.1,479.2 541.1,455.4 541.9,464.0 541.9,475.0 542.7,480.3 542.7,466.9 543.5,467.7 543.5,479.7 544.3,471.9 544.3,462.6 545.1,461.4 545.1,478.4 545.9,486.0 545.9,460.1 546.7,470.1 546.7,481.1 547.5,471.4 547.5,492.9 548.3,486.4 548.3,468.5 549.1,473.1 549.1,484.4 549.9,485.0 549.9,476.0 550.7,473.5 550.7,493.9 551.5,492.2 551.5,479.8 552.3,474.4 552.3,486.3 553.1,496.6 553.1,472.6 553.9,475.0 553.9,498.8 554.7,497.9 554.7,475.1 555.5,470.3 555.5,485.5 556.3,485.5 556.3,489.1 557.1,498.8 557.1,479.0 557.9,469.4 557.9,500.9 558.7,502.0 558.7,485.5 559.5,487.3 559.5,495.9 560.3,504.8 560.3,486.5 561.1,486.2 561.1,503.0 561.9,505.2 561.9,487.2 562.7,491.8 562.7,506.8 563.5,487.8 563.5,529.3 564.3,506.0 564.3,490.1 565.1,492.1 565.1,516.4 565.9,506.7 565.9,493.6 566.7,492.2 566.7,512.2 567.5,513.5 567.5,498.5 568.3,492.9 568.3,513.6 569.1,515.4 569.1,488.5 569.9,491.7 569.9,506.8 570.7,501.8 570.7,514.5 571.5,504.0 571.5,525.8 572.3,525.9 572.3,513.1 573.1,518.8 573.1,494.9 573.9,502.7 573.9,526.2 574.7,537.5 574.7,505.9 575.5,507.6 575.5,533.6 576.3,533.7 576.3,510.3 577.1,506.6 577.1,528.5 577.9,525.5 577.9,508.9 578.7,510.6 578.7,528.8 579.5,532.1 579.5,518.5 580.3,513.5 580.3,525.9 581.1,537.1 581.1,513.1 581.9,515.3 581.9,533.2 582.7,528.0 582.7,512.1 583.5,520.2 583.5,528.9 584.3,522.7 584.3,537.5 585.1,539.8 585.1,516.3 585.9,514.1 585.9,538.5 586.7,539.3 586.7,524.2 587.5,518.3 587.5,539.4 588.3,545.4 588.3,527.5 589.1,518.4 589.1,543.9 589.9,548.6 589.9,508.4 590.7,511.7 590.7,542.7 591.5,544.3 591.5,521.6 592.3,533.8 592.3,554.4 593.1,560.4 593.1,524.8 593.9,526.1 593.9,558.7 594.7,549.2 594.7,534.0 595.5,532.7 595.5,554.0 596.3,566.1 596.3,535.5 597.1,530.2 597.1,550.3 597.9,551.9 597.9,526.4 598.7,529.1 598.7,557.8 599.5,561.2 599.5,529.1 600.3,533.1 600.3,563.9 601.1,551.5 601.1,538.7 601.9,539.5 601.9,562.3 602.7,565.2 602.7,532.0 603.5,543.3 603.5,559.1 604.3,567.1 604.3,537.6 605.1,544.9 605.1,550.3 605.9,551.1 605.9,566.4 606.7,563.8 606.7,538.4 607.5,534.4 607.5,562.1 608.3,574.2 608.3,543.7 609.1,538.7 609.1,569.5 609.9,574.4 609.9,543.0 610.7,546.1 610.7,565.1 611.5,572.6 611.5,544.6 612.3,550.9 612.3,577.7 613.1,561.8 613.1,553.4 613.9,556.7 613.9,571.9 614.7,577.9 614.7,552.6 615.5,558.5 615.5,578.0 616.3,575.1 616.3,561.1 617.1,561.2 617.1,577.2 617.9,569.4 617.9,550.5 618.7,560.4 618.7,589.0 619.5,581.4 619.5,556.3 620.3,559.7 620.3,575.4 621.1,580.6 621.1,559.8 621.9,559.8 621.9,587.0 622.7,595.2 622.7,554.0 623.5,559.1 623.5,587.2 624.3,590.6 624.3,556.5 625.1,564.4 625.1,584.1 625.9,585.2 625.9,571.0 626.7,563.6 626.7,594.4 627.5,586.4 627.5,544.7 628.3,566.4 628.3,604.4 629.1,586.6 629.1,563.8 629.9,562.0 629.9,600.7 630.7,598.3 630.7,562.9 631.5,561.2 631.5,590.2 632.3,596.0 632.3,573.3 633.1,570.4 633.1,599.8 633.9,596.2 633.9,568.6 634.7,557.9 634.7,591.6 635.5,603.8 635.5,574.5 636.3,575.5 636.3,597.6 637.1,595.2 637.1,571.6 637.9,583.9 637.9,601.4 638.7,601.5 638.7,572.6 639.5,571.7 639.5,601.6 640.3,609.4 640.3,567.9 641.1,573.7 641.1,609.5 641.9,599.2 641.9,576.8 642.7,575.8 642.7,613.8 643.5,607.0 643.5,592.1 644.3,581.0 644.3,618.2 645.1,615.4 645.1,585.4 645.9,603.3 645.9,614.0 646.7,623.0 646.7,573.0 647.5,588.8 647.5,621.5 648.3,621.6 648.3,591.2 649.1,587.8 649.1,620.2 649.9,620.2 649.9,587.8 650.7,591.3 650.7,621.8 651.5,613.0 651.5,590.1 652.3,580.3 652.3,628.1 653.1,623.4 653.1,585.7 653.9,596.2 653.9,628.3 654.7,613.2 654.7,585.7 655.5,586.9 655.5,616.1 656.3,620.6 656.3,592.6 657.1,597.5 657.1,636.9 657.9,631.8 657.9,585.8 658.7,605.2 658.7,620.7 659.5,627.0 659.5,585.9 660.3,595.2 660.3,622.4 661.1,615.0 661.1,596.4 661.9,596.4 661.9,640.8 662.7,635.6 662.7,608.1 663.5,599.0 663.5,628.9 664.3,646.6 664.3,594.1 665.1,581.7 665.1,632.3 665.9,639.3 665.9,606.8 666.7,601.6 666.7,637.5 667.5,632.4 667.5,611.0 668.3,604.3 668.3,632.5 669.1,622.8 669.1,601.7 669.9,616.8 669.9,639.5 670.7,632.6 670.7,605.7 671.5,596.7 671.5,636.1 672.3,631.0 672.3,601.8 673.1,603.1 673.1,631.0 673.9,639.8 673.9,591.9 674.7,612.6 674.7,649.2 675.5,627.8 675.5,600.6 676.3,612.7 676.3,636.3 677.1,618.5 677.1,657.5 677.9,632.9 677.9,605.8 678.7,614.2 678.7,647.4 679.5,631.3 679.5,611.4 680.3,620.2 680.3,647.5 681.1,651.5 681.1,605.9 681.9,617.2 681.9,655.6 682.7,659.9 682.7,618.7 683.5,611.5 683.5,660.0 684.3,655.8 684.3,626.5 685.1,621.8 685.1,649.7 685.9,638.5 685.9,606.0 686.7,617.3 686.7,651.8 687.5,649.8 687.5,617.3 688.3,617.3 688.3,666.9 689.1,658.1 689.1,614.4 689.9,620.4 689.9,646.0 690.7,648.0 690.7,623.5 691.5,613.0 691.5,660.4 692.3,644.2 692.3,617.4 693.1,625.1 693.1,654.1 693.9,658.3 693.9,603.5 694.7,616.0 694.7,677.0 695.5,662.7 695.5,622.0 696.3,623.6 696.3,638.8 697.1,650.2 697.1,620.5 697.9,625.2 697.9,660.6 698.7,660.7 698.7,613.1 699.5,635.3 699.5,656.4 700.3,672.2 700.3,622.1 701.1,638.9 701.1,665.2 701.9,667.6 701.9,620.6 702.7,617.6 702.7,674.8 703.5,665.3 703.5,630.3 704.3,630.3 704.3,650.4 705.1,646.5 705.1,630.3 705.9,622.2 705.9,665.4 706.7,660.9 706.7,623.8 707.5,628.7 707.5,652.5 708.3,663.2 708.3,630.3 709.1,630.3 709.1,682.8 709.9,667.8 709.9,627.0 710.7,635.5 710.7,658.9 711.5,675.1 711.5,617.7 712.3,613.3 712.3,667.9 713.1,672.7 713.1,625.5 713.9,630.4 713.9,670.3 714.7,688.5 714.7,635.6 715.5,633.8 715.5,659.0 716.3,663.4 716.3,614.8 717.1,639.2 717.1,659.0 717.9,656.9 717.9,637.4 718.7,639.2 718.7,668.1 719.5,680.5 719.5,654.8 720.3,644.8 720.3,675.4 721.1,697.5 721.1,650.7 721.9,633.9 721.9,700.7 722.7,673.0 722.7,633.9 723.5,639.3 723.5,665.9 724.3,663.6 724.3,637.5 725.1,646.8 725.1,678.1 725.9,697.7 725.9,652.9 726.7,668.3 726.7,630.6 727.5,652.9 727.5,670.7 728.3,673.1 728.3,632.3 729.1,643.1 729.1,670.7 729.9,670.7 729.9,635.8 730.7,655.0 730.7,691.9 731.5,686.2 731.5,639.4 732.3,650.9 732.3,678.2 733.1,686.3 733.1,663.8 733.9,673.2 733.9,641.2 734.7,627.3 734.7,675.7 735.5,670.8 735.5,625.7 736.3,643.1 736.3,683.6 737.1,698.1 737.1,629.0 737.9,645.0 737.9,678.4 738.7,663.8 738.7,639.4 739.5,637.6 739.5,698.1 740.3,714.7 740.3,643.2 741.1,649.0 741.1,686.5 741.9,675.9 741.9,639.5 742.7,647.0 742.7,692.2 743.5,686.5 743.5,649.0 744.3,639.5 744.3,695.2 745.1,675.9 745.1,651.0 745.9,645.1 745.9,695.2 746.7,671.0 746.7,649.0 747.5,655.2 747.5,689.4 748.3,678.5 748.3,635.9 749.1,673.5 749.1,704.7 749.9,695.3 749.9,653.1 750.7,661.7 750.7,715.0 751.5,676.0 751.5,651.1 752.3,645.2 752.3,695.3 753.1,681.2 753.1,649.1 753.9,673.5 753.9,695.4 754.7,676.1 754.7,645.2 755.5,657.4 755.5,711.6 756.3,681.3 756.3,664.1 757.1,645.2 757.1,689.6 757.9,701.6 757.9,651.1 758.7,657.4 758.7,708.2 759.5,689.6 759.5,649.1 760.3,641.4 760.3,704.9 761.1,686.8 761.1,647.2 761.9,643.3 761.9,695.5 762.7,695.5 762.7,643.3 763.5,659.6 763.5,684.1 764.3,637.8 764.3,748.6 765.1,686.8 765.1,639.6 765.9,639.6 765.9,701.8 766.7,698.6 766.7,649.2 767.5,636.0 767.5,695.6 768.3,681.4 768.3,649.2 769.1,641.5 769.1,705.1 769.9,689.7 769.9,655.4 770.7,637.8 770.7,692.6 771.5,705.1 771.5,668.8 772.3,643.3 772.3,701.9 773.1,684.2 773.1,673.7 773.9,692.7 773.9,645.3 774.7,666.5 774.7,711.9 775.5,698.8 775.5,655.4 776.3,666.5 776.3,719.2 777.1,701.9 777.1,649.2 777.9,659.7 777.9,687.0 778.7,689.8 778.7,666.5 779.5,664.2 779.5,715.6 780.3,715.6 780.3,666.5 781.1,647.2 781.1,695.7 781.9,708.6 781.9,671.3 782.7,681.5 782.7,754.1 783.5,687.0 783.5,657.6 784.3,671.3 784.3,727.0 785.1,719.3 785.1,655.4 785.9,655.4 785.9,702.0 786.7,698.9 786.7,664.3 787.5,643.4 787.5,702.0 788.3,668.9 788.3,735.4 789.1,702.1 789.1,668.9 789.9,657.6 789.9,695.8 790.7,715.7 790.7,666.6 791.5,659.8 791.5,702.1 792.3,708.7 792.3,669.0 793.1,673.9 793.1,708.7 793.9,727.2 793.9,673.9 794.7,673.9 794.7,695.9 795.5,692.9 795.5,666.6 796.3,666.6 796.3,699.0 797.1,702.1 797.1,664.3 797.9,664.3 797.9,712.2 798.7,715.8 798.7,647.3 799.5,643.4 799.5,708.8 800.3,708.8 800.3,653.4 801.1,657.6 801.1,695.9 801.9,679.0 801.9,715.8 802.7,692.9 802.7,669.0 803.5,657.6 803.5,695.9 804.3,699.0 804.3,664.3 805.1,676.4 805.1,744.7 805.9,699.0 805.9,651.3 806.7,655.5 806.7,705.5 807.5,708.8 807.5,662.1 808.3,662.1 808.3,708.8 809.1,699.1 809.1,671.5 809.9,681.7 809.9,708.9 810.7,699.1 810.7,655.5 811.5,662.1 811.5,705.5 812.3,723.4 812.3,681.7 813.1,664.4 813.1,702.3 813.9,687.2 813.9,666.7 814.7,653.4 814.7,696.0 815.5,684.4 815.5,715.9 816.3,735.8 816.3,653.4 817.1,639.7 817.1,723.5 817.9,702.3 817.9,657.7 818.7,679.1 818.7,712.4 819.5,723.5 819.5,653.4 820.3,666.7 820.3,708.9 821.1,696.0 821.1,653.4 821.9,674.0 821.9,727.5 822.7,727.5 822.7,671.5 823.5,662.1 823.5,727.5 824.3,719.7 824.3,664.4 825.1,664.4 825.1,709.0 825.9,705.6 825.9,659.9 826.7,671.5 826.7,719.7 827.5,709.0 827.5,655.5 828.3,645.4 828.3,716.0 829.1,744.9 829.1,671.5 829.9,671.5 829.9,723.6 830.7,716.1 830.7,669.1 831.5,679.1 831.5,723.6 832.3,705.6 832.3,669.1 833.1,669.1 833.1,699.2 833.9,727.6 833.9,669.1 834.7,664.4 834.7,719.8 835.5,709.0 835.5,674.0 836.3,679.1 836.3,745.0 837.1,699.2 837.1,669.1 837.9,676.5 837.9,745.0 838.7,712.5 838.7,664.4 839.5,666.7 839.5,699.2 840.3,696.1 840.3,659.9 841.1,671.5 841.1,716.1 841.9,727.6 841.9,649.3 842.7,671.5 842.7,736.0 843.5,712.5 843.5,669.1 844.3,684.5 844.3,709.1 845.1,719.8 845.1,664.4 845.9,664.4 845.9,723.7 846.7,712.5 846.7,671.5 847.5,657.7 847.5,716.1 848.3,731.8 848.3,659.9 849.1,653.5 849.1,736.0 849.9,705.7 849.9,687.3 850.7,690.2 850.7,719.9 851.5,712.6 851.5,666.8 852.3,676.6 852.3,702.4 853.1,699.2 853.1,664.4 853.9,671.6 853.9,716.2 854.7,716.2 854.7,666.8 855.5,659.9 855.5,712.6 856.3,705.7 856.3,681.8 857.1,684.6 857.1,723.7 857.9,731.8 857.9,669.1 858.7,662.2 858.7,723.7 859.5,709.1 859.5,664.4 860.3,666.8 860.3,702.5 861.1,731.8 861.1,649.4 861.9,669.1 861.9,716.2 862.7,712.6 862.7,687.4 863.5,693.2 863.5,719.9 864.3,709.1 864.3,676.6 865.1,649.4 865.1,712.6 865.9,719.9 865.9,696.2 866.7,731.9 866.7,645.4 867.5,657.7 867.5,716.2 868.3,709.1 868.3,681.9 869.1,693.2 869.1,727.7 869.9,731.9 869.9,676.6 870.7,681.9 870.7,723.8 871.5,705.8 871.5,679.2 872.3,687.4 872.3,716.2 873.1,709.1 873.1,679.2 873.9,679.2 873.9,716.2 874.7,712.6 874.7,693.2 875.5,690.3 875.5,727.8 876.3,745.3 876.3,674.1 877.1,674.1 877.1,709.2 877.9,731.9 877.9,679.2 878.7,671.6 878.7,736.2 879.5,709.2 879.5,674.1 880.3,669.2 880.3,731.9 881.1,736.2 881.1,679.2 881.9,684.6 881.9,723.8 882.7,709.2 882.7,681.9 883.5,687.4 883.5,736.2 884.3,720.0 884.3,671.6 885.1,666.8 885.1,716.3 885.9,727.8 885.9,679.2 886.7,669.2 886.7,712.7 887.5,720.0 887.5,679.2 888.3,664.5 888.3,705.8 889.1,687.4 889.1,727.8 889.9,745.3 889.9,687.4 890.7,687.4 890.7,740.7 891.5,712.7 891.5,681.9 892.3,659.9 892.3,745.3 893.1,736.2 893.1,671.6 893.9,676.6 893.9,702.5 894.7,681.9 894.7,732.0 895.5,736.2 895.5,687.4 896.3,687.4 896.3,723.8 897.1,723.8 897.1,659.9 897.9,684.6 897.9,720.0 898.7,716.3 898.7,664.5 899.5,671.6 899.5,736.2 900.3,705.8 900.3,671.6 901.1,690.3 901.1,727.8 901.9,760.5 901.9,679.2 902.7,669.2 902.7,723.9 903.5,723.9 903.5,671.6 904.3,657.8 904.3,709.2 905.1,709.2 905.1,681.9 905.9,657.8 905.9,732.0 906.7,750.2 906.7,687.4 907.5,684.6 907.5,723.9 908.3,720.0 908.3,684.6 909.1,679.2 909.1,740.7 909.9,736.3 909.9,671.6 910.7,687.4 910.7,723.9 911.5,727.9 911.5,674.1 912.3,679.2 912.3,760.6 913.1,727.9 913.1,674.1 913.9,671.6 913.9,716.3 914.7,681.9 914.7,755.3 915.5,716.3 915.5,679.3 916.3,679.3 916.3,740.7 917.1,727.9 917.1,690.3 917.9,666.8 917.9,750.2 918.7,732.0 918.7,671.6 919.5,676.7 919.5,727.9 920.3,705.9 920.3,679.3 921.1,671.6 921.1,716.3 921.9,736.3 921.9,693.3 922.7,666.8 922.7,740.8 923.5,736.3 923.5,660.0 924.3,651.4 924.3,740.8 925.1,732.0 925.1,690.3 925.9,662.2 925.9,740.8 926.7,736.3 926.7,655.6 927.5,679.3 927.5,720.1 928.3,727.9 928.3,687.4 929.1,690.3 929.1,712.7 929.9,732.0 929.9,690.3 930.7,684.7 930.7,720.1 931.5,755.3 931.5,669.2 932.3,676.7 932.3,732.0 933.1,727.9 933.1,647.4 933.9,657.8 933.9,727.9 934.7,736.3 934.7,696.3 935.5,693.3 935.5,736.3 936.3,732.0 936.3,679.3 937.1,653.5 937.1,712.7 937.9,720.1 937.9,693.3 938.7,679.3 938.7,712.7 939.5,679.3 939.5,778.2 940.3,723.9 940.3,662.2 941.1,679.3 941.1,723.9 941.9,712.8 941.9,669.2 942.7,662.2 942.7,716.4 943.5,723.9 943.5,664.5 944.3,684.7 944.3,736.3 945.1,709.3 945.1,676.7 945.9,649.4 945.9,720.1 946.7,740.8 946.7,671.6 947.5,676.7 947.5,712.8 948.3,740.8 948.3,674.1 949.1,681.9 949.1,716.4 949.9,740.8 949.9,681.9 950.7,655.6 950.7,712.8 951.5,736.3 951.5,679.3 952.3,687.5 952.3,723.9 953.1,745.5 953.1,671.6 953.9,684.7 953.9,712.8 954.7,720.1 954.7,674.1 955.5,679.3 955.5,732.1 956.3,709.3 956.3,664.5 957.1,679.3 957.1,736.4 957.9,727.9 957.9,684.7 958.7,684.7 958.7,716.4 959.5,720.1 959.5,690.3 960.3,671.6 960.3,720.1 961.1,745.5 961.1,681.9 961.9,676.7 961.9,720.1 962.7,750.3 962.7,671.6 963.5,690.3 963.5,716.4 964.3,720.1 964.3,681.9 965.1,679.3 965.1,705.9 965.9,716.4 965.9,674.1 966.7,676.7 966.7,745.5 967.5,732.1 967.5,674.1 968.3,679.3 968.3,766.3 969.1,750.3 969.1,666.8 969.9,679.3 969.9,720.1 970.7,727.9 970.7,684.7 971.5,660.0 971.5,727.9 972.3,732.1 972.3,662.2 973.1,676.7 973.1,702.6 973.9,724.0 973.9,666.8 974.7,687.5 974.7,736.4 975.5,736.4 975.5,687.5 976.3,687.5 976.3,702.6 977.1,676.7 977.1,750.3 977.9,724.0 977.9,664.5 978.7,681.9 978.7,724.0 979.5,732.1 979.5,690.3 980.3,684.7 980.3,745.5 981.1,712.8 981.1,674.1 981.9,664.5 981.9,740.8 982.7,736.4 982.7,690.3 983.5,674.1 983.5,745.5 984.3,750.3 984.3,681.9 985.1,684.7 985.1,705.9 985.9,679.3 985.9,755.4 986.7,720.1 986.7,666.8 987.5,690.3 987.5,760.7 988.3,712.8 988.3,684.7 989.1,671.6 989.1,702.6 989.9,690.3 989.9,732.1 990.7,720.1 990.7,676.7 991.5,679.3 991.5,728.0 992.3,750.3 992.3,687.5 993.1,681.9 993.1,736.4 993.9,728.0 993.9,676.7 994.7,681.9 994.7,760.7 995.5,728.0 995.5,684.7 996.3,681.9 996.3,728.0 997.1,784.9 997.1,660.0 997.9,674.1 997.9,716.4 998.7,705.9 998.7,755.4 999.5,724.0 999.5,690.3 1000.3,687.5 1000.3,732.1 1001.1,750.4 1001.1,682.0 1001.9,696.3 1001.9,720.1 1002.7,690.3 1002.7,755.4 1003.5,728.0 1003.5,693.3 1004.3,684.7 1004.3,755.4 1005.1,728.0 1005.1,676.7 1005.9,690.4 1005.9,760.7 1006.7,709.3 1006.7,676.7 1007.5,679.3 1007.5,728.0 1008.3,745.5 1008.3,666.8 1009.1,671.6 1009.1,760.7 1009.9,740.9 1009.9,674.1 1010.7,702.6 1010.7,745.5 1011.5,716.4 1011.5,676.7 1012.3,687.5 1012.3,745.5 1013.1,736.4 1013.1,687.5 1013.9,679.3 1013.9,720.1 1014.7,702.6 1014.7,676.7 1015.5,687.5 1015.5,724.0 1016.3,728.0 1016.3,666.8 1017.1,687.5 1017.1,755.4 1017.9,709.3 1017.9,690.4 1018.7,687.5 1018.7,720.1 1019.5,732.1 1019.5,696.3 1020.3,702.6 1020.3,676.7 1021.1,684.7 1021.1,712.8 1021.9,736.4 1021.9,679.3 1022.7,671.7 1022.7,740.9 1023.5,720.1 1023.5,693.3 1024.3,679.3 1024.3,745.5 1025.1,745.5 1025.1,676.7 1025.9,705.9 1025.9,750.4 1026.7,732.1 1026.7,682.0 1027.5,687.5 1027.5,750.4 1028.3,728.0 1028.3,679.3 1029.1,679.3 1029.1,728.0 1029.9,736.4 1029.9,682.0 1030.7,671.7 1030.7,724.0 1031.5,720.1 1031.5,705.9 1032.3,679.3 1032.3,736.4 1033.1,720.1 1033.1,687.5 1033.9,682.0 1033.9,740.9 1034.7,728.0 1034.7,684.7 1035.5,682.0 1035.5,720.1 1036.3,740.9 1036.3,682.0 1037.1,671.7 1037.1,760.8 1037.9,716.4 1037.9,682.0 1038.7,669.2 1038.7,724.0 1039.5,724.0 1039.5,690.4 1040.3,679.3 1040.3,720.1 1041.1,736.4 1041.1,690.4 1041.9,712.8 1041.9,666.8 1042.7,676.7 1042.7,709.3 1043.5,693.3 1043.5,732.1 1044.3,745.5 1044.3,702.6 1045.1,716.4 1045.1,666.8 1045.9,679.3 1045.9,709.3 1046.7,709.3 1046.7,684.7 1047.5,674.1 1047.5,720.1 1048.3,724.0 1048.3,687.5 1049.1,690.4 1049.1,724.0 1049.9,716.4 1049.9,666.8 1050.7,671.7 1050.7,745.5 1051.5,728.0 1051.5,669.2 1052.3,679.3 1052.3,736.4 1053.1,724.0 1053.1,684.7 1053.9,674.1 1053.9,728.0 1054.7,720.1 1054.7,684.7 1055.5,687.5 1055.5,736.4 1056.3,716.4 1056.3,684.7 1057.1,674.1 1057.1,720.1 1057.9,745.5 1057.9,693.3 1058.7,676.7 1058.7,732.1 1059.5,728.0 1059.5,676.7 1060.3,705.9 1060.3,740.9 1061.1,736.4 1061.1,696.3 1061.9,682.0 1061.9,732.1 1062.7,716.4 1062.7,684.7 1063.5,696.3 1063.5,728.0 1064.3,705.9 1064.3,684.7 1065.1,679.3 1065.1,705.9 1065.9,720.1 1065.9,682.0 1066.7,674.1 1066.7,745.5 1067.5,740.9 1067.5,690.4 1068.3,705.9 1068.3,724.0 1069.1,750.4 1069.1,664.5 1069.9,664.5 1069.9,724.0 1070.7,745.5 1070.7,679.3 1071.5,696.3 1071.5,728.0 1072.3,755.5 1072.3,674.1 1073.1,676.7 1073.1,720.1 1073.9,712.8 1073.9,671.7 1074.7,679.3 1074.7,716.4 1075.5,745.5 1075.5,671.7 1076.3,693.3 1076.3,755.5 1077.1,724.0 1077.1,671.7 1077.9,674.1 1077.9,736.4 1078.7,724.0 1078.7,666.8 1079.5,693.3 1079.5,745.5 1080.3,745.5 1080.3,666.8 1081.1,664.5 1081.1,709.3 1081.9,712.8 1081.9,684.7 1082.7,684.7 1082.7,732.1 1083.5,736.4 1083.5,684.7 1084.3,682.0 1084.3,732.1 1085.1,724.0 1085.1,687.5 1085.9,674.1 1085.9,720.1 1086.7,740.9 1086.7,676.7 1087.5,669.2 1087.5,760.8 1088.3,720.1 1088.3,684.7 1089.1,705.9 1089.1,732.1 1089.9,724.0 1089.9,669.2 1090.7,682.0 1090.7,709.3 1091.5,720.1 1091.5,682.0 1092.3,690.4 1092.3,745.5 1093.1,720.1 1093.1,669.2 1093.9,671.7 1093.9,732.1 1094.7,724.0 1094.7,682.0 1095.5,662.2 1095.5,732.1 1096.3,728.0 1096.3,696.3 1097.1,702.6 1097.1,760.8 1097.9,696.3 1097.9,666.8 1098.7,699.4 1098.7,750.4 1099.5,720.1 1099.5,682.0 1100.3,690.4 1100.3,732.1 1101.1,736.4 1101.1,696.3 1101.9,682.0 1101.9,732.1 1102.7,724.0 1102.7,690.4 1103.5,664.5 1103.5,724.0 1104.3,724.0 1104.3,679.3 1105.1,696.3 1105.1,732.1 1105.9,720.1 1105.9,693.3 1106.7,693.3 1106.7,712.8 1107.5,740.9 1107.5,662.2 1108.3,662.2 1108.3,736.4 1109.1,705.9 1109.1,666.8 1109.9,676.7 1109.9,724.0 1110.7,728.0 1110.7,674.1 1111.5,682.0 1111.5,760.8 1112.3,755.5 1112.3,690.4 1113.1,684.7 1113.1,724.0 1113.9,720.1 1113.9,669.2 1114.7,696.3 1114.7,720.2 1115.5,728.0 1115.5,699.4 1116.3,720.2 1116.3,669.2 1117.1,676.7 1117.1,760.8 1117.9,728.0 1117.9,693.3 1118.7,687.5 1118.7,724.0 1119.5,736.4 1119.5,676.7 1120.3,676.7 1120.3,702.6 1121.1,682.0 1121.1,745.5 1121.9,724.0 1121.9,674.1 1122.7,671.7 1122.7,736.4 1123.5,755.5 1123.5,676.7 1124.3,684.7 1124.3,724.0 1125.1,736.4 1125.1,690.4 1125.9,690.4 1125.9,720.2 1126.7,745.5 1126.7,679.3 1127.5,666.8 1127.5,745.5 1128.3,732.1 1128.3,669.2 1129.1,687.5 1129.1,720.2 1129.9,712.8 1129.9,687.5 1130.7,693.3 1130.7,760.8 1131.5,772.2 1131.5,674.1 1132.3,657.8 1132.3,724.0 1133.1,682.0 1133.1,772.2 1133.9,716.4 1133.9,705.9 1134.7,724.0 1134.7,669.2 1135.5,696.3 1135.5,728.0 1136.3,724.0 1136.3,671.7 1137.1,662.2 1137.1,716.4 1137.9,728.0 1137.9,671.7 1138.7,669.2 1138.7,720.2 1139.5,736.4 1139.5,696.3 1140.3,693.3 1140.3,745.6 1141.1,720.2 1141.1,674.1 1141.9,684.7 1141.9,736.4 1142.7,736.4 1142.7,657.8 1143.5,682.0 1143.5,720.2 1144.3,724.0 1144.3,684.7 1145.1,676.7 1145.1,740.9 1145.9,732.1 1145.9,676.7 1146.7,687.5 1146.7,709.3 1147.5,716.4 1147.5,682.0 1148.3,682.0 1148.3,724.0 1149.1,740.9 1149.1,699.4 1149.9,696.3 1149.9,720.2 1150.7,716.4 1150.7,679.3 1151.5,682.0 1151.5,732.1 1152.3,745.6 1152.3,705.9 1153.1,728.0 1153.1,682.0 1153.9,699.4 1153.9,728.0 1154.7,745.6 1154.7,676.7 1155.5,674.1 1155.5,709.3 1156.3,712.8 1156.3,687.5 1157.1,682.0 1157.1,716.4 1157.9,693.3 1157.9,740.9 1158.7,720.2 1158.7,687.5 1159.5,687.5 1159.5,745.6 1160.3,705.9 1160.3,671.7 1161.1,690.4 1161.1,750.4 1161.9,750.4 1161.9,674.1 1162.7,687.5 1162.7,724.0 1163.5,716.4 1163.5,676.7 1164.3,676.7 1164.3,728.0 1165.1,732.1 1165.1,676.7 1165.9,662.2 1165.9,740.9 1166.7,716.4 1166.7,666.8 1167.5,684.7 1167.5,716.4 1168.3,705.9 1168.3,745.6 1169.1,724.0 1169.1,709.3 1169.9,696.3 1169.9,724.0 1170.7,745.6 1170.7,693.3 1171.5,666.8 1171.5,728.0 1172.3,740.9 1172.3,676.7 1173.1,666.8 1173.1,732.1 1173.9,705.9 1173.9,687.5 1174.7,679.3 1174.7,716.4 1175.5,720.2 1175.5,684.7 1176.3,666.8 1176.3,705.9 1177.1,684.7 1177.1,732.1 1177.9,709.3 1177.9,669.2 1178.7,676.7 1178.7,732.1 1179.5,736.4 1179.5,676.7 1180.3,657.8 1180.3,699.4 1181.1,682.0 1181.1,720.2 1181.9,716.4 1181.9,682.0 1182.7,679.3 1182.7,716.4 1183.5,705.9 1183.5,664.5 1184.3,690.4 1184.3,740.9 1185.1,728.0 1185.1,664.5 1185.9,693.3 1185.9,724.0 1186.7,750.4 1186.7,679.3 1187.5,684.7 1187.5,724.0 1188.3,716.4 1188.3,649.4 1189.1,671.7 1189.1,740.9 1189.9,745.6 1189.9,702.6 1190.7,720.2 1190.7,684.7 1191.5,676.7 1191.5,732.1 1192.3,750.4 1192.3,682.0 1193.1,687.5 1193.1,724.0 1193.9,728.0 1193.9,671.7 1194.7,676.7 1194.7,720.2 1195.5,728.0 1195.5,676.7 1196.3,699.4 1196.3,716.4 1197.1,712.8 1197.1,657.8 1197.9,696.3 1197.9,736.4 1198.7,736.4 1198.7,682.0 1199.5,684.7 1199.5,755.5 1200.3,712.8 1200.3,662.2 1201.1,666.8 1201.1,736.4 1201.9,745.6 1201.9,684.7 1202.7,679.3 1202.7,740.9 1203.5,720.2 1203.5,676.7 1204.3,682.0 1204.3,716.4 1205.1,705.9 1205.1,674.1 1205.9,674.1 1205.9,712.8 1206.7,736.4 1206.7,657.8 1207.5,674.1 1207.5,728.0 1208.3,728.0 1208.3,674.1 1209.1,702.6 1209.1,720.2 1209.9,720.2 1209.9,669.2 1210.7,662.2 1210.7,720.2 1211.5,755.5 1211.5,674.1 1212.3,687.5 1212.3,724.0 1213.1,745.6 1213.1,669.2 1213.9,687.5 1213.9,732.1 1214.7,716.4 1214.7,669.2 1215.5,693.3 1215.5,736.4 1216.3,728.0 1216.3,666.8 1217.1,682.0 1217.1,736.4 1217.9,728.0 1217.9,684.7 1218.7,671.7 1218.7,750.4 1219.5,728.0 1219.5,684.7 1220.3,674.1 1220.3,709.3 1221.1,676.7 1221.1,750.4 1221.9,736.4 1221.9,674.1 1222.7,671.7 1222.7,724.0 1223.5,728.0 1223.5,682.0 1224.3,674.1 1224.3,720.2 1225.1,716.4 1225.1,684.7 1225.9,657.8 1225.9,745.6 1226.7,728.0 1226.7,684.7 1227.5,679.3 1227.5,724.0 1228.3,736.4 1228.3,679.3 1229.1,687.5 1229.1,716.4 1229.9,728.0 1229.9,664.5 1230.7,682.0 1230.7,724.0 1231.5,745.6 1231.5,690.4 1232.3,679.3 1232.3,724.0 1233.1,750.4 1233.1,693.3 1233.9,687.5 1233.9,736.4 1234.7,736.4 1234.7,676.7 1235.5,687.5 1235.5,712.8 1236.3,740.9 1236.3,669.2 1237.1,684.7 1237.1,724.0 1237.9,724.0 1237.9,674.1 1238.7,687.5 1238.7,732.1 1239.5,716.4 1239.5,690.4 1240.3,676.7 1240.3,766.4 1241.1,750.4 1241.1,682.0 1241.9,666.8 1241.9,728.0 1242.7,699.4 1242.7,684.7 1243.5,674.1 1243.5,724.0 1244.3,705.9 1244.3,791.9 1245.1,736.4 1245.1,637.9 1245.9,676.7 1245.9,728.0 1246.7,724.0 1246.7,674.1 1247.5,693.3 1247.5,724.0 1248.3,720.2 1248.3,702.6 1249.1,690.4 1249.1,728.0 1249.9,750.4 1249.9,676.7 1250.7,679.3 1250.7,732.1 1251.5,728.0 1251.5,687.5 1252.3,682.0 1252.3,720.2 1253.1,693.3 1253.1,750.4 1253.9,716.4 1253.9,687.5 1254.7,676.7 1254.7,745.6 1255.5,740.9 1255.5,669.2 1256.3,699.4 1256.3,745.6 1257.1,716.4 1257.1,674.1 1257.9,693.3 1257.9,736.4 1258.7,728.0 1258.7,662.2 1259.5,684.7 1259.5,736.4 1260.3,720.2 1260.3,682.0 1261.1,682.0 1261.1,720.2 1261.9,728.0 1261.9,687.5 1262.7,679.3 1262.7,728.0 1263.5,728.0 1263.5,671.7 1264.3,684.7 1264.3,724.0 1265.1,724.0 1265.1,684.7 1265.9,699.4 1265.9,740.9 1266.7,720.2 1266.7,679.3 1267.5,649.4 1267.5,736.4 1268.3,716.4 1268.3,676.7 1269.1,674.1 1269.1,728.0 1269.9,750.4 1269.9,679.3 1270.7,679.3 1270.7,736.4 1271.5,740.9 1271.5,684.7 1272.3,666.8 1272.3,724.0 1273.1,736.4 1273.1,676.7 1273.9,674.1 1273.9,720.2 1274.7,740.9 1274.7,693.3 1275.5,674.1 1275.5,736.4 1276.3,709.3 1276.3,664.5 1277.1,699.4 1277.1,728.0 1277.9,720.2 1277.9,696.3 1278.7,684.7 1278.7,732.1 1279.5,709.3 1279.5,690.4 1280.3,693.3 1280.3,728.0 1281.1,712.8 1281.1,669.2 1281.9,664.5 1281.9,712.8 1282.7,716.4 1282.7,690.4 1283.5,684.7 1283.5,724.0 1284.3,724.0 1284.3,679.3 1285.1,682.0 1285.1,755.5 1285.9,724.0 1285.9,687.5 1286.7,674.1 1286.7,736.4 1287.5,699.4 1287.5,674.1 1288.3,679.3 1288.3,702.6 1289.1,674.1 1289.1,750.4 1289.9,736.4 1289.9,684.7 1290.7,684.7 1290.7,724.0 1291.5,716.4 1291.5,676.7 1292.3,679.3 1292.3,732.1 1293.1,745.6 1293.1,690.4 1293.9,682.0 1293.9,716.4 1294.7,724.0 1294.7,679.3 1295.5,671.7 1295.5,724.0 1296.3,720.2 1296.3,687.5 1297.1,696.3 1297.1,716.4 1297.9,732.1 1297.9,682.0 1298.7,684.7 1298.7,728.0 1299.5,720.2 1299.5,693.3 1300.3,720.2 1300.3,651.4 1301.1,682.0 1301.1,740.9 1301.9,712.8 1301.9,693.3 1302.7,676.7 1302.7,732.1 1303.5,728.0 1303.5,693.3 1304.3,716.4 1304.3,669.2 1305.1,684.7 1305.1,712.8 1305.9,736.4 1305.9,669.2 1306.7,679.3 1306.7,750.4 1307.5,712.8 1307.5,679.3 1308.3,674.1 1308.3,732.1 1309.1,712.8 1309.1,682.0 1309.9,687.5 1309.9,720.2 1310.7,728.0 1310.7,690.4 1311.5,674.1 1311.5,724.0 1312.3,696.3 1312.3,755.5 1313.1,728.0 1313.1,679.3 1313.9,682.0 1313.9,699.4 1314.7,693.3 1314.7,732.1 1315.5,736.4 1315.5,657.8 1316.3,671.7 1316.3,728.0 1317.1,745.6 1317.1,674.1 1317.9,666.8 1317.9,750.4 1318.7,712.8 1318.7,682.0 1319.5,669.2 1319.5,728.0 1320.3,740.9 1320.3,666.8 1321.1,671.7 1321.1,712.8 1321.9,724.0 1321.9,693.3 1322.7,690.4 1322.7,724.0 1323.5,720.2 1323.5,669.2 1324.3,684.7 1324.3,736.4 1325.1,716.4 1325.1,674.1 1325.9,702.6 1325.9,728.0 1326.7,736.4 1326.7,690.4 1327.5,676.7 1327.5,724.0 1328.3,736.4 1328.3,687.5 1329.1,720.2 1329.1,653.5 1329.9,687.5 1329.9,724.0 1330.7,732.1 1330.7,671.7 1331.5,690.4 1331.5,732.1 1332.3,745.6 1332.3,679.3 1333.1,693.3 1333.1,712.8 1333.9,736.4 1333.9,684.7 1334.7,666.8 1334.7,712.8 1335.5,709.3 1335.5,671.7 1336.3,684.7 1336.3,740.9 1337.1,728.0 1337.1,671.7 1337.9,666.8 1337.9,724.0 1338.7,720.2 1338.7,709.3 1339.5,684.7 1339.5,750.4 1340.3,728.0 1340.3,696.3 1341.1,679.3 1341.1,750.4 1341.9,736.4 1341.9,669.2 1342.7,669.2 1342.7,772.2 1343.5,740.9 1343.5,669.2 1344.3,702.6 1344.3,736.4 1345.1,716.4 1345.1,676.7 1345.9,664.5 1345.9,724.0 1346.7,724.0 1346.7,669.2 1347.5,682.0 1347.5,740.9 1348.3,732.1 1348.3,676.7 1349.1,679.3 1349.1,720.2 1349.9,716.4 1349.9,682.0 1350.7,693.3 1350.7,732.1 1351.5,702.6 1351.5,687.5 1352.3,679.3 1352.3,736.4 1353.1,724.0 1353.1,682.0 1353.9,690.4 1353.9,709.3 1354.7,705.9 1354.7,669.2 1355.5,687.5 1355.5,740.9 1356.3,736.4 1356.3,693.3 1357.1,687.5 1357.1,724.0 1357.9,732.1 1357.9,679.3 1358.7,682.0 1358.7,732.1 1359.5,728.0 1359.5,690.4 1360.3,693.3 1360.3,716.4 1361.1,724.0 1361.1,671.7 1361.9,671.7 1361.9,724.0 1362.7,728.0 1362.7,693.3 1363.5,671.7 1363.5,720.2 1364.3,693.3 1364.3,766.4 1365.1,716.4 1365.1,682.0 1365.9,682.0 1365.9,740.9 1366.7,728.0 1366.7,684.7 1367.5,669.2 1367.5,728.0 1368.3,720.2 1368.3,696.3 1369.1,687.5 1369.1,709.3 1369.9,728.0 1369.9,679.3 1370.7,709.3 1370.7,740.9 1371.5,740.9 1371.5,679.3 1372.3,696.3 1372.3,732.1 1373.1,709.3 1373.1,679.3 1373.9,699.4 1373.9,745.6 1374.7,716.4 1374.7,682.0 1375.5,669.2 1375.5,778.4 1376.3,724.0 1376.3,687.5 1377.1,705.9 1377.1,728.0 1377.9,740.9 1377.9,690.4 1378.7,702.6 1378.7,728.0 1379.5,766.4 1379.5,687.5 1380.3,687.5 1380.3,716.4 1381.1,724.0 1381.1,676.7 1381.9,687.5 1381.9,740.9 1382.7,755.5 1382.7,693.3 1383.5,705.9 1383.5,679.3 1384.3,690.4 1384.3,732.1 1385.1,745.6 1385.1,682.0 1385.9,676.7 1385.9,736.4 1386.7,720.2 1386.7,679.3 1387.5,684.7 1387.5,732.1 1388.3,760.8 1388.3,671.7 1389.1,696.3 1389.1,732.1 1389.9,724.0 1389.9,687.5 1390.7,682.0 1390.7,724.0 1391.5,720.2 1391.5,690.4 1392.3,687.5 1392.3,732.1 1393.1,709.3 1393.1,687.5 1393.9,669.2 1393.9,728.0 1394.7,740.9 1394.7,702.6 1395.5,676.7 1395.5,785.0 1396.3,732.1 1396.3,682.0 1397.1,684.7 1397.1,720.2 1397.9,716.4 1397.9,690.4 1398.7,684.7 1398.7,732.1 1399.5,709.3 1399.5,674.1 1400.3,687.5 1400.3,724.0 1401.1,728.0 1401.1,669.2 1401.9,696.3 1401.9,745.6 1402.7,728.0 1402.7,696.3 1403.5,676.7 1403.5,750.4 1404.3,709.3 1404.3,687.5 1405.1,682.0 1405.1,745.6 1405.9,716.4 1405.9,682.0 1406.7,699.4 1406.7,745.6 1407.5,712.8 1407.5,669.2 1408.3,684.7 1408.3,712.8 1409.1,720.2 1409.1,682.0 1409.9,671.7 1409.9,750.4 1410.7,728.0 1410.7,682.0 1411.5,687.5 1411.5,736.4 1412.3,720.2 1412.3,687.5 1413.1,699.4 1413.1,671.7 1413.9,664.5 1413.9,724.0 1414.7,720.2 1414.7,693.3 1415.5,693.3 1415.5,702.6 1416.3,728.0 1416.3,666.8" fill="none" stroke="#0000ff" stroke-width="3.4" stroke-linejoin="round"/>
<polyline points="343.1,62.6 343.1,69.4 344.3,70.3 344.3,76.4 345.1,76.7 345.1,81.2 345.9,80.6 345.9,86.2 346.7,86.4 346.7,91.3 347.5,91.4 347.5,95.0 348.3,94.4 348.3,97.5 349.1,98.5 349.1,100.5 349.9,100.9 349.9,103.7 350.7,104.8 350.7,106.8 351.5,105.9 351.5,111.5 352.3,114.0 352.3,108.4 353.1,110.8 353.1,114.4 353.9,114.0 353.9,117.9 354.7,119.9 354.7,115.1 355.5,119.6 355.5,123.8 356.3,123.9 356.3,121.0 357.1,123.6 357.1,125.8 357.9,125.6 357.9,129.2 358.7,130.4 358.7,127.4 359.5,130.1 359.5,133.7 360.3,134.8 360.3,131.5 361.1,134.3 361.1,137.4 361.9,139.3 361.9,135.1 362.7,138.5 362.7,141.7 363.5,142.5 363.5,139.2 364.3,141.3 364.3,144.7 365.1,142.4 365.1,147.9 365.9,149.1 365.9,143.6 366.7,147.2 366.7,151.8 367.5,152.4 367.5,147.9 368.3,151.7 368.3,156.9 369.1,156.9 369.1,153.8 369.9,157.7 369.9,159.6 370.7,157.9 370.7,161.4 371.5,162.3 371.5,159.3 372.3,162.4 372.3,165.4 373.1,164.2 373.1,167.6 373.9,171.4 373.9,163.0 374.7,165.8 374.7,171.3 375.5,173.8 375.5,168.2 376.3,170.8 376.3,175.7 377.1,177.1 377.1,173.8 377.9,174.2 377.9,178.6 378.7,176.4 378.7,180.9 379.5,179.0 379.5,183.2 380.3,184.4 380.3,180.1 381.1,179.0 381.1,186.4 381.9,188.2 381.9,183.7 382.7,186.0 382.7,190.8 383.5,191.7 383.5,187.0 384.3,188.8 384.3,192.5 385.1,190.3 385.1,195.7 385.9,196.1 385.9,192.7 386.7,195.5 386.7,201.3 387.5,201.9 387.5,197.4 388.3,198.4 388.3,202.1 389.1,205.8 389.1,198.0 389.9,203.9 389.9,205.4 390.7,204.4 390.7,207.5 391.5,209.6 391.5,204.5 392.3,205.6 392.3,214.7 393.1,214.6 393.1,209.8 393.9,209.9 393.9,213.5 394.7,212.3 394.7,218.0 395.5,217.7 395.5,212.1 396.3,216.4 396.3,221.8 397.1,223.9 397.1,218.8 397.9,221.2 397.9,225.0 398.7,224.9 398.7,220.3 399.5,224.1 399.5,232.9 400.3,230.0 400.3,225.7 401.1,225.4 401.1,233.3 401.9,231.2 401.9,228.1 402.7,231.0 402.7,232.9 403.5,232.2 403.5,236.6 404.3,237.9 404.3,232.3 405.1,236.7 405.1,241.0 405.9,241.8 405.9,236.6 406.7,240.9 406.7,245.6 407.5,244.4 407.5,242.1 408.3,241.5 408.3,249.2 409.1,250.3 409.1,244.0 409.9,244.0 409.9,249.1 410.7,246.4 410.7,254.6 411.5,255.5 411.5,250.5 412.3,247.1 412.3,256.9 413.1,260.8 413.1,250.2 413.9,253.8 413.9,259.6 414.7,262.8 414.7,253.3 415.5,255.9 415.5,264.7 416.3,265.3 416.3,256.8 417.1,260.4 417.1,267.3 417.9,266.1 417.9,262.7 418.7,263.2 418.7,269.4 419.5,270.8 419.5,265.9 420.3,265.5 420.3,274.0 421.1,278.6 421.1,268.2 421.9,272.5 421.9,275.3 422.7,276.2 422.7,271.1 423.5,274.9 423.5,279.7 424.3,281.0 424.3,275.7 425.1,278.2 425.1,282.3 425.9,280.9 425.9,286.9 426.7,285.5 426.7,280.1 427.5,280.6 427.5,288.5 428.3,289.4 428.3,284.1 429.1,283.4 429.1,288.6 429.9,288.1 429.9,293.2 430.7,294.6 430.7,285.4 431.5,292.6 431.5,296.4 432.3,295.9 432.3,293.3 433.1,292.6 433.1,299.7 433.9,301.2 433.9,295.3 434.7,293.9 434.7,307.9 435.5,303.3 435.5,297.7 436.3,298.0 436.3,306.0 437.1,304.2 437.1,299.2 437.9,301.4 437.9,309.2 438.7,308.6 438.7,302.5 439.5,307.4 439.5,311.6 440.3,315.9 440.3,305.7 441.1,310.0 441.1,316.5 441.9,318.9 441.9,309.3 442.7,312.2 442.7,318.5 443.5,321.8 443.5,313.2 444.3,314.2 444.3,320.1 445.1,322.4 445.1,314.3 445.9,316.3 445.9,324.5 446.7,329.3 446.7,318.9 447.5,320.3 447.5,327.3 448.3,328.9 448.3,319.6 449.1,321.7 449.1,333.8 449.9,330.2 449.9,324.9 450.7,323.0 450.7,332.7 451.5,332.6 451.5,328.3 452.3,326.0 452.3,334.7 453.1,332.5 453.1,338.4 453.9,338.1 453.9,330.8 454.7,335.0 454.7,342.4 455.5,343.3 455.5,329.6 456.3,332.3 456.3,343.2 457.1,339.6 457.1,348.6 457.9,348.8 457.9,336.0 458.7,340.7 458.7,350.8 459.5,350.5 459.5,343.3 460.3,340.9 460.3,353.4 461.1,351.7 461.1,344.5 461.9,347.4 461.9,352.6 462.7,348.3 462.7,357.2 463.5,356.7 463.5,348.1 464.3,353.2 464.3,360.9 465.1,359.8 465.1,350.4 465.9,351.4 465.9,362.0 466.7,362.3 466.7,359.5 467.5,356.9 467.5,364.1 468.3,365.1 468.3,360.1 469.1,365.2 469.1,368.7 469.9,372.4 469.9,359.9 470.7,362.3 470.7,368.5 471.5,371.6 471.5,360.4 472.3,366.1 472.3,377.0 473.1,375.1 473.1,364.9 473.9,368.8 473.9,375.4 474.7,379.4 474.7,367.7 475.5,369.2 475.5,373.1 476.3,370.7 476.3,383.1 477.1,377.3 477.1,370.4 477.9,375.2 477.9,386.0 478.7,383.4 478.7,375.3 479.5,379.4 479.5,385.1 480.3,386.3 480.3,372.9 481.1,374.9 481.1,389.3 481.9,393.3 481.9,381.5 482.7,384.3 482.7,392.6 483.5,396.2 483.5,382.4 484.3,385.6 484.3,389.7 485.1,389.3 485.1,398.9 485.9,394.7 485.9,386.9 486.7,382.6 486.7,398.8 487.5,400.0 487.5,393.3 488.3,391.1 488.3,403.5 489.1,408.0 489.1,392.4 489.9,395.2 489.9,408.7 490.7,406.9 490.7,390.4 491.5,400.2 491.5,409.0 492.3,410.6 492.3,402.2 493.1,396.9 493.1,411.8 493.9,412.3 493.9,401.5 494.7,404.4 494.7,411.2 495.5,415.4 495.5,401.3 496.3,408.5 496.3,423.4 497.1,424.1 497.1,408.4 497.9,407.3 497.9,419.8 498.7,420.6 498.7,408.3 499.5,413.8 499.5,424.0 500.3,420.0 500.3,414.0 501.1,413.6 501.1,428.1 501.9,426.5 501.9,419.1 502.7,423.7 502.7,411.6 503.5,419.9 503.5,431.4 504.3,429.4 504.3,414.3 505.1,417.2 505.1,438.2 505.9,431.5 505.9,419.1 506.7,424.9 506.7,433.2 507.5,438.3 507.5,423.8 508.3,426.9 508.3,437.5 509.1,436.1 509.1,426.2 509.9,423.8 509.9,437.7 510.7,444.7 510.7,430.4 511.5,428.8 511.5,445.3 512.3,445.9 512.3,432.0 513.1,433.0 513.1,444.3 513.9,439.1 513.9,433.1 514.7,438.3 514.7,447.6 515.5,442.9 515.5,454.2 516.3,452.6 516.3,435.4 517.1,438.5 517.1,450.6 517.9,450.7 517.9,440.0 518.7,440.5 518.7,455.0 519.5,449.5 519.5,461.3 520.3,460.2 520.3,447.8 521.1,442.0 521.1,463.9 521.9,461.9 521.9,441.6 522.7,446.7 522.7,460.0 523.5,458.8 523.5,443.6 524.3,449.1 524.3,461.1 525.1,462.9 525.1,453.6 525.9,457.7 525.9,465.5 526.7,467.9 526.7,454.0 527.5,458.0 527.5,472.4 528.3,476.1 528.3,456.1 529.1,457.3 529.1,474.3 529.9,475.2 529.9,458.8 530.7,462.5 530.7,476.2 531.5,483.2 531.5,454.0 532.3,467.1 532.3,481.0 533.1,475.9 533.1,467.6 533.9,467.7 533.9,486.3 534.7,483.5 534.7,461.2 535.5,468.0 535.5,483.6 536.3,486.7 536.3,475.3 537.1,472.7 537.1,483.0 537.9,486.5 537.9,475.2 538.7,467.4 538.7,491.1 539.5,496.9 539.5,469.3 540.3,471.7 540.3,482.7 541.1,474.9 541.1,495.3 541.9,487.8 541.9,473.9 542.7,482.8 542.7,497.9 543.5,501.9 543.5,483.7 544.3,488.2 544.3,494.0 545.1,511.1 545.1,476.6 545.9,485.4 545.9,492.9 546.7,493.1 546.7,485.5 547.5,487.8 547.5,495.9 548.3,509.1 548.3,481.1 549.1,484.6 549.1,503.0 549.9,500.7 549.9,478.8 550.7,494.5 550.7,507.4 551.5,508.6 551.5,484.1 552.3,483.3 552.3,500.5 553.1,493.6 553.1,508.9 553.9,513.3 553.9,495.5 554.7,497.5 554.7,509.7 555.5,514.1 555.5,497.6 556.3,499.7 556.3,523.0 557.1,528.6 557.1,502.8 557.9,495.5 557.9,518.0 558.7,515.8 558.7,504.0 559.5,499.6 559.5,524.2 560.3,524.4 560.3,504.2 561.1,510.6 561.1,519.1 561.9,526.4 561.9,497.0 562.7,507.1 562.7,524.1 563.5,529.3 563.5,501.5 564.3,517.8 564.3,527.4 565.1,534.8 565.1,517.9 565.9,511.3 565.9,533.5 566.7,523.5 566.7,513.5 567.5,513.1 567.5,542.8 568.3,529.9 568.3,518.3 569.1,510.5 569.1,538.1 569.9,538.9 569.9,516.8 570.7,522.8 570.7,549.4 571.5,533.1 571.5,518.7 572.3,520.5 572.3,538.6 573.1,535.9 573.1,518.3 573.9,516.6 573.9,540.2 574.7,551.6 574.7,527.5 575.5,528.3 575.5,549.3 576.3,542.0 576.3,521.5 577.1,524.7 577.1,542.8 577.9,544.4 577.9,527.9 578.7,529.2 578.7,549.0 579.5,554.7 579.5,531.3 580.3,534.8 580.3,552.4 581.1,547.8 581.1,528.9 581.9,540.5 581.9,561.7 582.7,555.2 582.7,537.7 583.5,545.9 583.5,524.0 584.3,543.7 584.3,564.8 585.1,560.5 585.1,535.2 585.9,540.9 585.9,560.6 586.7,556.5 586.7,528.1 587.5,542.5 587.5,565.2 588.3,561.8 588.3,536.9 589.1,541.2 589.1,557.6 589.9,572.0 589.9,541.3 590.7,548.1 590.7,580.1 591.5,567.5 591.5,532.3 592.3,543.7 592.3,575.3 593.1,570.5 593.1,540.1 593.9,539.4 593.9,584.7 594.7,565.1 594.7,544.6 595.5,552.5 595.5,579.7 596.3,569.0 596.3,551.0 597.1,547.1 597.1,571.0 597.9,567.3 597.9,549.5 598.7,550.3 598.7,581.2 599.5,575.1 599.5,558.6 600.3,548.1 600.3,579.3 601.1,584.5 601.1,548.1 601.9,556.3 601.9,575.3 602.7,583.6 602.7,563.2 603.5,560.6 603.5,587.0 604.3,587.1 604.3,558.9 605.1,568.0 605.1,591.7 605.9,582.9 605.9,557.3 606.7,566.3 606.7,594.2 607.5,587.4 607.5,560.9 608.3,555.8 608.3,593.2 609.1,587.6 609.1,577.0 609.9,568.3 609.9,587.7 610.7,591.1 610.7,561.1 611.5,573.2 611.5,615.5 612.3,610.0 612.3,567.5 613.1,562.1 613.1,603.5 613.9,602.3 613.9,567.6 614.7,564.9 614.7,598.7 615.5,606.3 615.5,567.7 616.3,567.7 616.3,605.1 617.1,602.6 617.1,574.6 617.9,586.1 617.9,600.2 618.7,596.5 618.7,573.6 619.5,577.7 619.5,599.1 620.3,595.5 620.3,568.9 621.1,569.9 621.1,610.9 621.9,608.3 621.9,571.8 622.7,565.2 622.7,608.3 623.5,603.2 623.5,581.0 624.3,583.2 624.3,605.8 625.1,600.7 625.1,621.5 625.9,614.2 625.9,584.4 626.7,591.2 626.7,604.7 627.5,592.4 627.5,627.9 628.3,599.7 628.3,578.1 629.1,571.1 629.1,594.8 629.9,589.0 629.9,631.4 630.7,638.3 630.7,599.8 631.5,592.6 631.5,633.2 632.3,619.0 632.3,582.5 633.1,589.1 633.1,628.4 633.9,605.1 633.9,595.0 634.7,602.5 634.7,626.9 635.5,628.6 635.5,588.1 636.3,584.8 636.3,623.9 637.1,625.5 637.1,604.0 637.9,588.2 637.9,620.9 638.7,604.1 638.7,592.9 639.5,599.0 639.5,641.0 640.3,627.3 640.3,584.9 641.1,605.5 641.1,629.0 641.9,619.6 641.9,589.5 642.7,600.4 642.7,625.8 643.5,639.5 643.5,591.8 644.3,603.0 644.3,641.3 645.1,632.6 645.1,603.0 645.9,604.3 645.9,639.6 646.7,651.0 646.7,608.4 647.5,608.4 647.5,627.7 648.3,629.4 648.3,605.7 649.1,611.2 649.1,643.5 649.9,643.5 649.9,618.5 650.7,609.9 650.7,651.3 651.5,649.4 651.5,604.5 652.3,593.2 652.3,649.4 653.1,643.7 653.1,614.2 653.9,603.3 653.9,640.1 654.7,624.8 654.7,662.1 655.5,662.2 655.5,620.2 656.3,615.8 656.3,643.9 657.1,651.7 657.1,614.3 657.9,594.5 657.9,645.9 658.7,653.9 658.7,617.3 659.5,614.4 659.5,638.5 660.3,660.3 660.3,614.4 661.1,630.0 661.1,646.0 661.9,642.3 661.9,600.8 662.7,617.4 662.7,648.0 663.5,664.9 663.5,622.0 664.3,626.8 664.3,674.4 665.1,652.1 665.1,610.3 665.9,620.5 665.9,669.7 666.7,646.3 666.7,622.1 667.5,622.1 667.5,662.9 668.3,667.5 668.3,642.5 669.1,617.6 669.1,669.9 669.9,656.5 669.9,620.6 670.7,628.6 670.7,665.3 671.5,654.4 671.5,617.6 672.3,628.6 672.3,677.4 673.1,670.1 673.1,611.8 673.9,630.3 673.9,650.4 674.7,658.8 674.7,620.7 675.5,640.9 675.5,672.6 676.3,675.1 676.3,632.1 677.1,635.5 677.1,680.3 677.9,670.3 677.9,639.1 678.7,637.3 678.7,680.3 679.5,659.0 679.5,635.6 680.3,628.8 680.3,668.0 681.1,661.2 681.1,623.9 681.9,627.2 681.9,675.4 682.7,680.5 682.7,632.2 683.5,637.4 683.5,672.9 684.3,668.1 684.3,625.6 685.1,648.8 685.1,691.7 685.9,661.3 685.9,624.0 686.7,628.9 686.7,675.5 687.5,683.4 687.5,619.3 688.3,634.0 688.3,675.6 689.1,675.6 689.1,635.7 689.9,637.5 689.9,691.9 690.7,675.7 690.7,635.8 691.5,625.6 691.5,697.9 692.3,686.3 692.3,645.0 693.1,646.9 693.1,678.3 693.9,695.0 693.9,650.9 694.7,648.9 694.7,686.4 695.5,683.6 695.5,641.3 696.3,657.2 696.3,686.4 697.1,698.1 697.1,655.1 697.9,657.3 697.9,675.9 698.7,686.5 698.7,641.3 699.5,641.3 699.5,698.2 700.3,689.4 700.3,659.5 701.1,657.3 701.1,681.1 701.9,689.4 701.9,653.1 702.7,651.1 702.7,686.6 703.5,692.4 703.5,647.1 704.3,668.7 704.3,698.4 705.1,698.4 705.1,629.0 705.9,647.1 705.9,686.7 706.7,692.4 706.7,668.7 707.5,681.3 707.5,641.4 708.3,649.1 708.3,689.6 709.1,678.7 709.1,639.6 709.9,655.3 709.9,701.7 710.7,701.7 710.7,657.4 711.5,657.5 711.5,695.5 712.3,722.8 712.3,653.2 713.1,659.7 713.1,695.6 713.9,701.8 713.9,653.3 714.7,639.6 714.7,678.8 715.5,701.8 715.5,641.5 716.3,647.2 716.3,681.4 717.1,705.1 717.1,657.5 717.9,624.2 717.9,698.8 718.7,698.8 718.7,673.8 719.5,668.9 719.5,708.6 720.3,695.7 720.3,662.0 721.1,664.2 721.1,689.8 721.9,689.9 721.9,655.4 722.7,649.2 722.7,702.0 723.5,681.6 723.5,662.0 724.3,641.5 724.3,684.3 725.1,678.9 725.1,705.3 725.9,739.9 725.9,666.6 726.7,671.4 726.7,723.2 727.5,689.9 727.5,641.5 728.3,666.6 728.3,723.3 729.1,712.2 729.1,681.6 729.9,666.6 729.9,708.8 730.7,705.4 730.7,673.9 731.5,662.0 731.5,708.8 732.3,749.5 732.3,666.6 733.1,643.4 733.1,712.3 733.9,719.6 733.9,647.3 734.7,653.4 734.7,702.2 735.5,708.9 735.5,679.1 736.3,676.5 736.3,715.9 737.1,699.1 737.1,669.1 737.9,651.4 737.9,699.1 738.7,705.6 738.7,662.1 739.5,684.5 739.5,708.9 740.3,731.6 740.3,674.0 741.1,662.1 741.1,696.1 741.9,709.0 741.9,674.0 742.7,664.4 742.7,705.6 743.5,712.5 743.5,676.5 744.3,679.1 744.3,727.6 745.1,696.1 745.1,657.7 745.9,669.1 745.9,716.1 746.7,749.9 746.7,671.5 747.5,674.0 747.5,727.6 748.3,719.8 748.3,671.5 749.1,664.4 749.1,709.1 749.9,705.7 749.9,671.6 750.7,666.8 750.7,716.2 751.5,705.7 751.5,659.9 752.3,679.2 752.3,705.7 753.1,709.1 753.1,653.5 753.9,681.9 753.9,716.2 754.7,719.9 754.7,690.2 755.5,684.6 755.5,736.2 756.3,716.2 756.3,676.6 757.1,666.8 757.1,720.0 757.9,699.3 757.9,657.7 758.7,696.2 758.7,716.3 759.5,709.2 759.5,679.2 760.3,669.2 760.3,702.5 761.1,687.4 761.1,727.8 761.9,716.3 761.9,674.1 762.7,674.1 762.7,740.7 763.5,702.6 763.5,664.5 764.3,660.0 764.3,716.3 765.1,727.9 765.1,676.7 765.9,679.3 765.9,712.7 766.7,712.8 766.7,671.6 767.5,693.3 767.5,712.8 768.3,727.9 768.3,676.7 769.1,664.5 769.1,712.8 769.9,724.0 769.9,687.5 770.7,679.3 770.7,720.1 771.5,724.0 771.5,666.8 772.3,674.1 772.3,760.7 773.1,728.0 773.1,653.5 773.9,662.2 773.9,724.0 774.7,720.2 774.7,666.8 775.5,676.7 775.5,728.0 776.3,750.4 776.3,693.3 777.1,696.3 777.1,724.0 777.9,724.0 777.9,696.4 778.7,682.0 778.7,712.8 779.5,736.5 779.5,682.0 780.3,690.4 780.3,724.1 781.1,736.5 781.1,682.0 781.9,671.7 781.9,741.0 782.7,709.4 782.7,684.7 783.5,664.5 783.5,706.0 784.3,696.4 784.3,716.5 785.1,712.9 785.1,679.3 785.9,684.7 785.9,766.5 786.7,745.7 786.7,671.7 787.5,676.7 787.5,720.2 788.3,736.6 788.3,669.3 789.1,690.4 789.1,728.1 789.9,728.1 789.9,693.4 790.7,699.5 790.7,750.6 791.5,720.3 791.5,687.6 792.3,671.7 792.3,712.9 793.1,706.0 793.1,745.8 793.9,728.2 793.9,699.5 794.7,696.4 794.7,741.1 795.5,741.1 795.5,693.4 796.3,679.4 796.3,713.0 797.1,696.4 797.1,736.6 797.9,728.2 797.9,702.8 798.7,713.0 798.7,679.4 799.5,684.8 799.5,716.6 800.3,702.8 800.3,732.3 801.1,755.8 801.1,699.6 801.9,687.6 801.9,745.8 802.7,778.9 802.7,674.2 803.5,693.4 803.5,741.2 804.3,750.7 804.3,684.8 805.1,696.5 805.1,741.2 805.9,732.4 805.9,693.4 806.7,693.4 806.7,728.2 807.5,728.2 807.5,682.1 808.3,702.8 808.3,745.9 809.1,716.6 809.1,690.5 809.9,693.4 809.9,755.9 810.7,736.7 810.7,674.2 811.5,684.8 811.5,724.2 812.3,736.7 812.3,709.5 813.1,682.1 813.1,761.2 813.9,750.8 813.9,693.4 814.7,682.1 814.7,779.0 815.5,761.2 815.5,676.8 816.3,684.8 816.3,732.4 817.1,741.2 817.1,690.5 817.9,690.5 817.9,741.3 818.7,736.8 818.7,687.6 819.5,687.6 819.5,745.9 820.3,755.9 820.3,684.8 821.1,687.6 821.1,745.9 821.9,741.3 821.9,674.2 822.7,713.0 822.7,755.9 823.5,724.3 823.5,696.5 824.3,684.8 824.3,736.8 825.1,756.0 825.1,696.5 825.9,679.4 825.9,746.0 826.7,736.8 826.7,687.6 827.5,684.8 827.5,756.0 828.3,741.3 828.3,696.5 829.1,693.5 829.1,750.9 829.9,750.9 829.9,706.2 830.7,679.4 830.7,746.0 831.5,779.1 831.5,676.8 832.3,716.7 832.3,732.5 833.1,736.8 833.1,674.2 833.9,684.8 833.9,750.9 834.7,736.8 834.7,693.5 835.5,676.8 835.5,746.0 836.3,741.3 836.3,693.5 837.1,696.5 837.1,732.5 837.9,750.9 837.9,699.6 838.7,690.5 838.7,736.8 839.5,728.4 839.5,687.6 840.3,702.9 840.3,746.0 841.1,732.5 841.1,696.5 841.9,706.2 841.9,746.0 842.7,761.4 842.7,682.1 843.5,702.9 843.5,756.0 844.3,761.4 844.3,702.9 845.1,693.5 845.1,720.5 845.9,728.4 845.9,684.8 846.7,706.2 846.7,736.9 847.5,713.1 847.5,767.1 848.3,720.5 848.3,690.5 849.1,728.4 849.1,779.2 849.9,773.0 849.9,709.6 850.7,702.9 850.7,732.6 851.5,773.0 851.5,666.9 852.3,690.5 852.3,756.1 853.1,751.0 853.1,684.8 853.9,690.5 853.9,756.1 854.7,736.9 854.7,702.9 855.5,699.7 855.5,732.6 856.3,761.5 856.3,702.9 857.1,676.8 857.1,736.9 857.9,736.9 857.9,699.7 858.7,709.6 858.7,751.0 859.5,767.1 859.5,687.7 860.3,706.2 860.3,800.5 861.1,746.1 861.1,724.4 861.9,687.7 861.9,773.0 862.7,773.0 862.7,699.7 863.5,716.8 863.5,751.0 864.3,761.5 864.3,696.6 865.1,693.5 865.1,767.1 865.9,736.9 865.9,709.6 866.7,724.4 866.7,674.3 867.5,687.7 867.5,746.1 868.3,756.1 868.3,690.6 869.1,679.4 869.1,746.1 869.9,786.0 869.9,706.2 870.7,709.6 870.7,746.1 871.5,741.4 871.5,674.3 872.3,706.2 872.3,756.1 873.1,746.1 873.1,699.7 873.9,696.6 873.9,741.4 874.7,751.0 874.7,702.9 875.5,699.7 875.5,756.2 876.3,800.5 876.3,684.9 877.1,706.2 877.1,741.5 877.9,751.0 877.9,669.3 878.7,690.6 878.7,756.2 879.5,756.2 879.5,690.6 880.3,693.5 880.3,761.5 881.1,728.4 881.1,699.7 881.9,693.5 881.9,741.5 882.7,716.8 882.7,779.4 883.5,741.5 883.5,696.6 884.3,690.6 884.3,751.1 885.1,756.2 885.1,709.6 885.9,702.9 885.9,737.0 886.7,741.5 886.7,690.6 887.5,713.2 887.5,751.1 888.3,746.2 888.3,693.5 889.1,690.6 889.1,800.6 889.9,728.5 889.9,699.7 890.7,696.6 890.7,786.0 891.5,737.0 891.5,682.1 892.3,696.6 892.3,732.6 893.1,693.5 893.1,773.1 893.9,741.5 893.9,687.7 894.7,699.7 894.7,767.2 895.5,746.2 895.5,693.5 896.3,690.6 896.3,737.0 897.1,773.1 897.1,690.6 897.9,699.7 897.9,751.1 898.7,741.5 898.7,706.2 899.5,713.2 899.5,779.4 900.3,751.1 900.3,693.5 901.1,666.9 901.1,773.2 901.9,741.5 901.9,684.9 902.7,702.9 902.7,751.1 903.5,741.5 903.5,696.6 904.3,709.7 904.3,786.1 905.1,724.5 905.1,702.9 905.9,713.2 905.9,800.7 906.7,728.5 906.7,682.1 907.5,696.6 907.5,761.6 908.3,741.5 908.3,679.4 909.1,699.7 909.1,756.2 909.9,728.5 909.9,699.7 910.7,702.9 910.7,817.4 911.5,751.1 911.5,696.6 912.3,693.5 912.3,767.2 913.1,741.5 913.1,676.8 913.9,693.5 913.9,732.7 914.7,702.9 914.7,793.1 915.5,732.7 915.5,696.6 916.3,716.8 916.3,737.0 917.1,751.1 917.1,720.6 917.9,699.7 917.9,786.1 918.7,779.5 918.7,693.5 919.5,709.7 919.5,746.2 920.3,751.1 920.3,682.1 921.1,687.7 921.1,779.5 921.9,741.5 921.9,693.5 922.7,699.7 922.7,751.1 923.5,756.2 923.5,713.2 924.3,716.8 924.3,767.3 925.1,800.7 925.1,699.7 925.9,716.8 925.9,773.2 926.7,732.7 926.7,696.6 927.5,706.3 927.5,779.5 928.3,732.7 928.3,699.7 929.1,687.7 929.1,773.2 929.9,761.6 929.9,699.7 930.7,716.8 930.7,767.3 931.5,767.3 931.5,699.7 932.3,693.5 932.3,728.5 933.1,737.0 933.1,716.8 933.9,696.6 933.9,761.6 934.7,800.7 934.7,693.5 935.5,690.6 935.5,761.6 936.3,732.7 936.3,720.6 937.1,699.7 937.1,793.2 937.9,767.3 937.9,690.6 938.7,713.2 938.7,751.1 939.5,737.0 939.5,682.1 940.3,702.9 940.3,767.3 941.1,786.1 941.1,720.6 941.9,706.3 941.9,793.2 942.7,746.2 942.7,724.5 943.5,713.2 943.5,767.3 944.3,751.1 944.3,690.6 945.1,684.9 945.1,732.7 945.9,746.2 945.9,713.2 946.7,699.7 946.7,741.5 947.5,751.1 947.5,690.6 948.3,713.2 948.3,732.7 949.1,756.3 949.1,702.9 949.9,709.7 949.9,746.2 950.7,756.3 950.7,696.6 951.5,676.8 951.5,786.2 952.3,746.2 952.3,699.7 953.1,709.7 953.1,751.1 953.9,741.5 953.9,687.7 954.7,706.3 954.7,756.3 955.5,779.5 955.5,687.7 956.3,709.7 956.3,751.1 957.1,741.5 957.1,702.9 957.9,713.2 957.9,767.3 958.7,751.1 958.7,706.3 959.5,728.5 959.5,756.3 960.3,773.2 960.3,676.8 961.1,703.0 961.1,793.2 961.9,751.2 961.9,716.8 962.7,706.3 962.7,728.5 963.5,746.2 963.5,703.0 964.3,690.6 964.3,746.2 965.1,732.7 965.1,699.7 965.9,706.3 965.9,761.7 966.7,728.5 966.7,674.3 967.5,713.2 967.5,786.2 968.3,756.3 968.3,706.3 969.1,696.6 969.1,746.2 969.9,737.0 969.9,684.9 970.7,699.7 970.7,761.7 971.5,767.3 971.5,703.0 972.3,693.6 972.3,741.5 973.1,720.6 973.1,779.5 973.9,779.5 973.9,690.6 974.7,699.7 974.7,741.6 975.5,746.3 975.5,706.3 976.3,699.7 976.3,756.3 977.1,741.6 977.1,703.0 977.9,703.0 977.9,756.3 978.7,737.0 978.7,706.3 979.5,693.6 979.5,756.3 980.3,773.3 980.3,709.7 981.1,696.6 981.1,767.3 981.9,767.3 981.9,703.0 982.7,696.6 982.7,746.3 983.5,737.0 983.5,693.6 984.3,709.7 984.3,779.5 985.1,761.7 985.1,709.7 985.9,696.6 985.9,756.3 986.7,751.2 986.7,709.7 987.5,687.7 987.5,751.2 988.3,737.0 988.3,709.7 989.1,687.7 989.1,767.3 989.9,746.3 989.9,693.6 990.7,676.8 990.7,737.0 991.5,751.2 991.5,696.6 992.3,687.7 992.3,751.2 993.1,767.3 993.1,696.6 993.9,713.2 993.9,751.2 994.7,751.2 994.7,699.7 995.5,703.0 995.5,746.3 996.3,746.3 996.3,699.7 997.1,703.0 997.1,756.3 997.9,761.7 997.9,706.3 998.7,713.2 998.7,767.3 999.5,751.2 999.5,693.6 1000.3,706.3 1000.3,751.2 1001.1,737.0 1001.1,706.3 1001.9,713.2 1001.9,741.6 1002.7,746.3 1002.7,699.7 1003.5,679.5 1003.5,746.3 1004.3,751.2 1004.3,709.7 1005.1,709.7 1005.1,756.3 1005.9,732.7 1005.9,669.3 1006.7,696.6 1006.7,732.7 1007.5,751.2 1007.5,687.7 1008.3,706.3 1008.3,751.2 1009.1,751.2 1009.1,703.0 1009.9,713.2 1009.9,756.3 1010.7,741.6 1010.7,693.6 1011.5,709.7 1011.5,761.7 1012.3,756.3 1012.3,696.6 1013.1,699.7 1013.1,737.0 1013.9,773.3 1013.9,690.6 1014.7,703.0 1014.7,746.3 1015.5,773.3 1015.5,696.6 1016.3,696.6 1016.3,793.3 1017.1,756.3 1017.1,687.7 1017.9,703.0 1017.9,761.7 1018.7,767.3 1018.7,713.2 1019.5,713.2 1019.5,737.1 1020.3,761.7 1020.3,693.6 1021.1,703.0 1021.1,746.3 1021.9,779.6 1021.9,703.0 1022.7,699.7 1022.7,737.1 1023.5,741.6 1023.5,687.7 1024.3,709.7 1024.3,761.7 1025.1,786.2 1025.1,693.6 1025.9,693.6 1025.9,746.3 1026.7,728.5 1026.7,703.0 1027.5,716.9 1027.5,767.3 1028.3,756.3 1028.3,716.9 1029.1,699.7 1029.1,751.2 1029.9,767.3 1029.9,699.7 1030.7,703.0 1030.7,751.2 1031.5,761.7 1031.5,696.6 1032.3,699.7 1032.3,761.7 1033.1,773.3 1033.1,696.6 1033.9,709.7 1033.9,767.3 1034.7,761.7 1034.7,706.3 1035.5,693.6 1035.5,761.7 1036.3,741.6 1036.3,703.0 1037.1,706.3 1037.1,779.6 1037.9,767.3 1037.9,706.3 1038.7,684.9 1038.7,746.3 1039.5,773.3 1039.5,703.0 1040.3,690.6 1040.3,741.6 1041.1,713.2 1041.1,773.3 1041.9,746.3 1041.9,716.9 1042.7,684.9 1042.7,756.3 1043.5,751.2 1043.5,724.5 1044.3,716.9 1044.3,746.3 1045.1,761.7 1045.1,682.1 1045.9,709.7 1045.9,737.1 1046.7,737.1 1046.7,693.6 1047.5,720.6 1047.5,779.6 1048.3,756.3 1048.3,720.6 1049.1,699.7 1049.1,751.2 1049.9,756.3 1049.9,716.9 1050.7,756.3 1050.7,669.3 1051.5,703.0 1051.5,761.7 1052.3,761.7 1052.3,706.3 1053.1,696.6 1053.1,751.2 1053.9,737.1 1053.9,693.6 1054.7,696.6 1054.7,786.2 1055.5,756.3 1055.5,713.2 1056.3,728.5 1056.3,756.3 1057.1,800.8 1057.1,709.7 1057.9,693.6 1057.9,767.3 1058.7,767.3 1058.7,699.7 1059.5,699.7 1059.5,786.2 1060.3,746.3 1060.3,696.6 1061.1,687.7 1061.1,773.3 1061.9,751.2 1061.9,699.7 1062.7,684.9 1062.7,756.3 1063.5,793.3 1063.5,703.0 1064.3,693.6 1064.3,786.2 1065.1,800.8 1065.1,706.3 1065.9,690.6 1065.9,761.7 1066.7,746.3 1066.7,713.2 1067.5,716.9 1067.5,751.2 1068.3,716.9 1068.3,786.2 1069.1,756.3 1069.1,696.6 1069.9,693.6 1069.9,732.7 1070.7,746.3 1070.7,713.2 1071.5,693.6 1071.5,786.2 1072.3,761.7 1072.3,716.9 1073.1,724.5 1073.1,767.3 1073.9,786.2 1073.9,684.9 1074.7,687.7 1074.7,751.2 1075.5,761.7 1075.5,687.7 1076.3,699.7 1076.3,761.7 1077.1,786.2 1077.1,684.9 1077.9,693.6 1077.9,756.3 1078.7,751.2 1078.7,716.9 1079.5,699.7 1079.5,767.3 1080.3,767.3 1080.3,716.9 1081.1,737.1 1081.1,684.9 1081.9,699.7 1081.9,756.3 1082.7,761.7 1082.7,699.7 1083.5,693.6 1083.5,773.3 1084.3,800.8 1084.3,709.7 1085.1,703.0 1085.1,751.2 1085.9,756.3 1085.9,693.6 1086.7,709.7 1086.7,746.3 1087.5,751.2 1087.5,724.5 1088.3,773.3 1088.3,669.3 1089.1,684.9 1089.1,773.3 1089.9,767.3 1089.9,703.0 1090.7,699.7 1090.7,761.7 1091.5,767.3 1091.5,716.9 1092.3,713.2 1092.3,767.3 1093.1,741.6 1093.1,687.7 1093.9,684.9 1093.9,773.3 1094.7,751.2 1094.7,693.6 1095.5,706.3 1095.5,800.8 1096.3,773.3 1096.3,713.2 1097.1,699.7 1097.1,773.3 1097.9,761.7 1097.9,703.0 1098.7,699.7 1098.7,756.3 1099.5,746.3 1099.5,699.7 1100.3,703.0 1100.3,746.3 1101.1,761.7 1101.1,682.1 1101.9,703.0 1101.9,741.6 1102.7,737.1 1102.7,669.3 1103.5,703.0 1103.5,751.2 1104.3,737.1 1104.3,693.6 1105.1,682.1 1105.1,767.4 1105.9,741.6 1105.9,706.3 1106.7,706.3 1106.7,724.5 1107.5,741.6 1107.5,706.3 1108.3,693.6 1108.3,786.2 1109.1,761.7 1109.1,696.6 1109.9,709.7 1109.9,756.3 1110.7,756.3 1110.7,690.6 1111.5,699.7 1111.5,751.2 1112.3,767.4 1112.3,720.6 1113.1,709.7 1113.1,761.7 1113.9,756.3 1113.9,720.6 1114.7,732.7 1114.7,703.0 1115.5,703.0 1115.5,761.7 1116.3,786.2 1116.3,696.6 1117.1,713.2 1117.1,746.3 1117.9,767.4 1117.9,716.9 1118.7,706.3 1118.7,751.2 1119.5,767.4 1119.5,709.7 1120.3,724.5 1120.3,761.7 1121.1,737.1 1121.1,709.7 1121.9,706.3 1121.9,751.2 1122.7,737.1 1122.7,793.3 1123.5,761.7 1123.5,706.3 1124.3,706.3 1124.3,767.4 1125.1,761.7 1125.1,696.6 1125.9,706.3 1125.9,779.6 1126.7,728.5 1126.7,696.6 1127.5,690.6 1127.5,779.6 1128.3,761.7 1128.3,696.6 1129.1,716.9 1129.1,767.4 1129.9,779.6 1129.9,716.9 1130.7,716.9 1130.7,751.2 1131.5,767.4 1131.5,690.6 1132.3,690.6 1132.3,793.3 1133.1,746.3 1133.1,720.6 1133.9,706.3 1133.9,746.3 1134.7,728.5 1134.7,690.6 1135.5,709.7 1135.5,817.6 1136.3,761.7 1136.3,693.6 1137.1,696.6 1137.1,746.3 1137.9,767.4 1137.9,693.6 1138.7,703.0 1138.7,746.3 1139.5,741.6 1139.5,709.7 1140.3,709.7 1140.3,756.3 1141.1,773.3 1141.1,703.0 1141.9,684.9 1141.9,779.6 1142.7,761.7 1142.7,713.2 1143.5,699.7 1143.5,732.7 1144.3,741.6 1144.3,709.7 1145.1,696.6 1145.1,761.7 1145.9,779.6 1145.9,699.7 1146.7,699.7 1146.7,761.7 1147.5,737.1 1147.5,684.9 1148.3,682.1 1148.3,751.2 1149.1,737.1 1149.1,693.6 1149.9,703.0 1149.9,767.4 1150.7,786.2 1150.7,724.5 1151.5,703.0 1151.5,767.4 1152.3,741.6 1152.3,679.5 1153.1,713.2 1153.1,746.3 1153.9,751.2 1153.9,724.5 1154.7,737.1 1154.7,699.7 1155.5,716.9 1155.5,737.1 1156.3,761.7 1156.3,693.6 1157.1,693.6 1157.1,761.7 1157.9,756.3 1157.9,713.2 1158.7,709.7 1158.7,751.2 1159.5,741.6 1159.5,713.2 1160.3,713.2 1160.3,761.7 1161.1,751.2 1161.1,709.7 1161.9,709.7 1161.9,741.6 1162.7,751.2 1162.7,696.6 1163.5,720.6 1163.5,773.3 1164.3,746.3 1164.3,713.2 1165.1,728.5 1165.1,817.7 1165.9,793.3 1165.9,716.9 1166.7,713.2 1166.7,773.3 1167.5,751.2 1167.5,716.9 1168.3,709.7 1168.3,737.1 1169.1,761.7 1169.1,703.0 1169.9,706.3 1169.9,746.3 1170.7,773.3 1170.7,699.7 1171.5,693.6 1171.5,746.3 1172.3,751.2 1172.3,703.0 1173.1,699.7 1173.1,793.3 1173.9,751.2 1173.9,716.9 1174.7,703.0 1174.7,761.7 1175.5,756.3 1175.5,699.7 1176.3,687.7 1176.3,746.3 1177.1,773.3 1177.1,703.0 1177.9,709.7 1177.9,773.3 1178.7,746.3 1178.7,684.9 1179.5,699.7 1179.5,751.2 1180.3,761.7 1180.3,716.9 1181.1,713.2 1181.1,741.6 1181.9,767.4 1181.9,703.0 1182.7,687.7 1182.7,761.7 1183.5,773.3 1183.5,690.6 1184.3,699.7 1184.3,761.7 1185.1,756.3 1185.1,728.5 1185.9,746.3 1185.9,679.5 1186.7,684.9 1186.7,756.3 1187.5,737.1 1187.5,690.6 1188.3,724.5 1188.3,756.3 1189.1,756.3 1189.1,690.6 1189.9,696.6 1189.9,773.3 1190.7,761.7 1190.7,713.2 1191.5,716.9 1191.5,767.4 1192.3,817.7 1192.3,706.3 1193.1,713.2 1193.1,751.2 1193.9,737.1 1193.9,706.3 1194.7,706.3 1194.7,751.2 1195.5,773.3 1195.5,716.9 1196.3,728.5 1196.3,793.3 1197.1,756.3 1197.1,682.1 1197.9,713.2 1197.9,767.4 1198.7,773.3 1198.7,713.2 1199.5,699.7 1199.5,761.7 1200.3,761.7 1200.3,699.7 1201.1,703.0 1201.1,751.2 1201.9,751.2 1201.9,716.9 1202.7,699.7 1202.7,751.2 1203.5,746.3 1203.5,709.7 1204.3,669.3 1204.3,786.2 1205.1,756.3 1205.1,699.7 1205.9,706.3 1205.9,761.7 1206.7,761.7 1206.7,713.2 1207.5,699.7 1207.5,756.3 1208.3,767.4 1208.3,693.6 1209.1,716.9 1209.1,761.7 1209.9,751.2 1209.9,703.0 1210.7,669.3 1210.7,741.6 1211.5,741.6 1211.5,690.6 1212.3,703.0 1212.3,756.3 1213.1,773.3 1213.1,716.9 1213.9,696.6 1213.9,773.3 1214.7,746.3 1214.7,716.9 1215.5,679.5 1215.5,756.3 1216.3,761.7 1216.3,703.0 1217.1,706.3 1217.1,756.3 1217.9,761.7 1217.9,682.1 1218.7,690.6 1218.7,728.5 1219.5,696.6 1219.5,767.4 1220.3,741.6 1220.3,709.7 1221.1,693.6 1221.1,767.4 1221.9,786.2 1221.9,709.7 1222.7,693.6 1222.7,756.3 1223.5,746.3 1223.5,703.0 1224.3,713.2 1224.3,746.3 1225.1,761.7 1225.1,703.0 1225.9,693.6 1225.9,746.3 1226.7,737.1 1226.7,696.6 1227.5,687.7 1227.5,767.4 1228.3,756.3 1228.3,696.6 1229.1,699.7 1229.1,746.3 1229.9,761.7 1229.9,687.7 1230.7,699.7 1230.7,751.2 1231.5,746.3 1231.5,699.7 1232.3,706.3 1232.3,746.3 1233.1,709.7 1233.1,786.2 1233.9,741.6 1233.9,699.7 1234.7,687.7 1234.7,786.2 1235.5,767.4 1235.5,699.7 1236.3,716.9 1236.3,741.6 1237.1,746.3 1237.1,706.3 1237.9,716.9 1237.9,761.7 1238.7,751.2 1238.7,706.3 1239.5,724.5 1239.5,756.3 1240.3,741.6 1240.3,696.6 1241.1,699.7 1241.1,761.7 1241.9,761.7 1241.9,703.0 1242.7,693.6 1242.7,741.6 1243.5,767.4 1243.5,706.3 1244.3,690.6 1244.3,724.5 1245.1,703.0 1245.1,751.2 1245.9,761.7 1245.9,693.6 1246.7,699.7 1246.7,767.4 1247.5,741.6 1247.5,687.7 1248.3,699.7 1248.3,746.3 1249.1,767.4 1249.1,687.7 1249.9,720.6 1249.9,741.6 1250.7,756.3 1250.7,693.6 1251.5,703.0 1251.5,751.2 1252.3,761.7 1252.3,728.5 1253.1,751.2 1253.1,699.7 1253.9,696.6 1253.9,737.1 1254.7,756.3 1254.7,684.9 1255.5,720.6 1255.5,761.7 1256.3,751.2 1256.3,709.7 1257.1,713.2 1257.1,793.3 1257.9,756.3 1257.9,724.5 1258.7,709.7 1258.7,756.3 1259.5,751.2 1259.5,716.9 1260.3,724.5 1260.3,767.4 1261.1,767.4 1261.1,716.9 1261.9,713.2 1261.9,737.1 1262.7,773.3 1262.7,679.5 1263.5,713.2 1263.5,767.4 1264.3,767.4 1264.3,724.5 1265.1,724.5 1265.1,751.2 1265.9,746.3 1265.9,703.0 1266.7,690.6 1266.7,800.9 1267.5,728.5 1267.5,699.7 1268.3,703.0 1268.3,732.7 1269.1,767.4 1269.1,693.6 1269.9,713.2 1269.9,746.3 1270.7,741.6 1270.7,676.8 1271.5,699.7 1271.5,746.3 1272.3,713.2 1272.3,786.2 1273.1,767.4 1273.1,706.3 1273.9,716.9 1273.9,786.2 1274.7,756.3 1274.7,703.0 1275.5,687.7 1275.5,761.7 1276.3,741.6 1276.3,696.6 1277.1,684.9 1277.1,746.3 1277.9,751.2 1277.9,709.7 1278.7,696.6 1278.7,746.3 1279.5,779.6 1279.5,706.3 1280.3,703.0 1280.3,737.1 1281.1,746.3 1281.1,703.0 1281.9,696.6 1281.9,741.6 1282.7,767.4 1282.7,684.9 1283.5,716.9 1283.5,761.7 1284.3,756.3 1284.3,690.6 1285.1,693.6 1285.1,756.3 1285.9,751.2 1285.9,690.6 1286.7,699.7 1286.7,746.3 1287.5,728.5 1287.5,690.6 1288.3,706.3 1288.3,773.3 1289.1,751.2 1289.1,716.9 1289.9,706.3 1289.9,746.3 1290.7,773.3 1290.7,713.2 1291.5,746.3 1291.5,674.3 1292.3,709.7 1292.3,756.3 1293.1,756.3 1293.1,699.7 1293.9,716.9 1293.9,761.7 1294.7,720.6 1294.7,693.6 1295.5,724.5 1295.5,767.4 1296.3,767.4 1296.3,724.5 1297.1,716.9 1297.1,761.7 1297.9,767.4 1297.9,713.2 1298.7,699.7 1298.7,786.2 1299.5,746.3 1299.5,703.0 1300.3,709.7 1300.3,746.3 1301.1,786.2 1301.1,706.3 1301.9,703.0 1301.9,737.1 1302.7,761.7 1302.7,699.7 1303.5,706.3 1303.5,767.4 1304.3,732.7 1304.3,713.2 1305.1,682.1 1305.1,756.3 1305.9,706.3 1305.9,817.7 1306.7,746.3 1306.7,706.3 1307.5,696.6 1307.5,724.5 1308.3,709.7 1308.3,773.3 1309.1,767.4 1309.1,706.3 1309.9,709.7 1309.9,746.3 1310.7,728.5 1310.7,684.9 1311.5,699.7 1311.5,779.6 1312.3,786.2 1312.3,690.6 1313.1,703.0 1313.1,741.6 1313.9,713.2 1313.9,682.1 1314.7,699.7 1314.7,737.1 1315.5,713.2 1315.5,773.3 1316.3,756.3 1316.3,706.3 1317.1,693.6 1317.1,773.3 1317.9,767.4 1317.9,696.6 1318.7,696.6 1318.7,741.6 1319.5,756.3 1319.5,696.6 1320.3,706.3 1320.3,786.2 1321.1,751.2 1321.1,699.7 1321.9,716.9 1321.9,751.2 1322.7,779.6 1322.7,699.7 1323.5,687.7 1323.5,793.3 1324.3,761.7 1324.3,684.9 1325.1,696.6 1325.1,756.3 1325.9,746.3 1325.9,693.6 1326.7,709.7 1326.7,817.7 1327.5,737.1 1327.5,674.3 1328.3,699.7 1328.3,756.3 1329.1,741.6 1329.1,706.3 1329.9,684.9 1329.9,737.1 1330.7,713.2 1330.7,786.2 1331.5,751.2 1331.5,709.7 1332.3,693.6 1332.3,773.3 1333.1,728.5 1333.1,706.3 1333.9,706.3 1333.9,767.4 1334.7,773.3 1334.7,716.9 1335.5,720.6 1335.5,761.7 1336.3,761.7 1336.3,703.0 1337.1,682.1 1337.1,761.7 1337.9,761.7 1337.9,693.6 1338.7,693.6 1338.7,761.7 1339.5,773.3 1339.5,720.6 1340.3,746.3 1340.3,687.7 1341.1,684.9 1341.1,741.6 1341.9,761.7 1341.9,699.7 1342.7,690.6 1342.7,751.2 1343.5,761.7 1343.5,709.7 1344.3,709.7 1344.3,756.3 1345.1,761.7 1345.1,703.0 1345.9,709.7 1345.9,779.6 1346.7,751.2 1346.7,713.2 1347.5,716.9 1347.5,751.2 1348.3,751.2 1348.3,706.3 1349.1,706.3 1349.1,767.4 1349.9,746.3 1349.9,716.9 1350.7,706.3 1350.7,751.2 1351.5,761.7 1351.5,728.5 1352.3,706.3 1352.3,786.2 1353.1,746.3 1353.1,693.6 1353.9,699.7 1353.9,741.6 1354.7,737.1 1354.7,693.6 1355.5,732.7 1355.5,786.2 1356.3,761.7 1356.3,703.0 1357.1,693.6 1357.1,761.7 1357.9,761.7 1357.9,687.7 1358.7,703.0 1358.7,751.2 1359.5,751.2 1359.5,696.6 1360.3,724.5 1360.3,767.4 1361.1,746.3 1361.1,716.9 1361.9,696.6 1361.9,746.3 1362.7,716.9 1362.7,779.6 1363.5,737.1 1363.5,679.5 1364.3,696.6 1364.3,751.2 1365.1,741.6 1365.1,724.5 1365.9,732.7 1365.9,703.0 1366.7,676.8 1366.7,773.3 1367.5,767.4 1367.5,716.9 1368.3,728.5 1368.3,741.6 1369.1,724.5 1369.1,699.7 1369.9,682.1 1369.9,732.7 1370.7,756.3 1370.7,696.6 1371.5,699.7 1371.5,746.3 1372.3,737.1 1372.3,706.3 1373.1,706.3 1373.1,756.3 1373.9,793.3 1373.9,684.9 1374.7,720.6 1374.7,786.2 1375.5,751.2 1375.5,690.6 1376.3,687.7 1376.3,786.2 1377.1,741.6 1377.1,696.6 1377.9,720.6 1377.9,779.6 1378.7,773.3 1378.7,693.6 1379.5,696.6 1379.5,761.7 1380.3,751.2 1380.3,709.7 1381.1,728.5 1381.1,684.9 1381.9,693.6 1381.9,737.1 1382.7,761.7 1382.7,690.6 1383.5,696.6 1383.5,746.3 1384.3,724.5 1384.3,773.3 1385.1,751.2 1385.1,706.3 1385.9,703.0 1385.9,751.2 1386.7,746.3 1386.7,709.7 1387.5,690.6 1387.5,746.3 1388.3,724.5 1388.3,699.7 1389.1,709.7 1389.1,793.3 1389.9,746.3 1389.9,720.6 1390.7,696.6 1390.7,751.2 1391.5,751.2 1391.5,706.3 1392.3,703.0 1392.3,728.5 1393.1,756.3 1393.1,687.7 1393.9,706.3 1393.9,737.1 1394.7,756.3 1394.7,709.7 1395.5,713.2 1395.5,741.6 1396.3,741.6 1396.3,693.6 1397.1,706.3 1397.1,751.2 1397.9,751.2 1397.9,699.7 1398.7,666.9 1398.7,756.3 1399.5,779.6 1399.5,684.9 1400.3,703.0 1400.3,737.1 1401.1,767.4 1401.1,687.7 1401.9,713.2 1401.9,751.2 1402.7,773.3 1402.7,703.0 1403.5,696.6 1403.5,746.3 1404.3,756.3 1404.3,693.6 1405.1,696.6 1405.1,773.3 1405.9,741.6 1405.9,693.6 1406.7,713.2 1406.7,793.3 1407.5,756.3 1407.5,703.0 1408.3,703.0 1408.3,732.7 1409.1,761.7 1409.1,690.6 1409.9,716.9 1409.9,767.4 1410.7,779.6 1410.7,699.7 1411.5,703.0 1411.5,767.4 1412.3,767.4 1412.3,696.6 1413.1,706.3 1413.1,800.9 1413.9,767.4 1413.9,709.7 1414.7,687.7 1414.7,779.6 1415.5,817.7 1415.5,709.7 1416.3,699.7 1416.3,756.3" fill="none" stroke="#ff8000" stroke-width="3.4" stroke-linejoin="round"/>
</g>
<g id="axes">
<rect x="341.6" y="52.5" width="1083.1999999999998" height="787.8" fill="none" stroke="#000" stroke-width="3"/>
<path d="M361.67 840.3v-8.2M417.60 840.3v-15.3M473.53 840.3v-8.2M529.46 840.3v-15.3M585.39 840.3v-8.2M641.32 840.3v-15.3M697.25 840.3v-8.2M753.18 840.3v-15.3M809.11 840.3v-8.2M865.04 840.3v-15.3M920.97 840.3v-8.2M976.90 840.3v-15.3M1032.83 840.3v-8.2M1088.76 840.3v-15.3M1144.69 840.3v-8.2M1200.62 840.3v-15.3M1256.55 840.3v-8.2M1312.48 840.3v-15.3M1368.41 840.3v-8.2M341.6 762.33h8.2M341.6 716.73h8.2M341.6 684.37h8.2M341.6 659.27h8.2M341.6 638.76h8.2M341.6 621.42h8.2M341.6 606.40h8.2M341.6 593.15h8.2M341.6 581.30h15.3M341.6 503.33h8.2M341.6 457.73h8.2M341.6 425.37h8.2M341.6 400.27h8.2M341.6 379.76h8.2M341.6 362.42h8.2M341.6 347.40h8.2M341.6 334.15h8.2M341.6 322.30h15.3M341.6 244.33h8.2M341.6 198.73h8.2M341.6 166.37h8.2M341.6 141.27h8.2M341.6 120.76h8.2M341.6 103.42h8.2M341.6 88.40h8.2M341.6 75.15h8.2M341.6 63.30h15.3" stroke="#000" stroke-width="3" fill="none"/>
</g>
<g id="labels" opacity="0.999">
<text x="708.19" y="107.60" font-size="47.5" fill="#000000" textLength="147.81" lengthAdjust="spacingAndGlyphs">1%Sm</text>
<text x="858.24" y="93.30" font-size="33.5" fill="#000000" textLength="18.11" lengthAdjust="spacingAndGlyphs">3</text>
<text x="878.24" y="102.00" font-size="55" fill="#000000" stroke="#fff" stroke-width="1.2" textLength="31.11" lengthAdjust="spacingAndGlyphs">+</text>
<text x="913.04" y="107.60" font-size="47.5" fill="#000000" textLength="13.33" lengthAdjust="spacingAndGlyphs">,</text>
<text x="942.28" y="107.60" font-size="39.5" fill="#000000" font-style="italic" font-family="DejaVu Serif, Liberation Serif, serif" stroke="#fff" stroke-width="0.6" textLength="28.43" lengthAdjust="spacingAndGlyphs">τ</text>
<text x="972.20" y="115.20" font-size="33.5" fill="#000000" textLength="13.40" lengthAdjust="spacingAndGlyphs">1</text>
<text x="1000.23" y="114.05" font-size="55" fill="#000000" stroke="#fff" stroke-width="0.8" textLength="40.31" lengthAdjust="spacingAndGlyphs">=</text>
<text x="1054.14" y="107.60" font-size="47.5" fill="#000000" textLength="125.96" lengthAdjust="spacingAndGlyphs">0.862</text>
<text x="1199.81" y="107.60" font-size="47.5" fill="#000000" textLength="65.99" lengthAdjust="spacingAndGlyphs">ms</text>
<text x="708.53" y="176.00" font-size="47.5" fill="#ff0000" textLength="147.47" lengthAdjust="spacingAndGlyphs">2%Sm</text>
<text x="858.24" y="161.70" font-size="33.5" fill="#ff0000" textLength="18.11" lengthAdjust="spacingAndGlyphs">3</text>
<text x="878.24" y="170.40" font-size="55" fill="#ff0000" stroke="#fff" stroke-width="1.2" textLength="31.11" lengthAdjust="spacingAndGlyphs">+</text>
<text x="913.04" y="176.00" font-size="47.5" fill="#ff0000" textLength="13.33" lengthAdjust="spacingAndGlyphs">,</text>
<text x="942.28" y="176.00" font-size="39.5" fill="#ff0000" font-style="italic" font-family="DejaVu Serif, Liberation Serif, serif" stroke="#fff" stroke-width="0.6" textLength="28.43" lengthAdjust="spacingAndGlyphs">τ</text>
<text x="970.93" y="183.60" font-size="33.5" fill="#ff0000" textLength="16.41" lengthAdjust="spacingAndGlyphs">2</text>
<text x="1000.23" y="182.45" font-size="55" fill="#ff0000" stroke="#fff" stroke-width="0.8" textLength="40.31" lengthAdjust="spacingAndGlyphs">=</text>
<text x="1054.15" y="176.00" font-size="47.5" fill="#ff0000" textLength="125.04" lengthAdjust="spacingAndGlyphs">0.859</text>
<text x="1199.81" y="176.00" font-size="47.5" fill="#ff0000" textLength="65.99" lengthAdjust="spacingAndGlyphs">ms</text>
<text x="708.38" y="245.00" font-size="47.5" fill="#0000ff" textLength="147.62" lengthAdjust="spacingAndGlyphs">3%Sm</text>
<text x="858.24" y="230.70" font-size="33.5" fill="#0000ff" textLength="18.11" lengthAdjust="spacingAndGlyphs">3</text>
<text x="878.24" y="239.40" font-size="55" fill="#0000ff" stroke="#fff" stroke-width="1.2" textLength="31.11" lengthAdjust="spacingAndGlyphs">+</text>
<text x="913.04" y="245.00" font-size="47.5" fill="#0000ff" textLength="13.33" lengthAdjust="spacingAndGlyphs">,</text>
<text x="942.28" y="245.00" font-size="39.5" fill="#0000ff" font-style="italic" font-family="DejaVu Serif, Liberation Serif, serif" stroke="#fff" stroke-width="0.6" textLength="28.43" lengthAdjust="spacingAndGlyphs">τ</text>
<text x="970.87" y="252.60" font-size="33.5" fill="#0000ff" textLength="15.81" lengthAdjust="spacingAndGlyphs">3</text>
<text x="1000.23" y="251.45" font-size="55" fill="#0000ff" stroke="#fff" stroke-width="0.8" textLength="40.31" lengthAdjust="spacingAndGlyphs">=</text>
<text x="1054.16" y="245.00" font-size="47.5" fill="#0000ff" textLength="124.89" lengthAdjust="spacingAndGlyphs">0.848</text>
<text x="1199.81" y="245.00" font-size="47.5" fill="#0000ff" textLength="65.99" lengthAdjust="spacingAndGlyphs">ms</text>
<text x="709.99" y="314.00" font-size="47.5" fill="#ff8000" textLength="146.00" lengthAdjust="spacingAndGlyphs">4%Sm</text>
<text x="858.24" y="299.70" font-size="33.5" fill="#ff8000" textLength="18.11" lengthAdjust="spacingAndGlyphs">3</text>
<text x="878.24" y="308.40" font-size="55" fill="#ff8000" stroke="#fff" stroke-width="1.2" textLength="31.11" lengthAdjust="spacingAndGlyphs">+</text>
<text x="913.04" y="314.00" font-size="47.5" fill="#ff8000" textLength="13.33" lengthAdjust="spacingAndGlyphs">,</text>
<text x="942.28" y="314.00" font-size="39.5" fill="#ff8000" font-style="italic" font-family="DejaVu Serif, Liberation Serif, serif" stroke="#fff" stroke-width="0.6" textLength="28.43" lengthAdjust="spacingAndGlyphs">τ</text>
<text x="971.88" y="321.60" font-size="33.5" fill="#ff8000" textLength="14.04" lengthAdjust="spacingAndGlyphs">4</text>
<text x="1000.23" y="320.45" font-size="55" fill="#ff8000" stroke="#fff" stroke-width="0.8" textLength="40.31" lengthAdjust="spacingAndGlyphs">=</text>
<text x="1054.15" y="314.00" font-size="47.5" fill="#ff8000" textLength="125.04" lengthAdjust="spacingAndGlyphs">0.835</text>
<text x="1199.81" y="314.00" font-size="47.5" fill="#ff8000" textLength="65.99" lengthAdjust="spacingAndGlyphs">ms</text>
<text x="707.78" y="383.60" font-size="47.5" fill="#ff00ff" textLength="148.22" lengthAdjust="spacingAndGlyphs">5%Sm</text>
<text x="858.24" y="369.30" font-size="33.5" fill="#ff00ff" textLength="18.11" lengthAdjust="spacingAndGlyphs">3</text>
<text x="878.24" y="378.00" font-size="55" fill="#ff00ff" stroke="#fff" stroke-width="1.2" textLength="31.11" lengthAdjust="spacingAndGlyphs">+</text>
<text x="913.04" y="383.60" font-size="47.5" fill="#ff00ff" textLength="13.33" lengthAdjust="spacingAndGlyphs">,</text>
<text x="942.28" y="383.60" font-size="39.5" fill="#ff00ff" font-style="italic" font-family="DejaVu Serif, Liberation Serif, serif" stroke="#fff" stroke-width="0.6" textLength="28.43" lengthAdjust="spacingAndGlyphs">τ</text>
<text x="970.60" y="391.20" font-size="33.5" fill="#ff00ff" textLength="16.10" lengthAdjust="spacingAndGlyphs">5</text>
<text x="1000.23" y="390.05" font-size="55" fill="#ff00ff" stroke="#fff" stroke-width="0.8" textLength="40.31" lengthAdjust="spacingAndGlyphs">=</text>
<text x="1054.16" y="383.60" font-size="47.5" fill="#ff00ff" textLength="124.44" lengthAdjust="spacingAndGlyphs">0.807</text>
<text x="1199.81" y="383.60" font-size="47.5" fill="#ff00ff" textLength="65.99" lengthAdjust="spacingAndGlyphs">ms</text>
<text x="711.90" y="437.60" font-size="47.5" fill="#000" font-style="italic" textLength="25.59" lengthAdjust="spacingAndGlyphs">λ</text>
<text x="737.50" y="444.30" font-size="33.5" fill="#000" textLength="37.94" lengthAdjust="spacingAndGlyphs">ex</text>
<text x="787.72" y="444.05" font-size="55" fill="#000" stroke="#fff" stroke-width="0.8" textLength="41.52" lengthAdjust="spacingAndGlyphs">=</text>
<text x="842.80" y="437.60" font-size="47.5" fill="#000" textLength="81.34" lengthAdjust="spacingAndGlyphs">403</text>
<text x="945.40" y="437.60" font-size="47.5" fill="#000" textLength="84.01" lengthAdjust="spacingAndGlyphs">nm,</text>
<text x="1058.80" y="437.60" font-size="47.5" fill="#000" font-style="italic" textLength="25.69" lengthAdjust="spacingAndGlyphs">λ</text>
<text x="1085.06" y="444.30" font-size="33.5" fill="#000" textLength="47.07" lengthAdjust="spacingAndGlyphs">em</text>
<text x="1144.72" y="444.05" font-size="55" fill="#000" stroke="#fff" stroke-width="0.8" textLength="41.52" lengthAdjust="spacingAndGlyphs">=</text>
<text x="1199.40" y="437.60" font-size="47.5" fill="#000" textLength="82.07" lengthAdjust="spacingAndGlyphs">644</text>
<text x="1301.62" y="437.60" font-size="47.5" fill="#000" textLength="74.54" lengthAdjust="spacingAndGlyphs">nm</text>
<text x="403.97" y="893.00" font-size="47.5" fill="#000" textLength="25.12" lengthAdjust="spacingAndGlyphs">4</text>
<text x="514.46" y="893.00" font-size="47.5" fill="#000" textLength="27.28" lengthAdjust="spacingAndGlyphs">6</text>
<text x="626.60" y="893.00" font-size="47.5" fill="#000" textLength="27.44" lengthAdjust="spacingAndGlyphs">8</text>
<text x="722.64" y="893.00" font-size="47.5" fill="#000" textLength="56.26" lengthAdjust="spacingAndGlyphs">10</text>
<text x="834.40" y="893.00" font-size="47.5" fill="#000" textLength="57.47" lengthAdjust="spacingAndGlyphs">12</text>
<text x="946.48" y="893.00" font-size="47.5" fill="#000" textLength="54.94" lengthAdjust="spacingAndGlyphs">14</text>
<text x="1058.27" y="893.00" font-size="47.5" fill="#000" textLength="55.76" lengthAdjust="spacingAndGlyphs">16</text>
<text x="1170.08" y="893.00" font-size="47.5" fill="#000" textLength="56.26" lengthAdjust="spacingAndGlyphs">18</text>
<text x="1284.43" y="893.00" font-size="47.5" fill="#000" textLength="53.68" lengthAdjust="spacingAndGlyphs">20</text>
<text x="1396.24" y="893.00" font-size="47.5" fill="#000" textLength="54.78" lengthAdjust="spacingAndGlyphs">22</text>
<text x="698.80" y="970.20" font-size="49" fill="#000" textLength="145.35" lengthAdjust="spacingAndGlyphs">Decay</text>
<text x="865.69" y="970.20" font-size="49" fill="#000" textLength="106.04" lengthAdjust="spacingAndGlyphs">time</text>
<text x="1001.35" y="970.20" font-size="49" fill="#000" textLength="65.94" lengthAdjust="spacingAndGlyphs">ms</text>
<text x="974.85" y="980.84" font-size="70.3" fill="#000" stroke="#fff" stroke-width="0.8" textLength="21.03" lengthAdjust="spacingAndGlyphs">/</text>
<text x="247.01" y="67.00" font-size="47.5" fill="#000" textLength="55.12" lengthAdjust="spacingAndGlyphs">10</text>
<text x="302.24" y="53.00" font-size="33.5" fill="#000" textLength="19.63" lengthAdjust="spacingAndGlyphs">0</text>
<text x="213.12" y="328.80" font-size="47.5" fill="#000" textLength="53.86" lengthAdjust="spacingAndGlyphs">10</text>
<text x="271.83" y="317.80" font-size="33.5" fill="#000" textLength="27.57" lengthAdjust="spacingAndGlyphs">−</text>
<text x="303.13" y="314.80" font-size="33.5" fill="#000" textLength="17.91" lengthAdjust="spacingAndGlyphs">1</text>
<text x="213.12" y="591.60" font-size="47.5" fill="#000" textLength="53.86" lengthAdjust="spacingAndGlyphs">10</text>
<text x="271.83" y="580.60" font-size="33.5" fill="#000" textLength="27.57" lengthAdjust="spacingAndGlyphs">−</text>
<text x="302.94" y="577.60" font-size="33.5" fill="#000" textLength="19.66" lengthAdjust="spacingAndGlyphs">2</text>
<text x="213.12" y="855.00" font-size="47.5" fill="#000" textLength="53.86" lengthAdjust="spacingAndGlyphs">10</text>
<text x="271.83" y="842.80" font-size="33.5" fill="#000" textLength="27.57" lengthAdjust="spacingAndGlyphs">−</text>
<text x="302.86" y="839.80" font-size="33.5" fill="#000" textLength="18.95" lengthAdjust="spacingAndGlyphs">3</text>
<text transform="translate(164.20,684.16) rotate(-90)" font-size="49" textLength="211.58" lengthAdjust="spacingAndGlyphs">Intensity</text>
<text transform="translate(164.20,438.38) rotate(-90)" font-size="49" textLength="93.37" lengthAdjust="spacingAndGlyphs">arb.</text>
<text transform="translate(164.20,324.47) rotate(-90)" font-size="49" textLength="116.87" lengthAdjust="spacingAndGlyphs">units</text>
<text transform="translate(174.14,465.95) rotate(-90)" font-size="70.3" stroke="#fff" stroke-width="0.8" textLength="21.03" lengthAdjust="spacingAndGlyphs">/</text>
</g>
</svg>
</body></html>
